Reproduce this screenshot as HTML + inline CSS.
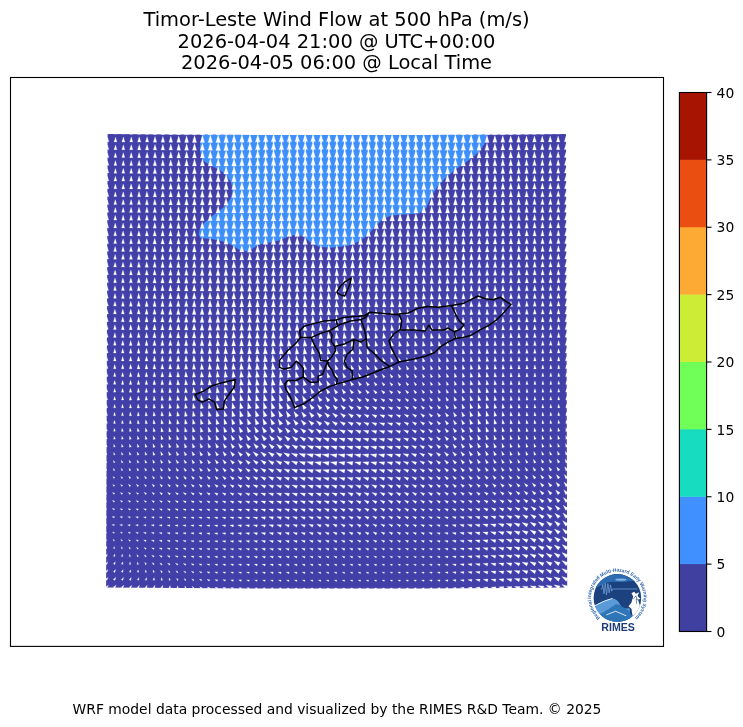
<!DOCTYPE html>
<html><head><meta charset="utf-8"><title>Timor-Leste Wind Flow at 500 hPa</title>
<style>html,body{margin:0;padding:0;background:#fff}svg{display:block}text{font-family:"DejaVu Sans","Liberation Sans",sans-serif;fill:#000}</style>
</head><body>
<svg width="743" height="727" viewBox="0 0 743 727">
<rect width="743" height="727" fill="#fff"/>
<g text-anchor="middle" font-size="19.44">
<text x="336.5" y="26">Timor-Leste Wind Flow at 500 hPa (m/s)</text>
<text x="336.5" y="47.6">2026-04-04 21:00 @ UTC+00:00</text>
<text x="336.5" y="69.2">2026-04-05 06:00 @ Local Time</text>
</g>
<clipPath id="dc"><path d="M107.6 134.0 Q336.8 136.2 566.0 134.0 L567.2 587.6 Q336.7 589.6 106.1 587.6Z"/></clipPath>
<path d="M107.6 134.0 Q336.8 136.2 566.0 134.0 L567.2 587.6 Q336.7 589.6 106.1 587.6Z" fill="#4240a8"/>
<path d="M203.4 130.0 L200.3 142.2 L199.7 148.7 L200.8 155.1 L202.9 160.5 L209.4 164.8 L218.0 169.1 L225.5 174.5 L230.9 182.1 L232.6 189.6 L231.3 197.1 L226.6 204.7 L220.1 210.1 L211.5 216.5 L204.0 223.0 L199.7 229.4 L198.6 234.8 L200.8 238.0 L211.5 239.1 L222.3 241.3 L230.9 244.5 L239.5 249.9 L247.1 251.6 L252.4 248.8 L258.9 244.5 L269.7 242.4 L280.4 240.2 L289.1 235.9 L297.7 234.8 L304.1 237.0 L310.6 242.4 L319.2 246.7 L330.0 247.7 L340.0 246.7 L348.6 245.6 L359.4 241.3 L368.0 234.8 L375.5 226.2 L383.1 218.7 L391.7 215.4 L404.6 214.4 L419.7 213.3 L426.1 207.9 L430.4 198.2 L436.9 187.4 L445.5 177.8 L456.3 169.1 L467.0 161.6 L477.8 153.0 L484.3 144.4 L488.6 130.0Z" fill="#3d8ffc" clip-path="url(#dc)"/>
<path d="M109.0 134.0 107.6 129.5 106.2 134.0zM116.9 134.1 115.5 129.4 114.1 134.1zM124.9 134.1 123.4 129.2 121.9 134.1zM132.8 134.2 131.3 129.1 129.8 134.2zM140.8 134.3 139.2 129.0 137.6 134.3zM148.8 134.3 147.1 128.8 145.5 134.3zM156.7 134.4 155.0 128.7 153.3 134.4zM164.7 134.4 162.9 128.5 161.2 134.4zM172.7 134.5 170.8 128.3 169.0 134.5zM180.7 134.5 178.7 128.1 176.8 134.5zM188.6 134.6 186.6 127.9 184.6 134.6zM196.6 134.6 194.5 127.6 192.4 134.6zM204.6 134.7 202.4 127.4 200.3 134.7zM212.6 134.7 210.3 127.2 208.1 134.7zM220.6 134.7 218.2 127.0 215.9 134.7zM226.9 134.8 226.9 133.9 228.5 134.7 226.2 126.9 223.8 134.7 225.4 133.9 225.4 134.8zM234.8 134.8 234.8 133.8 236.4 134.6 234.1 126.8 231.7 134.6 233.3 133.8 233.3 134.8zM242.7 134.8 242.7 133.7 244.3 134.5 242.0 126.7 239.6 134.5 241.2 133.7 241.2 134.8zM250.6 134.9 250.6 133.6 252.2 134.4 249.9 126.6 247.5 134.4 249.1 133.6 249.1 134.9zM258.5 134.9 258.5 133.5 260.1 134.3 257.8 126.5 255.4 134.3 257.0 133.5 257.0 134.9zM266.5 134.9 266.5 133.4 268.0 134.2 265.7 126.4 263.3 134.2 264.9 133.4 264.9 134.9zM274.4 134.9 274.4 133.4 275.9 134.1 273.6 126.3 271.2 134.1 272.8 133.4 272.8 134.9zM282.3 134.9 282.3 133.3 283.8 134.1 281.5 126.3 279.1 134.1 280.7 133.3 280.7 134.9zM290.2 135.0 290.2 133.3 291.7 134.1 289.4 126.2 287.0 134.1 288.6 133.3 288.6 135.0zM298.1 135.0 298.1 133.2 299.6 134.0 297.3 126.2 294.9 134.0 296.5 133.2 296.5 135.0zM306.0 135.0 306.0 133.2 307.5 134.0 305.2 126.1 302.8 134.0 304.4 133.2 304.4 135.0zM313.9 135.0 313.9 133.1 315.4 133.9 313.1 126.1 310.7 133.9 312.3 133.1 312.3 135.0zM321.8 135.0 321.8 133.1 323.3 133.9 321.0 126.0 318.6 133.9 320.2 133.1 320.2 135.0zM329.7 135.0 329.7 133.1 331.2 133.8 328.9 126.0 326.5 133.8 328.1 133.1 328.1 135.0zM337.6 135.0 337.6 133.1 339.2 133.9 336.8 126.0 334.4 133.9 336.0 133.1 336.0 135.0zM345.5 135.0 345.5 133.1 347.1 133.9 344.7 126.0 342.4 133.9 343.9 133.1 343.9 135.0zM353.4 135.0 353.4 133.1 355.0 133.9 352.6 126.0 350.3 133.9 351.8 133.1 351.8 135.0zM361.3 135.0 361.3 133.1 362.9 133.9 360.5 126.1 358.2 133.9 359.7 133.1 359.7 135.0zM369.2 135.0 369.2 133.1 370.8 133.9 368.4 126.1 366.1 133.9 367.6 133.1 367.6 135.0zM377.1 135.0 377.1 133.1 378.7 133.9 376.3 126.1 374.0 133.9 375.5 133.1 375.5 135.0zM385.0 135.0 385.0 133.1 386.6 133.9 384.2 126.1 381.9 133.9 383.4 133.1 383.4 135.0zM392.9 134.9 392.9 133.1 394.5 133.9 392.1 126.1 389.8 133.9 391.3 133.1 391.3 134.9zM400.8 134.9 400.8 133.2 402.4 134.0 400.0 126.2 397.7 134.0 399.2 133.2 399.2 134.9zM408.7 134.9 408.7 133.3 410.3 134.1 407.9 126.2 405.6 134.1 407.1 133.3 407.1 134.9zM416.6 134.9 416.6 133.4 418.2 134.2 415.8 126.3 413.5 134.2 415.1 133.4 415.1 134.9zM424.5 134.9 424.5 133.5 426.1 134.2 423.7 126.4 421.4 134.2 423.0 133.5 423.0 134.9zM432.4 134.8 432.4 133.5 434.0 134.3 431.6 126.5 429.3 134.3 430.9 133.5 430.9 134.8zM440.3 134.8 440.3 133.6 441.9 134.4 439.5 126.5 437.2 134.4 438.8 133.6 438.8 134.8zM448.2 134.8 448.2 133.7 449.8 134.5 447.4 126.6 445.1 134.5 446.7 133.7 446.7 134.8zM456.1 134.7 456.1 133.9 457.7 134.6 455.4 126.8 453.0 134.6 454.6 133.9 454.6 134.7zM465.6 134.7 463.3 127.0 460.9 134.7zM473.4 134.7 471.2 127.1 468.9 134.7zM481.3 134.6 479.1 127.3 476.9 134.6zM489.1 134.6 487.0 127.4 484.8 134.6zM497.0 134.5 494.9 127.6 492.8 134.5zM504.8 134.5 502.8 127.7 500.7 134.5zM512.7 134.4 510.7 127.8 508.7 134.4zM520.5 134.4 518.6 127.9 516.6 134.4zM528.4 134.3 526.5 128.0 524.6 134.3zM536.2 134.3 534.4 128.1 532.5 134.3zM544.1 134.2 542.3 128.1 540.5 134.2zM552.0 134.1 550.2 128.2 548.4 134.1zM559.8 134.1 558.1 128.2 556.4 134.1zM567.7 134.0 566.0 128.3 564.3 134.0zM108.9 141.8 107.6 137.3 106.2 141.8zM116.9 141.9 115.5 137.2 114.1 141.9zM124.9 142.0 123.4 137.0 121.9 142.0zM132.8 142.0 131.3 136.9 129.8 142.0zM140.8 142.1 139.2 136.8 137.6 142.1zM148.7 142.1 147.1 136.7 145.5 142.1zM156.7 142.2 155.0 136.5 153.3 142.2zM164.7 142.2 162.9 136.4 161.1 142.2zM172.7 142.3 170.8 136.2 169.0 142.3zM180.6 142.3 178.7 135.9 176.8 142.3zM188.6 142.4 186.6 135.7 184.6 142.4zM196.6 142.4 194.5 135.5 192.4 142.4zM204.6 142.5 202.4 135.3 200.3 142.5zM212.6 142.5 210.3 135.1 208.1 142.5zM220.5 142.6 218.2 134.9 215.9 142.6zM228.5 142.6 226.1 134.8 223.8 142.6zM234.8 142.6 234.8 141.7 236.4 142.5 234.0 134.7 231.7 142.5 233.3 141.7 233.3 142.6zM242.7 142.6 242.7 141.6 244.3 142.4 241.9 134.6 239.6 142.4 241.2 141.6 241.2 142.6zM250.6 142.7 250.6 141.5 252.2 142.3 249.9 134.5 247.5 142.3 249.1 141.5 249.1 142.7zM258.5 142.7 258.5 141.4 260.1 142.2 257.8 134.4 255.4 142.2 257.0 141.4 257.0 142.7zM266.4 142.7 266.4 141.3 268.0 142.1 265.7 134.3 263.3 142.1 264.9 141.3 264.9 142.7zM274.3 142.7 274.3 141.2 275.9 142.0 273.6 134.2 271.2 142.0 272.8 141.2 272.8 142.7zM282.3 142.8 282.3 141.2 283.8 142.0 281.5 134.1 279.1 142.0 280.7 141.2 280.7 142.8zM290.2 142.8 290.2 141.1 291.7 141.9 289.4 134.1 287.0 141.9 288.6 141.1 288.6 142.8zM298.1 142.8 298.1 141.1 299.6 141.9 297.3 134.0 294.9 141.9 296.5 141.1 296.5 142.8zM306.0 142.8 306.0 141.0 307.5 141.8 305.2 134.0 302.8 141.8 304.4 141.0 304.4 142.8zM313.9 142.8 313.9 141.0 315.4 141.8 313.1 133.9 310.7 141.8 312.3 141.0 312.3 142.8zM321.8 142.8 321.8 140.9 323.3 141.7 321.0 133.9 318.6 141.7 320.2 140.9 320.2 142.8zM329.7 142.8 329.7 140.9 331.2 141.7 328.9 133.9 326.5 141.7 328.1 140.9 328.1 142.8zM337.6 142.8 337.6 140.9 339.1 141.7 336.8 133.9 334.4 141.7 336.0 140.9 336.0 142.8zM345.5 142.8 345.5 141.0 347.1 141.7 344.7 133.9 342.4 141.7 343.9 141.0 343.9 142.8zM353.4 142.8 353.4 141.0 355.0 141.8 352.6 133.9 350.3 141.8 351.8 141.0 351.8 142.8zM361.3 142.8 361.3 141.0 362.9 141.8 360.5 133.9 358.2 141.8 359.7 141.0 359.7 142.8zM369.2 142.8 369.2 141.0 370.8 141.8 368.4 133.9 366.1 141.8 367.6 141.0 367.6 142.8zM377.1 142.8 377.1 141.0 378.7 141.8 376.3 134.0 374.0 141.8 375.5 141.0 375.5 142.8zM385.0 142.8 385.0 141.0 386.6 141.8 384.2 134.0 381.9 141.8 383.4 141.0 383.4 142.8zM392.9 142.8 392.9 141.0 394.5 141.8 392.1 134.0 389.8 141.8 391.3 141.0 391.3 142.8zM400.8 142.7 400.8 141.1 402.4 141.9 400.0 134.1 397.7 141.9 399.2 141.1 399.2 142.7zM408.7 142.7 408.7 141.2 410.3 142.0 407.9 134.2 405.6 142.0 407.2 141.2 407.2 142.7zM416.6 142.7 416.6 141.3 418.2 142.1 415.8 134.3 413.5 142.1 415.1 141.3 415.1 142.7zM424.5 142.7 424.5 141.4 426.1 142.2 423.7 134.3 421.4 142.2 423.0 141.4 423.0 142.7zM432.4 142.6 432.4 141.5 434.0 142.3 431.6 134.4 429.3 142.3 430.9 141.5 430.9 142.6zM440.3 142.6 440.3 141.6 441.9 142.3 439.6 134.5 437.2 142.3 438.8 141.6 438.8 142.6zM448.2 142.6 448.2 141.7 449.8 142.4 447.5 134.6 445.1 142.4 446.7 141.7 446.7 142.6zM457.7 142.6 455.4 134.8 453.0 142.6zM465.5 142.5 463.3 134.9 461.0 142.5zM473.4 142.5 471.2 135.1 468.9 142.5zM481.2 142.4 479.1 135.2 476.9 142.4zM489.1 142.4 487.0 135.3 484.9 142.4zM496.9 142.3 494.9 135.5 492.8 142.3zM504.8 142.3 502.8 135.6 500.8 142.3zM512.7 142.2 510.7 135.7 508.7 142.2zM520.5 142.2 518.6 135.8 516.7 142.2zM528.4 142.1 526.5 135.9 524.6 142.1zM536.3 142.1 534.4 135.9 532.6 142.1zM544.1 142.0 542.3 136.0 540.5 142.0zM552.0 142.0 550.2 136.0 548.4 142.0zM559.9 141.9 558.1 136.1 556.4 141.9zM567.7 141.8 566.0 136.1 564.3 141.8zM108.9 149.6 107.5 145.1 106.2 149.6zM116.9 149.7 115.5 145.0 114.0 149.7zM124.8 149.8 123.4 144.9 121.9 149.8zM132.8 149.8 131.3 144.7 129.7 149.8zM140.8 149.9 139.2 144.6 137.6 149.9zM148.7 150.0 147.1 144.5 145.4 150.0zM156.7 150.0 155.0 144.4 153.3 150.0zM164.6 150.1 162.9 144.2 161.1 150.1zM172.6 150.1 170.8 144.0 169.0 150.1zM180.6 150.2 178.7 143.8 176.8 150.2zM188.6 150.2 186.6 143.6 184.6 150.2zM196.6 150.3 194.5 143.4 192.4 150.3zM204.5 150.3 202.4 143.2 200.3 150.3zM212.5 150.3 210.3 143.0 208.1 150.3zM220.5 150.4 218.2 142.8 215.9 150.4zM228.4 150.4 226.1 142.7 223.8 150.4zM234.8 150.4 234.8 149.6 236.4 150.4 234.0 142.6 231.7 150.4 233.2 149.6 233.2 150.4zM242.7 150.5 242.7 149.5 244.3 150.3 241.9 142.5 239.6 150.3 241.2 149.5 241.2 150.5zM250.6 150.5 250.6 149.4 252.2 150.2 249.8 142.4 247.5 150.2 249.1 149.4 249.1 150.5zM258.5 150.5 258.5 149.3 260.1 150.1 257.7 142.3 255.4 150.1 257.0 149.3 257.0 150.5zM266.4 150.5 266.4 149.2 268.0 150.0 265.6 142.1 263.3 150.0 264.9 149.2 264.9 150.5zM274.3 150.6 274.3 149.1 275.9 149.9 273.6 142.1 271.2 149.9 272.8 149.1 272.8 150.6zM282.2 150.6 282.2 149.1 283.8 149.9 281.5 142.0 279.1 149.9 280.7 149.1 280.7 150.6zM290.1 150.6 290.1 149.0 291.7 149.8 289.4 142.0 287.0 149.8 288.6 149.0 288.6 150.6zM298.1 150.6 298.1 149.0 299.6 149.8 297.3 141.9 294.9 149.8 296.5 149.0 296.5 150.6zM306.0 150.6 306.0 148.9 307.5 149.7 305.2 141.9 302.8 149.7 304.4 148.9 304.4 150.6zM313.9 150.6 313.9 148.9 315.4 149.6 313.1 141.8 310.7 149.6 312.3 148.9 312.3 150.6zM321.8 150.6 321.8 148.8 323.3 149.6 321.0 141.7 318.6 149.6 320.2 148.8 320.2 150.6zM329.7 150.6 329.7 148.8 331.2 149.6 328.9 141.7 326.5 149.6 328.1 148.8 328.1 150.6zM337.6 150.6 337.6 148.8 339.1 149.6 336.8 141.8 334.4 149.6 336.0 148.8 336.0 150.6zM345.5 150.6 345.5 148.8 347.1 149.6 344.7 141.8 342.3 149.6 343.9 148.8 343.9 150.6zM353.4 150.6 353.4 148.9 355.0 149.6 352.6 141.8 350.3 149.6 351.8 148.9 351.8 150.6zM361.3 150.6 361.3 148.9 362.9 149.7 360.5 141.8 358.2 149.7 359.7 148.9 359.7 150.6zM369.2 150.6 369.2 148.9 370.8 149.7 368.4 141.8 366.1 149.7 367.6 148.9 367.6 150.6zM377.1 150.6 377.1 148.9 378.7 149.7 376.3 141.8 374.0 149.7 375.5 148.9 375.5 150.6zM385.0 150.6 385.0 148.9 386.6 149.7 384.2 141.9 381.9 149.7 383.4 148.9 383.4 150.6zM392.9 150.6 392.9 148.9 394.5 149.7 392.1 141.9 389.8 149.7 391.3 148.9 391.3 150.6zM400.8 150.6 400.8 149.0 402.4 149.8 400.0 142.0 397.7 149.8 399.3 149.0 399.3 150.6zM408.7 150.5 408.7 149.1 410.3 149.9 407.9 142.1 405.6 149.9 407.2 149.1 407.2 150.5zM416.6 150.5 416.6 149.2 418.2 150.0 415.8 142.2 413.5 150.0 415.1 149.2 415.1 150.5zM424.5 150.5 424.5 149.3 426.1 150.1 423.8 142.3 421.4 150.1 423.0 149.3 423.0 150.5zM432.4 150.5 432.4 149.4 434.0 150.2 431.7 142.4 429.3 150.2 430.9 149.4 430.9 150.5zM440.3 150.4 440.3 149.5 441.9 150.3 439.6 142.5 437.2 150.3 438.8 149.5 438.8 150.4zM448.2 150.4 448.2 149.6 449.8 150.4 447.5 142.6 445.1 150.4 446.7 149.6 446.7 150.4zM457.7 150.4 455.4 142.7 453.1 150.4zM465.5 150.3 463.3 142.9 461.0 150.3zM473.4 150.3 471.2 143.0 469.0 150.3zM481.2 150.3 479.1 143.1 476.9 150.3zM489.1 150.2 487.0 143.2 484.9 150.2zM496.9 150.2 494.9 143.4 492.9 150.2zM504.8 150.1 502.8 143.5 500.8 150.1zM512.7 150.1 510.7 143.6 508.8 150.1zM520.5 150.0 518.6 143.7 516.7 150.0zM528.4 150.0 526.5 143.7 524.6 150.0zM536.3 149.9 534.4 143.8 532.6 149.9zM544.1 149.8 542.3 143.8 540.5 149.8zM552.0 149.8 550.2 143.9 548.5 149.8zM559.9 149.7 558.1 143.9 556.4 149.7zM567.8 149.6 566.0 143.9 564.3 149.6zM108.9 157.5 107.5 152.9 106.2 157.5zM116.8 157.5 115.4 152.8 114.0 157.5zM124.8 157.6 123.3 152.7 121.9 157.6zM132.8 157.7 131.2 152.6 129.7 157.7zM140.7 157.7 139.1 152.4 137.6 157.7zM148.7 157.8 147.1 152.3 145.4 157.8zM156.7 157.8 155.0 152.2 153.3 157.8zM164.6 157.9 162.9 152.0 161.1 157.9zM172.6 157.9 170.8 151.8 168.9 157.9zM180.6 158.0 178.7 151.7 176.8 158.0zM188.6 158.0 186.6 151.5 184.6 158.0zM196.5 158.1 194.5 151.3 192.4 158.1zM204.5 158.1 202.4 151.1 200.3 158.1zM212.5 158.2 210.3 150.9 208.1 158.2zM220.5 158.2 218.2 150.7 216.0 158.2zM228.4 158.2 226.1 150.6 223.8 158.2zM236.3 158.3 234.0 150.5 231.7 158.3zM242.7 158.3 242.7 157.4 244.3 158.2 241.9 150.4 239.6 158.2 241.1 157.4 241.1 158.3zM250.6 158.3 250.6 157.3 252.2 158.1 249.8 150.3 247.5 158.1 249.0 157.3 249.0 158.3zM258.5 158.3 258.5 157.2 260.1 158.0 257.7 150.1 255.4 158.0 257.0 157.2 257.0 158.3zM266.4 158.4 266.4 157.1 268.0 157.9 265.6 150.0 263.3 157.9 264.9 157.1 264.9 158.4zM274.3 158.4 274.3 157.0 275.9 157.8 273.5 149.9 271.2 157.8 272.8 157.0 272.8 158.4zM282.2 158.4 282.2 156.9 283.8 157.7 281.5 149.9 279.1 157.7 280.7 156.9 280.7 158.4zM290.1 158.4 290.1 156.9 291.7 157.7 289.4 149.8 287.0 157.7 288.6 156.9 288.6 158.4zM298.0 158.4 298.0 156.8 299.6 157.6 297.3 149.8 294.9 157.6 296.5 156.8 296.5 158.4zM306.0 158.4 306.0 156.8 307.5 157.6 305.2 149.7 302.8 157.6 304.4 156.8 304.4 158.4zM313.9 158.5 313.9 156.7 315.4 157.5 313.1 149.7 310.7 157.5 312.3 156.7 312.3 158.5zM321.8 158.5 321.8 156.7 323.3 157.4 321.0 149.6 318.6 157.4 320.2 156.7 320.2 158.5zM329.7 158.5 329.7 156.6 331.2 157.4 328.9 149.6 326.5 157.4 328.1 156.6 328.1 158.5zM337.6 158.5 337.6 156.7 339.1 157.5 336.8 149.6 334.4 157.5 336.0 156.7 336.0 158.5zM345.5 158.5 345.5 156.7 347.0 157.5 344.7 149.6 342.3 157.5 343.9 156.7 343.9 158.5zM353.4 158.5 353.4 156.7 355.0 157.5 352.6 149.7 350.3 157.5 351.8 156.7 351.8 158.5zM361.3 158.5 361.3 156.8 362.9 157.5 360.5 149.7 358.2 157.5 359.7 156.8 359.7 158.5zM369.2 158.4 369.2 156.8 370.8 157.6 368.4 149.7 366.1 157.6 367.6 156.8 367.6 158.4zM377.1 158.4 377.1 156.8 378.7 157.6 376.3 149.7 374.0 157.6 375.5 156.8 375.5 158.4zM385.0 158.4 385.0 156.8 386.6 157.6 384.2 149.8 381.9 157.6 383.4 156.8 383.4 158.4zM392.9 158.4 392.9 156.9 394.5 157.6 392.1 149.8 389.8 157.6 391.3 156.9 391.3 158.4zM400.8 158.4 400.8 157.0 402.4 157.7 400.0 149.9 397.7 157.7 399.3 157.0 399.3 158.4zM408.7 158.4 408.7 157.1 410.3 157.9 407.9 150.0 405.6 157.9 407.2 157.1 407.2 158.4zM416.6 158.3 416.6 157.2 418.2 158.0 415.9 150.1 413.5 158.0 415.1 157.2 415.1 158.3zM424.5 158.3 424.5 157.3 426.1 158.1 423.8 150.2 421.4 158.1 423.0 157.3 423.0 158.3zM432.4 158.3 432.4 157.4 434.0 158.2 431.7 150.3 429.3 158.2 430.9 157.4 430.9 158.3zM440.4 158.3 440.4 157.5 441.9 158.3 439.6 150.4 437.2 158.3 438.8 157.5 438.8 158.3zM449.8 158.2 447.5 150.5 445.2 158.2zM457.6 158.2 455.4 150.7 453.1 158.2zM465.5 158.2 463.3 150.8 461.1 158.2zM473.4 158.1 471.2 150.9 469.0 158.1zM481.2 158.1 479.1 151.1 477.0 158.1zM489.1 158.0 487.0 151.2 484.9 158.0zM496.9 158.0 494.9 151.3 492.9 158.0zM504.8 157.9 502.8 151.4 500.8 157.9zM512.7 157.9 510.7 151.5 508.8 157.9zM520.5 157.8 518.6 151.5 516.7 157.8zM528.4 157.8 526.5 151.6 524.7 157.8zM536.3 157.7 534.4 151.6 532.6 157.7zM544.1 157.7 542.3 151.7 540.6 157.7zM552.0 157.6 550.3 151.7 548.5 157.6zM559.9 157.5 558.2 151.7 556.4 157.5zM567.8 157.5 566.1 151.8 564.4 157.5zM108.9 165.3 107.5 160.7 106.1 165.3zM116.8 165.4 115.4 160.6 114.0 165.4zM124.8 165.4 123.3 160.5 121.8 165.4zM132.7 165.5 131.2 160.4 129.7 165.5zM140.7 165.5 139.1 160.3 137.5 165.5zM148.7 165.6 147.0 160.1 145.4 165.6zM156.6 165.7 154.9 160.0 153.2 165.7zM164.6 165.7 162.8 159.9 161.1 165.7zM172.6 165.8 170.7 159.7 168.9 165.8zM180.5 165.8 178.7 159.5 176.8 165.8zM188.5 165.9 186.6 159.3 184.6 165.9zM196.5 165.9 194.5 159.1 192.4 165.9zM204.5 165.9 202.4 159.0 200.3 165.9zM212.4 166.0 210.3 158.8 208.1 166.0zM220.4 166.0 218.2 158.6 216.0 166.0zM228.4 166.0 226.1 158.5 223.8 166.0zM236.3 166.1 234.0 158.4 231.7 166.1zM242.7 166.1 242.7 165.3 244.3 166.1 241.9 158.3 239.6 166.1 241.1 165.3 241.1 166.1zM250.6 166.1 250.6 165.2 252.2 166.0 249.8 158.2 247.5 166.0 249.0 165.2 249.0 166.1zM258.5 166.2 258.5 165.1 260.1 165.9 257.7 158.0 255.4 165.9 256.9 165.1 256.9 166.2zM266.4 166.2 266.4 165.0 268.0 165.7 265.6 157.9 263.3 165.7 264.8 165.0 264.8 166.2zM274.3 166.2 274.3 164.9 275.9 165.7 273.5 157.8 271.2 165.7 272.8 164.9 272.8 166.2zM282.2 166.2 282.2 164.8 283.8 165.6 281.4 157.8 279.1 165.6 280.7 164.8 280.7 166.2zM290.1 166.2 290.1 164.8 291.7 165.5 289.3 157.7 287.0 165.5 288.6 164.8 288.6 166.2zM298.0 166.3 298.0 164.7 299.6 165.5 297.3 157.7 294.9 165.5 296.5 164.7 296.5 166.3zM305.9 166.3 305.9 164.6 307.5 165.4 305.2 157.6 302.8 165.4 304.4 164.6 304.4 166.3zM313.9 166.3 313.9 164.6 315.4 165.4 313.1 157.5 310.7 165.4 312.3 164.6 312.3 166.3zM321.8 166.3 321.8 164.5 323.3 165.3 321.0 157.5 318.6 165.3 320.2 164.5 320.2 166.3zM329.7 166.3 329.7 164.5 331.2 165.3 328.9 157.4 326.5 165.3 328.1 164.5 328.1 166.3zM337.6 166.3 337.6 164.5 339.1 165.3 336.8 157.5 334.4 165.3 336.0 164.5 336.0 166.3zM345.5 166.3 345.5 164.6 347.0 165.4 344.7 157.5 342.3 165.4 343.9 164.6 343.9 166.3zM353.4 166.3 353.4 164.6 355.0 165.4 352.6 157.6 350.3 165.4 351.8 164.6 351.8 166.3zM361.3 166.3 361.3 164.6 362.9 165.4 360.5 157.6 358.2 165.4 359.7 164.6 359.7 166.3zM369.2 166.3 369.2 164.7 370.8 165.4 368.4 157.6 366.1 165.4 367.6 164.7 367.6 166.3zM377.1 166.3 377.1 164.7 378.7 165.5 376.3 157.6 374.0 165.5 375.5 164.7 375.5 166.3zM385.0 166.2 385.0 164.7 386.6 165.5 384.2 157.7 381.9 165.5 383.4 164.7 383.4 166.2zM392.9 166.2 392.9 164.8 394.5 165.5 392.1 157.7 389.8 165.5 391.4 164.8 391.4 166.2zM400.8 166.2 400.8 164.9 402.4 165.7 400.0 157.8 397.7 165.7 399.3 164.9 399.3 166.2zM408.7 166.2 408.7 165.0 410.3 165.8 407.9 157.9 405.6 165.8 407.2 165.0 407.2 166.2zM416.6 166.2 416.6 165.1 418.2 165.9 415.9 158.1 413.5 165.9 415.1 165.1 415.1 166.2zM424.5 166.1 424.5 165.2 426.1 166.0 423.8 158.2 421.4 166.0 423.0 165.2 423.0 166.1zM432.5 166.1 432.5 165.3 434.0 166.1 431.7 158.3 429.3 166.1 430.9 165.3 430.9 166.1zM441.9 166.1 439.6 158.4 437.3 166.1zM449.8 166.0 447.5 158.5 445.2 166.0zM457.6 166.0 455.4 158.6 453.2 166.0zM465.5 166.0 463.3 158.7 461.1 166.0zM473.3 165.9 471.2 158.9 469.1 165.9zM481.2 165.9 479.1 159.0 477.0 165.9zM489.1 165.9 487.0 159.1 485.0 165.9zM496.9 165.8 494.9 159.2 492.9 165.8zM504.8 165.8 502.8 159.2 500.9 165.8zM512.6 165.7 510.7 159.3 508.8 165.7zM520.5 165.7 518.6 159.4 516.8 165.7zM528.4 165.6 526.5 159.4 524.7 165.6zM536.3 165.5 534.5 159.5 532.6 165.5zM544.1 165.5 542.4 159.5 540.6 165.5zM552.0 165.4 550.3 159.5 548.5 165.4zM559.9 165.4 558.2 159.6 556.4 165.4zM567.8 165.3 566.1 159.6 564.4 165.3zM108.8 173.1 107.5 168.5 106.1 173.1zM116.8 173.2 115.4 168.4 114.0 173.2zM124.8 173.2 123.3 168.3 121.8 173.2zM132.7 173.3 131.2 168.2 129.7 173.3zM140.7 173.4 139.1 168.1 137.5 173.4zM148.6 173.4 147.0 168.0 145.4 173.4zM156.6 173.5 154.9 167.8 153.2 173.5zM164.6 173.5 162.8 167.7 161.1 173.5zM172.5 173.6 170.7 167.5 168.9 173.6zM180.5 173.6 178.6 167.4 176.8 173.6zM188.5 173.7 186.5 167.2 184.6 173.7zM196.5 173.7 194.5 167.0 192.4 173.7zM204.4 173.8 202.4 166.8 200.3 173.8zM212.4 173.8 210.3 166.7 208.1 173.8zM220.4 173.8 218.2 166.5 216.0 173.8zM228.3 173.9 226.1 166.4 223.8 173.9zM236.3 173.9 234.0 166.3 231.7 173.9zM244.2 173.9 241.9 166.2 239.6 173.9zM250.6 174.0 250.6 173.1 252.2 173.9 249.8 166.0 247.5 173.9 249.0 173.1 249.0 174.0zM258.5 174.0 258.5 173.0 260.1 173.8 257.7 165.9 255.4 173.8 256.9 173.0 256.9 174.0zM266.4 174.0 266.4 172.8 268.0 173.6 265.6 165.8 263.3 173.6 264.8 172.8 264.8 174.0zM274.3 174.0 274.3 172.8 275.9 173.5 273.5 165.7 271.2 173.5 272.7 172.8 272.7 174.0zM282.2 174.0 282.2 172.7 283.8 173.5 281.4 165.6 279.1 173.5 280.7 172.7 280.7 174.0zM290.1 174.1 290.1 172.6 291.7 173.4 289.3 165.6 287.0 173.4 288.6 172.6 288.6 174.1zM298.0 174.1 298.0 172.6 299.6 173.4 297.2 165.5 294.9 173.4 296.5 172.6 296.5 174.1zM305.9 174.1 305.9 172.5 307.5 173.3 305.2 165.5 302.8 173.3 304.4 172.5 304.4 174.1zM313.8 174.1 313.8 172.4 315.4 173.2 313.1 165.4 310.7 173.2 312.3 172.4 312.3 174.1zM321.8 174.1 321.8 172.4 323.3 173.2 321.0 165.3 318.6 173.2 320.2 172.4 320.2 174.1zM329.7 174.1 329.7 172.4 331.2 173.1 328.9 165.3 326.5 173.1 328.1 172.4 328.1 174.1zM337.6 174.1 337.6 172.4 339.1 173.2 336.8 165.4 334.4 173.2 336.0 172.4 336.0 174.1zM345.5 174.1 345.5 172.4 347.0 173.2 344.7 165.4 342.3 173.2 343.9 172.4 343.9 174.1zM353.4 174.1 353.4 172.5 355.0 173.3 352.6 165.4 350.3 173.3 351.8 172.5 351.8 174.1zM361.3 174.1 361.3 172.5 362.9 173.3 360.5 165.5 358.2 173.3 359.7 172.5 359.7 174.1zM369.2 174.1 369.2 172.6 370.8 173.3 368.4 165.5 366.1 173.3 367.6 172.6 367.6 174.1zM377.1 174.1 377.1 172.6 378.7 173.4 376.3 165.5 374.0 173.4 375.5 172.6 375.5 174.1zM385.0 174.1 385.0 172.6 386.6 173.4 384.2 165.6 381.9 173.4 383.4 172.6 383.4 174.1zM392.9 174.0 392.9 172.7 394.5 173.5 392.1 165.6 389.8 173.5 391.4 172.7 391.4 174.0zM400.8 174.0 400.8 172.8 402.4 173.6 400.0 165.7 397.7 173.6 399.3 172.8 399.3 174.0zM408.7 174.0 408.7 172.9 410.3 173.7 408.0 165.9 405.6 173.7 407.2 172.9 407.2 174.0zM416.6 174.0 416.6 173.0 418.2 173.8 415.9 166.0 413.5 173.8 415.1 173.0 415.1 174.0zM424.6 174.0 424.6 173.2 426.1 173.9 423.8 166.1 421.4 173.9 423.0 173.2 423.0 174.0zM434.0 173.9 431.7 166.2 429.4 173.9zM441.9 173.9 439.6 166.3 437.3 173.9zM449.7 173.9 447.5 166.5 445.3 173.9zM457.6 173.8 455.4 166.6 453.2 173.8zM465.4 173.8 463.3 166.7 461.2 173.8zM473.3 173.8 471.2 166.8 469.1 173.8zM481.2 173.7 479.1 166.9 477.1 173.7zM489.0 173.7 487.0 167.0 485.0 173.7zM496.9 173.6 494.9 167.1 493.0 173.6zM504.8 173.6 502.8 167.1 500.9 173.6zM512.6 173.5 510.8 167.2 508.9 173.5zM520.5 173.5 518.7 167.3 516.8 173.5zM528.4 173.4 526.6 167.3 524.7 173.4zM536.3 173.4 534.5 167.3 532.7 173.4zM544.2 173.3 542.4 167.4 540.6 173.3zM552.0 173.2 550.3 167.4 548.5 173.2zM559.9 173.2 558.2 167.4 556.5 173.2zM567.8 173.1 566.1 167.4 564.4 173.1zM108.8 180.9 107.4 176.3 106.1 180.9zM116.8 181.0 115.4 176.2 113.9 181.0zM124.7 181.1 123.3 176.1 121.8 181.1zM132.7 181.1 131.2 176.0 129.6 181.1zM140.7 181.2 139.1 175.9 137.5 181.2zM148.6 181.2 147.0 175.8 145.4 181.2zM156.6 181.3 154.9 175.7 153.2 181.3zM164.5 181.3 162.8 175.5 161.1 181.3zM172.5 181.4 170.7 175.4 168.9 181.4zM180.5 181.4 178.6 175.2 176.8 181.4zM188.5 181.5 186.5 175.1 184.6 181.5zM196.4 181.5 194.4 174.9 192.4 181.5zM204.4 181.6 202.3 174.7 200.3 181.6zM212.4 181.6 210.3 174.6 208.1 181.6zM220.3 181.7 218.2 174.4 216.0 181.7zM228.3 181.7 226.1 174.3 223.8 181.7zM236.2 181.7 234.0 174.2 231.7 181.7zM244.2 181.8 241.9 174.1 239.6 181.8zM250.6 181.8 250.6 181.0 252.1 181.8 249.8 173.9 247.4 181.8 249.0 181.0 249.0 181.8zM258.5 181.8 258.5 180.9 260.1 181.6 257.7 173.8 255.4 181.6 256.9 180.9 256.9 181.8zM266.4 181.8 266.4 180.7 268.0 181.5 265.6 173.7 263.3 181.5 264.8 180.7 264.8 181.8zM274.3 181.8 274.3 180.6 275.9 181.4 273.5 173.6 271.2 181.4 272.7 180.6 272.7 181.8zM282.2 181.9 282.2 180.6 283.8 181.4 281.4 173.5 279.1 181.4 280.6 180.6 280.6 181.9zM290.1 181.9 290.1 180.5 291.7 181.3 289.3 173.5 287.0 181.3 288.6 180.5 288.6 181.9zM298.0 181.9 298.0 180.4 299.6 181.2 297.2 173.4 294.9 181.2 296.5 180.4 296.5 181.9zM305.9 181.9 305.9 180.4 307.5 181.2 305.2 173.3 302.8 181.2 304.4 180.4 304.4 181.9zM313.8 181.9 313.8 180.3 315.4 181.1 313.1 173.3 310.7 181.1 312.3 180.3 312.3 181.9zM321.8 181.9 321.8 180.2 323.3 181.0 321.0 173.2 318.6 181.0 320.2 180.2 320.2 181.9zM329.7 181.9 329.7 180.2 331.2 181.0 328.9 173.2 326.5 181.0 328.1 180.2 328.1 181.9zM337.6 181.9 337.6 180.3 339.1 181.1 336.8 173.2 334.4 181.1 336.0 180.3 336.0 181.9zM345.5 181.9 345.5 180.3 347.0 181.1 344.7 173.3 342.3 181.1 343.9 180.3 343.9 181.9zM353.4 181.9 353.4 180.4 355.0 181.1 352.6 173.3 350.3 181.1 351.8 180.4 351.8 181.9zM361.3 181.9 361.3 180.4 362.9 181.2 360.5 173.4 358.2 181.2 359.7 180.4 359.7 181.9zM369.2 181.9 369.2 180.4 370.8 181.2 368.4 173.4 366.1 181.2 367.6 180.4 367.6 181.9zM377.1 181.9 377.1 180.5 378.7 181.3 376.3 173.4 374.0 181.3 375.5 180.5 375.5 181.9zM385.0 181.9 385.0 180.5 386.6 181.3 384.2 173.5 381.9 181.3 383.5 180.5 383.5 181.9zM392.9 181.9 392.9 180.6 394.5 181.4 392.1 173.5 389.8 181.4 391.4 180.6 391.4 181.9zM400.8 181.8 400.8 180.7 402.4 181.5 400.1 173.7 397.7 181.5 399.3 180.7 399.3 181.8zM408.7 181.8 408.7 180.8 410.3 181.6 408.0 173.8 405.6 181.6 407.2 180.8 407.2 181.8zM416.7 181.8 416.7 181.0 418.2 181.8 415.9 173.9 413.5 181.8 415.1 181.0 415.1 181.8zM426.1 181.8 423.8 174.1 421.5 181.8zM434.0 181.8 431.7 174.2 429.4 181.8zM441.8 181.7 439.6 174.3 437.4 181.7zM449.7 181.7 447.5 174.4 445.3 181.7zM457.5 181.7 455.4 174.5 453.3 181.7zM465.4 181.6 463.3 174.6 461.2 181.6zM473.3 181.6 471.2 174.7 469.2 181.6zM481.2 181.5 479.1 174.8 477.1 181.5zM489.0 181.5 487.0 174.9 485.1 181.5zM496.9 181.4 494.9 175.0 493.0 181.4zM504.8 181.4 502.9 175.0 500.9 181.4zM512.6 181.3 510.8 175.1 508.9 181.3zM520.5 181.3 518.7 175.1 516.8 181.3zM528.4 181.2 526.6 175.2 524.8 181.2zM536.3 181.2 534.5 175.2 532.7 181.2zM544.2 181.1 542.4 175.2 540.6 181.1zM552.1 181.1 550.3 175.2 548.6 181.1zM559.9 181.0 558.2 175.2 556.5 181.0zM567.8 180.9 566.1 175.2 564.4 180.9zM108.8 188.7 107.4 184.2 106.0 188.7zM116.8 188.8 115.3 184.1 113.9 188.8zM124.7 188.9 123.2 183.9 121.8 188.9zM132.7 188.9 131.1 183.8 129.6 188.9zM140.6 189.0 139.1 183.7 137.5 189.0zM148.6 189.1 147.0 183.6 145.3 189.1zM156.6 189.1 154.9 183.5 153.2 189.1zM164.5 189.2 162.8 183.4 161.0 189.2zM172.5 189.2 170.7 183.2 168.9 189.2zM180.5 189.3 178.6 183.1 176.7 189.3zM188.4 189.3 186.5 182.9 184.6 189.3zM196.4 189.4 194.4 182.8 192.4 189.4zM204.4 189.4 202.3 182.6 200.3 189.4zM212.3 189.4 210.2 182.5 208.1 189.4zM220.3 189.5 218.1 182.3 216.0 189.5zM228.3 189.5 226.1 182.2 223.9 189.5zM236.2 189.5 234.0 182.1 231.7 189.5zM244.2 189.6 241.9 181.9 239.6 189.6zM252.1 189.6 249.8 181.8 247.4 189.6zM258.5 189.6 258.5 188.7 260.0 189.5 257.7 181.7 255.3 189.5 256.9 188.7 256.9 189.6zM266.4 189.6 266.4 188.6 268.0 189.4 265.6 181.6 263.2 189.4 264.8 188.6 264.8 189.6zM274.3 189.7 274.3 188.5 275.9 189.3 273.5 181.5 271.2 189.3 272.7 188.5 272.7 189.7zM282.2 189.7 282.2 188.4 283.8 189.2 281.4 181.4 279.1 189.2 280.6 188.4 280.6 189.7zM290.1 189.7 290.1 188.4 291.7 189.2 289.3 181.3 287.0 189.2 288.5 188.4 288.5 189.7zM298.0 189.7 298.0 188.3 299.6 189.1 297.2 181.3 294.9 189.1 296.5 188.3 296.5 189.7zM305.9 189.7 305.9 188.2 307.5 189.0 305.1 181.2 302.8 189.0 304.4 188.2 304.4 189.7zM313.8 189.7 313.8 188.2 315.4 189.0 313.1 181.1 310.7 189.0 312.3 188.2 312.3 189.7zM321.7 189.7 321.7 188.1 323.3 188.9 321.0 181.0 318.6 188.9 320.2 188.1 320.2 189.7zM329.7 189.7 329.7 188.1 331.2 188.9 328.9 181.0 326.5 188.9 328.1 188.1 328.1 189.7zM337.6 189.7 337.6 188.1 339.1 188.9 336.8 181.1 334.4 188.9 336.0 188.1 336.0 189.7zM345.5 189.7 345.5 188.2 347.0 189.0 344.7 181.1 342.3 189.0 343.9 188.2 343.9 189.7zM353.4 189.7 353.4 188.2 355.0 189.0 352.6 181.2 350.2 189.0 351.8 188.2 351.8 189.7zM361.3 189.7 361.3 188.3 362.9 189.1 360.5 181.2 358.2 189.1 359.7 188.3 359.7 189.7zM369.2 189.7 369.2 188.3 370.8 189.1 368.4 181.3 366.1 189.1 367.6 188.3 367.6 189.7zM377.1 189.7 377.1 188.4 378.7 189.2 376.3 181.3 374.0 189.2 375.5 188.4 375.5 189.7zM385.0 189.7 385.0 188.4 386.6 189.2 384.2 181.4 381.9 189.2 383.5 188.4 383.5 189.7zM392.9 189.7 392.9 188.5 394.5 189.3 392.1 181.4 389.8 189.3 391.4 188.5 391.4 189.7zM400.8 189.7 400.8 188.6 402.4 189.4 400.1 181.6 397.7 189.4 399.3 188.6 399.3 189.7zM408.7 189.6 408.7 188.8 410.3 189.6 408.0 181.7 405.6 189.6 407.2 188.8 407.2 189.6zM418.2 189.6 415.9 181.9 413.5 189.6zM426.1 189.6 423.8 182.0 421.5 189.6zM433.9 189.6 431.7 182.1 429.5 189.6zM441.8 189.5 439.6 182.3 437.4 189.5zM449.6 189.5 447.5 182.4 445.4 189.5zM457.5 189.5 455.4 182.5 453.3 189.5zM465.4 189.4 463.3 182.6 461.3 189.4zM473.3 189.4 471.2 182.6 469.2 189.4zM481.1 189.4 479.1 182.7 477.2 189.4zM489.0 189.3 487.1 182.8 485.1 189.3zM496.9 189.3 495.0 182.9 493.0 189.3zM504.8 189.2 502.9 182.9 501.0 189.2zM512.6 189.2 510.8 183.0 508.9 189.2zM520.5 189.1 518.7 183.0 516.9 189.1zM528.4 189.1 526.6 183.0 524.8 189.1zM536.3 189.0 534.5 183.1 532.7 189.0zM544.2 188.9 542.4 183.1 540.7 188.9zM552.1 188.9 550.3 183.1 548.6 188.9zM560.0 188.8 558.2 183.1 556.5 188.8zM567.9 188.7 566.1 183.0 564.4 188.7zM108.8 196.6 107.4 192.0 106.0 196.6zM116.7 196.6 115.3 191.9 113.9 196.6zM124.7 196.7 123.2 191.8 121.7 196.7zM132.7 196.8 131.1 191.7 129.6 196.8zM140.6 196.8 139.0 191.6 137.5 196.8zM148.6 196.9 146.9 191.4 145.3 196.9zM156.5 196.9 154.9 191.3 153.2 196.9zM164.5 197.0 162.8 191.2 161.0 197.0zM172.5 197.0 170.7 191.1 168.9 197.0zM180.4 197.1 178.6 190.9 176.7 197.1zM188.4 197.1 186.5 190.8 184.6 197.1zM196.4 197.2 194.4 190.7 192.4 197.2zM204.3 197.2 202.3 190.5 200.3 197.2zM212.3 197.3 210.2 190.4 208.2 197.3zM220.3 197.3 218.1 190.2 216.0 197.3zM228.2 197.3 226.0 190.1 223.9 197.3zM236.2 197.4 234.0 190.0 231.7 197.4zM244.1 197.4 241.9 189.8 239.6 197.4zM252.1 197.4 249.8 189.7 247.5 197.4zM258.5 197.4 258.5 196.6 260.0 197.4 257.7 189.6 255.3 197.4 256.9 196.6 256.9 197.4zM266.4 197.5 266.4 196.5 267.9 197.3 265.6 189.4 263.2 197.3 264.8 196.5 264.8 197.5zM274.3 197.5 274.3 196.4 275.9 197.2 273.5 189.3 271.1 197.2 272.7 196.4 272.7 197.5zM282.2 197.5 282.2 196.3 283.8 197.1 281.4 189.3 279.1 197.1 280.6 196.3 280.6 197.5zM290.1 197.5 290.1 196.3 291.7 197.0 289.3 189.2 287.0 197.0 288.5 196.3 288.5 197.5zM298.0 197.5 298.0 196.2 299.6 197.0 297.2 189.1 294.9 197.0 296.4 196.2 296.4 197.5zM305.9 197.5 305.9 196.1 307.5 196.9 305.1 189.1 302.8 196.9 304.4 196.1 304.4 197.5zM313.8 197.6 313.8 196.0 315.4 196.8 313.0 189.0 310.7 196.8 312.3 196.0 312.3 197.6zM321.7 197.6 321.7 195.9 323.3 196.7 321.0 188.9 318.6 196.7 320.2 195.9 320.2 197.6zM329.7 197.6 329.7 195.9 331.2 196.7 328.9 188.9 326.5 196.7 328.1 195.9 328.1 197.6zM337.6 197.6 337.6 196.0 339.1 196.8 336.8 188.9 334.4 196.8 336.0 196.0 336.0 197.6zM345.5 197.6 345.5 196.1 347.0 196.8 344.7 189.0 342.3 196.8 343.9 196.1 343.9 197.6zM353.4 197.6 353.4 196.1 354.9 196.9 352.6 189.1 350.2 196.9 351.8 196.1 351.8 197.6zM361.3 197.6 361.3 196.2 362.9 197.0 360.5 189.1 358.2 197.0 359.7 196.2 359.7 197.6zM369.2 197.5 369.2 196.2 370.8 197.0 368.4 189.2 366.1 197.0 367.6 196.2 367.6 197.5zM377.1 197.5 377.1 196.3 378.7 197.1 376.3 189.2 374.0 197.1 375.5 196.3 375.5 197.5zM385.0 197.5 385.0 196.3 386.6 197.1 384.2 189.3 381.9 197.1 383.5 196.3 383.5 197.5zM392.9 197.5 392.9 196.4 394.5 197.2 392.1 189.3 389.8 197.2 391.4 196.4 391.4 197.5zM400.8 197.5 400.8 196.5 402.4 197.3 400.1 189.5 397.7 197.3 399.3 196.5 399.3 197.5zM410.3 197.5 408.0 189.6 405.6 197.5zM418.2 197.4 415.9 189.8 413.6 197.4zM426.0 197.4 423.8 189.9 421.5 197.4zM433.9 197.4 431.7 190.1 429.5 197.4zM441.8 197.4 439.6 190.2 437.5 197.4zM449.6 197.3 447.5 190.3 445.4 197.3zM457.5 197.3 455.4 190.4 453.4 197.3zM465.4 197.3 463.3 190.5 461.3 197.3zM473.2 197.2 471.2 190.6 469.3 197.2zM481.1 197.2 479.2 190.7 477.2 197.2zM489.0 197.1 487.1 190.7 485.1 197.1zM496.9 197.1 495.0 190.8 493.1 197.1zM504.8 197.0 502.9 190.8 501.0 197.0zM512.6 197.0 510.8 190.9 509.0 197.0zM520.5 196.9 518.7 190.9 516.9 196.9zM528.4 196.9 526.6 190.9 524.8 196.9zM536.3 196.8 534.5 190.9 532.8 196.8zM544.2 196.8 542.4 190.9 540.7 196.8zM552.1 196.7 550.3 190.9 548.6 196.7zM560.0 196.6 558.3 190.9 556.5 196.6zM567.9 196.6 566.2 190.9 564.5 196.6zM108.7 204.4 107.4 199.8 106.0 204.4zM116.7 204.5 115.3 199.7 113.8 204.5zM124.7 204.5 123.2 199.6 121.7 204.5zM132.6 204.6 131.1 199.5 129.6 204.6zM140.6 204.6 139.0 199.4 137.4 204.6zM148.5 204.7 146.9 199.3 145.3 204.7zM156.5 204.8 154.8 199.2 153.2 204.8zM164.5 204.8 162.7 199.0 161.0 204.8zM172.4 204.9 170.7 198.9 168.9 204.9zM180.4 204.9 178.6 198.8 176.7 204.9zM188.4 205.0 186.5 198.6 184.6 205.0zM196.3 205.0 194.4 198.5 192.4 205.0zM204.3 205.0 202.3 198.4 200.3 205.0zM212.3 205.1 210.2 198.2 208.1 205.1zM220.2 205.1 218.1 198.1 216.0 205.1zM228.2 205.2 226.0 198.0 223.9 205.2zM236.1 205.2 233.9 197.9 231.7 205.2zM244.1 205.2 241.8 197.7 239.6 205.2zM252.0 205.2 249.8 197.6 247.5 205.2zM260.0 205.3 257.7 197.5 255.3 205.3zM266.4 205.3 266.4 204.4 267.9 205.2 265.6 197.4 263.2 205.2 264.8 204.4 264.8 205.3zM274.3 205.3 274.3 204.3 275.8 205.1 273.5 197.3 271.1 205.1 272.7 204.3 272.7 205.3zM282.2 205.3 282.2 204.3 283.8 205.1 281.4 197.2 279.1 205.1 280.6 204.3 280.6 205.3zM290.1 205.3 290.1 204.2 291.7 205.0 289.3 197.2 287.0 205.0 288.5 204.2 288.5 205.3zM298.0 205.4 298.0 204.1 299.6 204.9 297.2 197.1 294.9 204.9 296.4 204.1 296.4 205.4zM305.9 205.4 305.9 204.1 307.5 204.9 305.1 197.0 302.8 204.9 304.4 204.1 304.4 205.4zM313.8 205.4 313.8 204.0 315.4 204.8 313.0 197.0 310.7 204.8 312.3 204.0 312.3 205.4zM321.7 205.4 321.7 203.9 323.3 204.7 321.0 196.9 318.6 204.7 320.2 203.9 320.2 205.4zM329.6 205.4 329.6 203.9 331.2 204.7 328.9 196.9 326.5 204.7 328.1 203.9 328.1 205.4zM337.6 205.4 337.6 204.0 339.1 204.8 336.8 196.9 334.4 204.8 336.0 204.0 336.0 205.4zM345.5 205.4 345.5 204.0 347.0 204.8 344.7 197.0 342.3 204.8 343.9 204.0 343.9 205.4zM353.4 205.4 353.4 204.1 354.9 204.9 352.6 197.0 350.2 204.9 351.8 204.1 351.8 205.4zM361.3 205.4 361.3 204.1 362.9 204.9 360.5 197.1 358.2 204.9 359.7 204.1 359.7 205.4zM369.2 205.4 369.2 204.2 370.8 205.0 368.4 197.1 366.1 205.0 367.6 204.2 367.6 205.4zM377.1 205.4 377.1 204.2 378.7 205.0 376.3 197.2 374.0 205.0 375.5 204.2 375.5 205.4zM385.0 205.3 385.0 204.3 386.6 205.1 384.2 197.2 381.9 205.1 383.5 204.3 383.5 205.3zM392.9 205.3 392.9 204.4 394.5 205.1 392.2 197.3 389.8 205.1 391.4 204.4 391.4 205.3zM400.8 205.3 400.8 204.5 402.4 205.3 400.1 197.5 397.7 205.3 399.3 204.5 399.3 205.3zM410.3 205.3 408.0 197.6 405.7 205.3zM418.1 205.3 415.9 197.7 413.6 205.3zM426.0 205.2 423.8 197.9 421.6 205.2zM433.9 205.2 431.7 198.0 429.5 205.2zM441.7 205.2 439.6 198.1 437.5 205.2zM449.6 205.2 447.5 198.3 445.5 205.2zM457.5 205.1 455.4 198.3 453.4 205.1zM465.4 205.1 463.3 198.4 461.3 205.1zM473.2 205.0 471.3 198.5 469.3 205.0zM481.1 205.0 479.2 198.5 477.2 205.0zM489.0 205.0 487.1 198.6 485.2 205.0zM496.9 204.9 495.0 198.6 493.1 204.9zM504.8 204.9 502.9 198.7 501.0 204.9zM512.6 204.8 510.8 198.7 509.0 204.8zM520.5 204.8 518.7 198.7 516.9 204.8zM528.4 204.7 526.6 198.8 524.8 204.7zM536.3 204.6 534.5 198.8 532.8 204.6zM544.2 204.6 542.5 198.8 540.7 204.6zM552.1 204.5 550.4 198.7 548.6 204.5zM560.0 204.5 558.3 198.7 556.6 204.5zM567.9 204.4 566.2 198.7 564.5 204.4zM108.7 212.2 107.3 207.6 106.0 212.2zM116.7 212.3 115.3 207.5 113.8 212.3zM124.6 212.3 123.2 207.4 121.7 212.3zM132.6 212.4 131.1 207.3 129.5 212.4zM140.6 212.5 139.0 207.2 137.4 212.5zM148.5 212.5 146.9 207.1 145.3 212.5zM156.5 212.6 154.8 207.0 153.1 212.6zM164.5 212.6 162.7 206.9 161.0 212.6zM172.4 212.7 170.6 206.7 168.9 212.7zM180.4 212.7 178.5 206.6 176.7 212.7zM188.3 212.8 186.5 206.5 184.6 212.8zM196.3 212.8 194.4 206.3 192.4 212.8zM204.3 212.9 202.3 206.2 200.3 212.9zM212.2 212.9 210.2 206.1 208.1 212.9zM220.2 212.9 218.1 206.0 216.0 212.9zM228.1 213.0 226.0 205.9 223.9 213.0zM236.1 213.0 233.9 205.8 231.7 213.0zM244.1 213.0 241.8 205.6 239.6 213.0zM252.0 213.1 249.7 205.5 247.5 213.1zM260.0 213.1 257.7 205.4 255.4 213.1zM267.9 213.1 265.6 205.3 263.2 213.1zM274.3 213.1 274.3 212.3 275.8 213.1 273.5 205.2 271.1 213.1 272.7 212.3 272.7 213.1zM282.2 213.1 282.2 212.2 283.7 213.0 281.4 205.2 279.0 213.0 280.6 212.2 280.6 213.1zM290.1 213.2 290.1 212.2 291.7 213.0 289.3 205.1 287.0 213.0 288.5 212.2 288.5 213.2zM298.0 213.2 298.0 212.1 299.6 212.9 297.2 205.1 294.9 212.9 296.4 212.1 296.4 213.2zM305.9 213.2 305.9 212.1 307.5 212.8 305.1 205.0 302.8 212.8 304.3 212.1 304.3 213.2zM313.8 213.2 313.8 212.0 315.4 212.8 313.0 205.0 310.7 212.8 312.3 212.0 312.3 213.2zM321.7 213.2 321.7 211.9 323.3 212.7 321.0 204.9 318.6 212.7 320.2 211.9 320.2 213.2zM329.6 213.2 329.6 211.9 331.2 212.7 328.9 204.9 326.5 212.7 328.1 211.9 328.1 213.2zM337.6 213.2 337.6 212.0 339.1 212.8 336.8 204.9 334.4 212.8 336.0 212.0 336.0 213.2zM345.5 213.2 345.5 212.0 347.0 212.8 344.7 205.0 342.3 212.8 343.9 212.0 343.9 213.2zM353.4 213.2 353.4 212.1 354.9 212.9 352.6 205.0 350.2 212.9 351.8 212.1 351.8 213.2zM361.3 213.2 361.3 212.1 362.9 212.9 360.5 205.1 358.2 212.9 359.7 212.1 359.7 213.2zM369.2 213.2 369.2 212.2 370.8 213.0 368.4 205.1 366.1 213.0 367.6 212.2 367.6 213.2zM377.1 213.2 377.1 212.2 378.7 213.0 376.3 205.2 374.0 213.0 375.5 212.2 375.5 213.2zM385.0 213.2 385.0 212.3 386.6 213.1 384.2 205.2 381.9 213.1 383.5 212.3 383.5 213.2zM392.9 213.1 392.9 212.3 394.5 213.1 392.2 205.3 389.8 213.1 391.4 212.3 391.4 213.1zM402.4 213.1 400.1 205.4 397.8 213.1zM410.2 213.1 408.0 205.6 405.7 213.1zM418.1 213.1 415.9 205.7 413.7 213.1zM426.0 213.1 423.8 205.8 421.6 213.1zM433.8 213.0 431.7 205.9 429.6 213.0zM441.7 213.0 439.6 206.1 437.5 213.0zM449.6 213.0 447.5 206.2 445.5 213.0zM457.5 212.9 455.4 206.2 453.4 212.9zM465.3 212.9 463.4 206.3 461.4 212.9zM473.2 212.9 471.3 206.4 469.3 212.9zM481.1 212.8 479.2 206.4 477.3 212.8zM489.0 212.8 487.1 206.5 485.2 212.8zM496.9 212.7 495.0 206.5 493.1 212.7zM504.8 212.7 502.9 206.5 501.1 212.7zM512.6 212.6 510.8 206.6 509.0 212.6zM520.5 212.6 518.7 206.6 516.9 212.6zM528.4 212.5 526.6 206.6 524.9 212.5zM536.3 212.5 534.6 206.6 532.8 212.5zM544.2 212.4 542.5 206.6 540.7 212.4zM552.1 212.3 550.4 206.6 548.7 212.3zM560.0 212.3 558.3 206.6 556.6 212.3zM567.9 212.2 566.2 206.5 564.5 212.2zM108.7 220.0 107.3 215.4 105.9 220.0zM116.7 220.1 115.2 215.3 113.8 220.1zM124.6 220.2 123.1 215.2 121.7 220.2zM132.6 220.2 131.1 215.1 129.5 220.2zM140.5 220.3 139.0 215.0 137.4 220.3zM148.5 220.3 146.9 214.9 145.2 220.3zM156.5 220.4 154.8 214.8 153.1 220.4zM164.4 220.5 162.7 214.7 161.0 220.5zM172.4 220.5 170.6 214.6 168.8 220.5zM180.4 220.6 178.5 214.4 176.7 220.6zM188.3 220.6 186.4 214.3 184.6 220.6zM196.3 220.6 194.4 214.2 192.4 220.6zM204.2 220.7 202.3 214.1 200.3 220.7zM212.2 220.7 210.2 213.9 208.1 220.7zM220.2 220.8 218.1 213.8 216.0 220.8zM228.1 220.8 226.0 213.7 223.9 220.8zM236.1 220.8 233.9 213.6 231.8 220.8zM244.0 220.9 241.8 213.6 239.6 220.9zM252.0 220.9 249.7 213.5 247.5 220.9zM259.9 220.9 257.6 213.4 255.4 220.9zM267.9 220.9 265.6 213.3 263.3 220.9zM275.8 221.0 273.5 213.2 271.1 221.0zM283.7 221.0 281.4 213.2 279.0 221.0zM290.1 221.0 290.1 220.2 291.6 220.9 289.3 213.1 286.9 220.9 288.5 220.2 288.5 221.0zM298.0 221.0 298.0 220.1 299.6 220.9 297.2 213.1 294.9 220.9 296.4 220.1 296.4 221.0zM305.9 221.0 305.9 220.1 307.5 220.8 305.1 213.0 302.8 220.8 304.3 220.1 304.3 221.0zM313.8 221.0 313.8 220.0 315.4 220.8 313.0 213.0 310.7 220.8 312.3 220.0 312.3 221.0zM321.7 221.0 321.7 219.9 323.3 220.7 320.9 212.9 318.6 220.7 320.2 219.9 320.2 221.0zM329.6 221.0 329.6 219.9 331.2 220.7 328.9 212.9 326.5 220.7 328.1 219.9 328.1 221.0zM337.6 221.0 337.6 220.0 339.1 220.8 336.8 212.9 334.4 220.8 336.0 220.0 336.0 221.0zM345.5 221.0 345.5 220.1 347.0 220.8 344.7 213.0 342.3 220.8 343.9 220.1 343.9 221.0zM353.4 221.0 353.4 220.1 354.9 220.9 352.6 213.0 350.2 220.9 351.8 220.1 351.8 221.0zM361.3 221.0 361.3 220.1 362.9 220.9 360.5 213.1 358.2 220.9 359.7 220.1 359.7 221.0zM369.2 221.0 369.2 220.2 370.8 221.0 368.4 213.1 366.1 221.0 367.6 220.2 367.6 221.0zM378.7 221.0 376.3 213.2 374.0 221.0zM386.6 221.0 384.2 213.2 381.9 221.0zM394.5 221.0 392.2 213.3 389.9 221.0zM402.3 221.0 400.1 213.4 397.8 221.0zM410.2 220.9 408.0 213.5 405.8 220.9zM418.1 220.9 415.9 213.6 413.7 220.9zM425.9 220.9 423.8 213.7 421.7 220.9zM433.8 220.9 431.7 213.9 429.6 220.9zM441.7 220.8 439.6 214.0 437.6 220.8zM449.6 220.8 447.5 214.1 445.5 220.8zM457.4 220.8 455.5 214.1 453.5 220.8zM465.3 220.7 463.4 214.2 461.4 220.7zM473.2 220.7 471.3 214.2 469.3 220.7zM481.1 220.6 479.2 214.3 477.3 220.6zM489.0 220.6 487.1 214.3 485.2 220.6zM496.9 220.6 495.0 214.4 493.2 220.6zM504.8 220.5 502.9 214.4 501.1 220.5zM512.6 220.5 510.8 214.4 509.0 220.5zM520.5 220.4 518.8 214.4 517.0 220.4zM528.4 220.3 526.7 214.5 524.9 220.3zM536.3 220.3 534.6 214.5 532.8 220.3zM544.2 220.2 542.5 214.4 540.8 220.2zM552.1 220.2 550.4 214.4 548.7 220.2zM560.0 220.1 558.3 214.4 556.6 220.1zM567.9 220.0 566.2 214.4 564.5 220.0zM108.7 227.8 107.3 223.2 105.9 227.8zM116.6 227.9 115.2 223.1 113.8 227.9zM124.6 228.0 123.1 223.0 121.6 228.0zM132.6 228.0 131.0 222.9 129.5 228.0zM140.5 228.1 138.9 222.8 137.4 228.1zM148.5 228.2 146.9 222.7 145.2 228.2zM156.4 228.2 154.8 222.6 153.1 228.2zM164.4 228.3 162.7 222.5 161.0 228.3zM172.4 228.3 170.6 222.4 168.8 228.3zM180.3 228.4 178.5 222.3 176.7 228.4zM188.3 228.4 186.4 222.2 184.5 228.4zM196.3 228.5 194.3 222.0 192.4 228.5zM204.2 228.5 202.2 221.9 200.3 228.5zM212.2 228.5 210.2 221.8 208.1 228.5zM220.1 228.6 218.1 221.7 216.0 228.6zM228.1 228.6 226.0 221.6 223.9 228.6zM236.0 228.6 233.9 221.5 231.8 228.6zM244.0 228.7 241.8 221.5 239.6 228.7zM251.9 228.7 249.7 221.4 247.5 228.7zM259.9 228.7 257.6 221.3 255.4 228.7zM267.8 228.8 265.6 221.2 263.3 228.8zM275.8 228.8 273.5 221.2 271.2 228.8zM283.7 228.8 281.4 221.1 279.1 228.8zM291.6 228.8 289.3 221.1 287.0 228.8zM299.5 228.8 297.2 221.0 294.9 228.8zM307.5 228.8 305.1 221.0 302.8 228.8zM313.8 228.8 313.8 228.0 315.4 228.8 313.0 221.0 310.7 228.8 312.2 228.0 312.2 228.8zM321.7 228.8 321.7 228.0 323.3 228.7 320.9 220.9 318.6 228.7 320.2 228.0 320.2 228.8zM329.6 228.8 329.6 228.0 331.2 228.7 328.9 220.9 326.5 228.7 328.1 228.0 328.1 228.8zM337.6 228.8 337.6 228.0 339.1 228.8 336.8 221.0 334.4 228.8 336.0 228.0 336.0 228.8zM345.5 228.8 345.5 228.1 347.0 228.8 344.7 221.0 342.3 228.8 343.9 228.1 343.9 228.8zM354.9 228.8 352.6 221.1 350.3 228.8zM362.8 228.8 360.5 221.1 358.2 228.8zM370.7 228.8 368.4 221.1 366.1 228.8zM378.6 228.8 376.3 221.2 374.0 228.8zM386.5 228.8 384.2 221.2 382.0 228.8zM394.4 228.8 392.2 221.3 389.9 228.8zM402.3 228.8 400.1 221.4 397.9 228.8zM410.2 228.8 408.0 221.5 405.8 228.8zM418.0 228.7 415.9 221.6 413.8 228.7zM425.9 228.7 423.8 221.7 421.7 228.7zM433.8 228.7 431.7 221.8 429.7 228.7zM441.7 228.6 439.6 221.9 437.6 228.6zM449.5 228.6 447.6 222.0 445.6 228.6zM457.4 228.6 455.5 222.0 453.5 228.6zM465.3 228.5 463.4 222.1 461.4 228.5zM473.2 228.5 471.3 222.1 469.4 228.5zM481.1 228.5 479.2 222.2 477.3 228.5zM489.0 228.4 487.1 222.2 485.3 228.4zM496.9 228.4 495.0 222.2 493.2 228.4zM504.8 228.3 502.9 222.3 501.1 228.3zM512.7 228.3 510.9 222.3 509.1 228.3zM520.5 228.2 518.8 222.3 517.0 228.2zM528.4 228.2 526.7 222.3 524.9 228.2zM536.3 228.1 534.6 222.3 532.9 228.1zM544.2 228.0 542.5 222.3 540.8 228.0zM552.1 228.0 550.4 222.3 548.7 228.0zM560.0 227.9 558.3 222.3 556.6 227.9zM567.9 227.8 566.2 222.2 564.6 227.8zM108.6 235.7 107.3 231.1 105.9 235.7zM116.6 235.7 115.2 231.0 113.7 235.7zM124.6 235.8 123.1 230.9 121.6 235.8zM132.5 235.9 131.0 230.8 129.5 235.9zM140.5 235.9 138.9 230.7 137.3 235.9zM148.5 236.0 146.8 230.6 145.2 236.0zM156.4 236.0 154.7 230.4 153.1 236.0zM164.4 236.1 162.7 230.3 160.9 236.1zM172.3 236.1 170.6 230.2 168.8 236.1zM180.3 236.2 178.5 230.1 176.7 236.2zM188.3 236.2 186.4 230.0 184.5 236.2zM196.2 236.3 194.3 229.9 192.4 236.3zM204.2 236.3 202.2 229.8 200.3 236.3zM212.2 236.4 210.1 229.6 208.1 236.4zM220.1 236.4 218.1 229.5 216.0 236.4zM228.1 236.4 226.0 229.5 223.9 236.4zM236.0 236.5 233.9 229.4 231.8 236.5zM243.9 236.5 241.8 229.4 239.7 236.5zM251.9 236.5 249.7 229.3 247.5 236.5zM259.8 236.6 257.6 229.2 255.4 236.6zM267.8 236.6 265.5 229.2 263.3 236.6zM275.7 236.6 273.5 229.1 271.2 236.6zM283.6 236.6 281.4 229.1 279.1 236.6zM291.6 236.6 289.3 229.1 287.0 236.6zM299.5 236.6 297.2 229.0 294.9 236.6zM307.4 236.6 305.1 229.0 302.8 236.6zM315.3 236.7 313.0 229.0 310.7 236.7zM323.3 236.7 320.9 228.9 318.6 236.7zM331.2 236.7 328.9 228.9 326.5 236.7zM339.1 236.7 336.8 229.0 334.5 236.7zM347.0 236.7 344.7 229.0 342.4 236.7zM354.9 236.7 352.6 229.1 350.3 236.7zM362.8 236.7 360.5 229.1 358.2 236.7zM370.7 236.6 368.4 229.1 366.2 236.6zM378.6 236.6 376.3 229.2 374.1 236.6zM386.5 236.6 384.2 229.2 382.0 236.6zM394.4 236.6 392.2 229.3 390.0 236.6zM402.3 236.6 400.1 229.3 397.9 236.6zM410.1 236.6 408.0 229.4 405.9 236.6zM418.0 236.6 415.9 229.5 413.8 236.6zM425.9 236.5 423.8 229.6 421.7 236.5zM433.8 236.5 431.7 229.7 429.7 236.5zM441.6 236.5 439.6 229.8 437.6 236.5zM449.5 236.4 447.6 229.9 445.6 236.4zM457.4 236.4 455.5 229.9 453.5 236.4zM465.3 236.4 463.4 230.0 461.5 236.4zM473.2 236.3 471.3 230.0 469.4 236.3zM481.1 236.3 479.2 230.0 477.3 236.3zM489.0 236.2 487.1 230.1 485.3 236.2zM496.9 236.2 495.0 230.1 493.2 236.2zM504.8 236.1 503.0 230.1 501.1 236.1zM512.7 236.1 510.9 230.1 509.1 236.1zM520.6 236.0 518.8 230.1 517.0 236.0zM528.5 236.0 526.7 230.1 524.9 236.0zM536.3 235.9 534.6 230.1 532.9 235.9zM544.2 235.9 542.5 230.1 540.8 235.9zM552.1 235.8 550.4 230.1 548.7 235.8zM560.0 235.7 558.4 230.1 556.7 235.7zM567.9 235.7 566.3 230.1 564.6 235.7zM108.6 243.5 107.2 238.9 105.9 243.5zM116.6 243.6 115.2 238.8 113.7 243.6zM124.5 243.6 123.1 238.7 121.6 243.6zM132.5 243.7 131.0 238.6 129.5 243.7zM140.5 243.7 138.9 238.5 137.3 243.7zM148.4 243.8 146.8 238.4 145.2 243.8zM156.4 243.9 154.7 238.3 153.0 243.9zM164.4 243.9 162.6 238.2 160.9 243.9zM172.3 244.0 170.6 238.1 168.8 244.0zM180.3 244.0 178.5 237.9 176.7 244.0zM188.3 244.1 186.4 237.8 184.5 244.1zM196.2 244.1 194.3 237.7 192.4 244.1zM204.2 244.1 202.2 237.6 200.3 244.1zM212.1 244.2 210.1 237.5 208.1 244.2zM220.1 244.2 218.0 237.4 216.0 244.2zM228.0 244.3 226.0 237.4 223.9 244.3zM236.0 244.3 233.9 237.3 231.8 244.3zM243.9 244.3 241.8 237.3 239.7 244.3zM251.8 244.3 249.7 237.2 247.6 244.3zM259.8 244.4 257.6 237.2 255.5 244.4zM267.7 244.4 265.5 237.1 263.3 244.4zM275.7 244.4 273.4 237.1 271.2 244.4zM283.6 244.4 281.4 237.0 279.1 244.4zM291.5 244.4 289.3 237.0 287.1 244.4zM299.4 244.5 297.2 237.0 295.0 244.5zM307.4 244.5 305.1 237.0 302.9 244.5zM315.3 244.5 313.0 237.0 310.8 244.5zM323.2 244.5 320.9 236.9 318.7 244.5zM331.1 244.5 328.8 236.9 326.6 244.5zM339.0 244.5 336.8 237.0 334.5 244.5zM346.9 244.5 344.7 237.0 342.4 244.5zM354.8 244.5 352.6 237.1 350.4 244.5zM362.7 244.5 360.5 237.1 358.3 244.5zM370.6 244.5 368.4 237.1 366.2 244.5zM378.5 244.5 376.3 237.2 374.1 244.5zM386.4 244.4 384.3 237.2 382.1 244.4zM394.3 244.4 392.2 237.2 390.0 244.4zM402.2 244.4 400.1 237.3 398.0 244.4zM410.1 244.4 408.0 237.4 405.9 244.4zM418.0 244.4 415.9 237.5 413.8 244.4zM425.9 244.3 423.8 237.6 421.8 244.3zM433.7 244.3 431.7 237.6 429.7 244.3zM441.6 244.3 439.7 237.7 437.7 244.3zM449.5 244.3 447.6 237.8 445.6 244.3zM457.4 244.2 455.5 237.8 453.6 244.2zM465.3 244.2 463.4 237.8 461.5 244.2zM473.2 244.1 471.3 237.9 469.4 244.1zM481.1 244.1 479.2 237.9 477.4 244.1zM489.0 244.1 487.1 237.9 485.3 244.1zM496.9 244.0 495.1 238.0 493.2 244.0zM504.8 244.0 503.0 238.0 501.2 244.0zM512.7 243.9 510.9 238.0 509.1 243.9zM520.6 243.9 518.8 238.0 517.0 243.9zM528.5 243.8 526.7 238.0 525.0 243.8zM536.4 243.7 534.6 238.0 532.9 243.7zM544.3 243.7 542.5 238.0 540.8 243.7zM552.2 243.6 550.5 238.0 548.8 243.6zM560.1 243.6 558.4 237.9 556.7 243.6zM568.0 243.5 566.3 237.9 564.6 243.5zM108.6 251.3 107.2 246.7 105.8 251.3zM116.6 251.4 115.1 246.6 113.7 251.4zM124.5 251.4 123.0 246.5 121.6 251.4zM132.5 251.5 131.0 246.4 129.4 251.5zM140.5 251.6 138.9 246.3 137.3 251.6zM148.4 251.6 146.8 246.2 145.2 251.6zM156.4 251.7 154.7 246.1 153.0 251.7zM164.3 251.7 162.6 246.0 160.9 251.7zM172.3 251.8 170.5 245.9 168.8 251.8zM180.3 251.8 178.5 245.8 176.6 251.8zM188.2 251.9 186.4 245.7 184.5 251.9zM196.2 251.9 194.3 245.6 192.4 251.9zM204.2 252.0 202.2 245.5 200.2 252.0zM212.1 252.0 210.1 245.3 208.1 252.0zM220.1 252.0 218.0 245.3 216.0 252.0zM228.0 252.1 225.9 245.2 223.9 252.1zM235.9 252.1 233.9 245.2 231.8 252.1zM243.9 252.1 241.8 245.2 239.7 252.1zM251.8 252.2 249.7 245.1 247.6 252.2zM259.7 252.2 257.6 245.1 255.5 252.2zM267.7 252.2 265.5 245.1 263.4 252.2zM275.6 252.2 273.4 245.0 271.3 252.2zM283.5 252.3 281.4 245.0 279.2 252.3zM291.4 252.3 289.3 245.0 287.1 252.3zM299.4 252.3 297.2 245.0 295.0 252.3zM307.3 252.3 305.1 245.0 302.9 252.3zM315.2 252.3 313.0 245.0 310.8 252.3zM323.1 252.3 320.9 244.9 318.7 252.3zM331.1 252.3 328.8 244.9 326.6 252.3zM339.0 252.3 336.8 245.0 334.6 252.3zM346.9 252.3 344.7 245.0 342.5 252.3zM354.8 252.3 352.6 245.1 350.4 252.3zM362.7 252.3 360.5 245.1 358.3 252.3zM370.6 252.3 368.4 245.1 366.3 252.3zM378.5 252.3 376.3 245.2 374.2 252.3zM386.4 252.3 384.3 245.2 382.1 252.3zM394.3 252.3 392.2 245.2 390.1 252.3zM402.2 252.2 400.1 245.3 398.0 252.2zM410.1 252.2 408.0 245.4 405.9 252.2zM417.9 252.2 415.9 245.4 413.9 252.2zM425.8 252.2 423.8 245.5 421.8 252.2zM433.7 252.1 431.7 245.6 429.8 252.1zM441.6 252.1 439.7 245.6 437.7 252.1zM449.5 252.1 447.6 245.7 445.7 252.1zM457.4 252.0 455.5 245.7 453.6 252.0zM465.3 252.0 463.4 245.7 461.5 252.0zM473.2 252.0 471.3 245.8 469.5 252.0zM481.1 251.9 479.2 245.8 477.4 251.9zM489.0 251.9 487.2 245.8 485.3 251.9zM496.9 251.8 495.1 245.8 493.3 251.8zM504.8 251.8 503.0 245.8 501.2 251.8zM512.7 251.7 510.9 245.8 509.1 251.7zM520.6 251.7 518.8 245.8 517.1 251.7zM528.5 251.6 526.7 245.8 525.0 251.6zM536.4 251.6 534.6 245.8 532.9 251.6zM544.3 251.5 542.6 245.8 540.9 251.5zM552.2 251.4 550.5 245.8 548.8 251.4zM560.1 251.4 558.4 245.8 556.7 251.4zM568.0 251.3 566.3 245.8 564.6 251.3zM108.6 259.1 107.2 254.5 105.8 259.1zM116.5 259.2 115.1 254.4 113.7 259.2zM124.5 259.3 123.0 254.3 121.5 259.3zM132.5 259.3 130.9 254.2 129.4 259.3zM140.4 259.4 138.9 254.1 137.3 259.4zM148.4 259.4 146.8 254.0 145.1 259.4zM156.4 259.5 154.7 253.9 153.0 259.5zM164.3 259.6 162.6 253.8 160.9 259.6zM172.3 259.6 170.5 253.7 168.7 259.6zM180.2 259.7 178.4 253.6 176.6 259.7zM188.2 259.7 186.3 253.5 184.5 259.7zM196.2 259.7 194.3 253.4 192.4 259.7zM204.1 259.8 202.2 253.3 200.2 259.8zM212.1 259.8 210.1 253.2 208.1 259.8zM220.0 259.9 218.0 253.1 216.0 259.9zM228.0 259.9 225.9 253.1 223.9 259.9zM235.9 259.9 233.8 253.1 231.8 259.9zM243.8 260.0 241.8 253.1 239.7 260.0zM251.8 260.0 249.7 253.0 247.6 260.0zM259.7 260.0 257.6 253.0 255.5 260.0zM267.6 260.0 265.5 253.0 263.4 260.0zM275.6 260.1 273.4 253.0 271.3 260.1zM283.5 260.1 281.3 253.0 279.2 260.1zM291.4 260.1 289.3 253.0 287.1 260.1zM299.3 260.1 297.2 253.0 295.0 260.1zM307.2 260.1 305.1 253.0 302.9 260.1zM315.2 260.1 313.0 253.0 310.9 260.1zM323.1 260.1 320.9 252.9 318.8 260.1zM331.0 260.1 328.8 253.0 326.7 260.1zM338.9 260.1 336.8 253.0 334.6 260.1zM346.8 260.1 344.7 253.0 342.5 260.1zM354.7 260.1 352.6 253.1 350.5 260.1zM362.6 260.1 360.5 253.1 358.4 260.1zM370.5 260.1 368.4 253.1 366.3 260.1zM378.4 260.1 376.3 253.2 374.3 260.1zM386.3 260.1 384.3 253.2 382.2 260.1zM394.2 260.1 392.2 253.2 390.1 260.1zM402.1 260.1 400.1 253.3 398.1 260.1zM410.0 260.0 408.0 253.3 406.0 260.0zM417.9 260.0 415.9 253.4 413.9 260.0zM425.8 260.0 423.8 253.4 421.9 260.0zM433.7 260.0 431.8 253.5 429.8 260.0zM441.6 259.9 439.7 253.5 437.8 259.9zM449.5 259.9 447.6 253.6 445.7 259.9zM457.4 259.9 455.5 253.6 453.6 259.9zM465.3 259.8 463.4 253.6 461.6 259.8zM473.2 259.8 471.3 253.6 469.5 259.8zM481.1 259.7 479.3 253.7 477.4 259.7zM489.0 259.7 487.2 253.7 485.4 259.7zM496.9 259.7 495.1 253.7 493.3 259.7zM504.8 259.6 503.0 253.7 501.2 259.6zM512.7 259.6 510.9 253.7 509.2 259.6zM520.6 259.5 518.8 253.7 517.1 259.5zM528.5 259.4 526.7 253.7 525.0 259.4zM536.4 259.4 534.7 253.7 533.0 259.4zM544.3 259.3 542.6 253.7 540.9 259.3zM552.2 259.3 550.5 253.7 548.8 259.3zM560.1 259.2 558.4 253.6 556.7 259.2zM568.0 259.1 566.3 253.6 564.7 259.1zM108.5 267.0 107.2 262.3 105.8 267.0zM116.5 267.0 115.1 262.3 113.6 267.0zM124.5 267.1 123.0 262.2 121.5 267.1zM132.4 267.1 130.9 262.1 129.4 267.1zM140.4 267.2 138.8 261.9 137.3 267.2zM148.4 267.3 146.7 261.8 145.1 267.3zM156.3 267.3 154.7 261.7 153.0 267.3zM164.3 267.4 162.6 261.6 160.9 267.4zM172.3 267.4 170.5 261.5 168.7 267.4zM180.2 267.5 178.4 261.4 176.6 267.5zM188.2 267.5 186.3 261.3 184.5 267.5zM196.1 267.6 194.2 261.2 192.4 267.6zM204.1 267.6 202.2 261.1 200.2 267.6zM212.1 267.6 210.1 261.0 208.1 267.6zM220.0 267.7 218.0 261.0 216.0 267.7zM227.9 267.7 225.9 261.0 223.9 267.7zM235.9 267.8 233.8 261.0 231.8 267.8zM243.8 267.8 241.8 260.9 239.7 267.8zM251.7 267.8 249.7 260.9 247.6 267.8zM259.7 267.8 257.6 260.9 255.5 267.8zM267.6 267.9 265.5 260.9 263.4 267.9zM275.5 267.9 273.4 260.9 271.3 267.9zM283.4 267.9 281.3 260.9 279.2 267.9zM291.4 267.9 289.2 260.9 287.1 267.9zM299.3 267.9 297.2 260.9 295.1 267.9zM307.2 267.9 305.1 260.9 303.0 267.9zM315.1 267.9 313.0 260.9 310.9 267.9zM323.0 267.9 320.9 260.9 318.8 268.0zM331.0 267.9 328.8 260.9 326.7 268.0zM338.9 267.9 336.7 260.9 334.7 268.0zM346.8 267.9 344.7 261.0 342.6 268.0zM354.7 267.9 352.6 261.0 350.5 268.0zM362.6 267.9 360.5 261.1 358.4 267.9zM370.5 267.9 368.4 261.1 366.4 267.9zM378.4 267.9 376.3 261.1 374.3 267.9zM386.3 267.9 384.2 261.1 382.2 267.9zM394.2 267.9 392.1 261.2 390.2 267.9zM402.1 267.9 400.1 261.2 398.1 267.9zM410.0 267.8 408.0 261.3 406.0 267.9zM417.9 267.8 415.9 261.3 414.0 267.8zM425.8 267.8 423.8 261.4 421.9 267.8zM433.7 267.8 431.7 261.4 429.9 267.8zM441.6 267.7 439.6 261.5 437.8 267.8zM449.5 267.7 447.6 261.5 445.7 267.7zM457.4 267.7 455.5 261.5 453.7 267.7zM465.3 267.6 463.4 261.5 461.6 267.7zM473.2 267.6 471.3 261.5 469.5 267.6zM481.1 267.6 479.2 261.6 477.5 267.6zM489.0 267.5 487.2 261.6 485.4 267.5zM496.9 267.5 495.1 261.6 493.3 267.5zM504.8 267.4 503.0 261.6 501.3 267.4zM512.7 267.4 510.9 261.6 509.2 267.4zM520.6 267.3 518.8 261.6 517.1 267.3zM528.5 267.3 526.8 261.6 525.1 267.3zM536.4 267.2 534.7 261.6 533.0 267.2zM544.3 267.1 542.6 261.5 540.9 267.1zM552.2 267.1 550.5 261.5 548.8 267.1zM560.1 267.0 558.4 261.5 556.8 267.0zM568.0 267.0 566.4 261.5 564.7 267.0zM108.5 274.8 107.1 270.2 105.8 274.8zM116.5 274.8 115.1 270.1 113.6 274.8zM124.4 274.9 123.0 270.0 121.5 274.9zM132.4 275.0 130.9 269.9 129.4 275.0zM140.4 275.0 138.8 269.8 137.2 275.0zM148.4 275.1 146.7 269.7 145.1 275.1zM156.3 275.1 154.6 269.6 153.0 275.1zM164.3 275.2 162.6 269.5 160.8 275.2zM172.2 275.2 170.5 269.4 168.7 275.2zM180.2 275.3 178.4 269.3 176.6 275.3zM188.2 275.3 186.3 269.2 184.5 275.3zM196.1 275.4 194.2 269.1 192.3 275.4zM204.1 275.4 202.1 269.0 200.2 275.4zM212.0 275.5 210.1 268.9 208.1 275.5zM220.0 275.5 218.0 268.8 216.0 275.5zM227.9 275.5 225.9 268.8 223.9 275.5zM235.9 275.6 233.8 268.8 231.8 275.6zM243.8 275.6 241.7 268.8 239.7 275.6zM251.7 275.6 249.7 268.8 247.6 275.6zM259.6 275.7 257.6 268.7 255.5 275.7zM267.6 275.7 265.5 268.7 263.4 275.7zM275.5 275.7 273.4 268.7 271.3 275.7zM283.4 275.7 281.3 268.7 279.2 275.7zM291.3 275.7 289.2 268.7 287.2 275.7zM299.3 275.7 297.1 268.8 295.1 275.7zM307.2 275.7 305.1 268.8 303.0 275.8zM315.1 275.8 313.0 268.8 310.9 275.8zM323.0 275.8 320.9 268.8 318.8 275.8zM330.9 275.8 328.8 268.8 326.7 275.8zM338.8 275.8 336.7 268.8 334.7 275.8zM346.7 275.8 344.6 268.9 342.6 275.8zM354.6 275.7 352.5 268.9 350.5 275.8zM362.5 275.7 360.4 269.0 358.5 275.8zM370.5 275.7 368.3 269.0 366.4 275.8zM378.4 275.7 376.2 269.0 374.3 275.8zM386.3 275.7 384.2 269.1 382.3 275.8zM394.2 275.7 392.1 269.1 390.2 275.7zM402.1 275.7 400.0 269.2 398.1 275.7zM410.0 275.6 407.9 269.2 406.1 275.7zM417.9 275.6 415.8 269.3 414.0 275.7zM425.7 275.6 423.7 269.3 422.0 275.7zM433.6 275.6 431.6 269.4 429.9 275.6zM441.5 275.5 439.6 269.4 437.8 275.6zM449.4 275.5 447.5 269.4 445.8 275.6zM457.3 275.5 455.4 269.4 453.7 275.5zM465.2 275.4 463.3 269.5 461.6 275.5zM473.1 275.4 471.3 269.5 469.6 275.5zM481.0 275.4 479.2 269.5 477.5 275.4zM488.9 275.3 487.1 269.5 485.4 275.4zM496.9 275.3 495.1 269.5 493.4 275.3zM504.8 275.2 503.0 269.5 501.3 275.3zM512.7 275.2 510.9 269.5 509.2 275.2zM520.6 275.1 518.8 269.5 517.2 275.2zM528.5 275.1 526.8 269.5 525.1 275.1zM536.4 275.0 534.7 269.5 533.0 275.0zM544.3 275.0 542.6 269.4 541.0 275.0zM552.2 274.9 550.5 269.4 548.9 274.9zM560.1 274.8 558.4 269.4 556.8 274.8zM568.0 274.8 566.4 269.4 564.7 274.8zM108.5 282.6 107.1 278.0 105.7 282.6zM116.5 282.7 115.0 277.9 113.6 282.7zM124.4 282.7 122.9 277.8 121.5 282.7zM132.4 282.8 130.9 277.7 129.3 282.8zM140.4 282.8 138.8 277.6 137.2 282.8zM148.3 282.9 146.7 277.5 145.1 282.9zM156.3 283.0 154.6 277.4 152.9 283.0zM164.3 283.0 162.5 277.3 160.8 283.0zM172.2 283.1 170.5 277.2 168.7 283.1zM180.2 283.1 178.4 277.1 176.6 283.1zM188.1 283.2 186.3 277.0 184.4 283.2zM196.1 283.2 194.2 276.9 192.3 283.2zM204.1 283.2 202.1 276.8 200.2 283.2zM212.0 283.3 210.1 276.7 208.1 283.3zM220.0 283.3 218.0 276.6 216.0 283.3zM227.9 283.4 225.9 276.6 223.9 283.4zM235.8 283.4 233.8 276.6 231.8 283.4zM243.8 283.4 241.7 276.6 239.7 283.4zM251.7 283.4 249.6 276.6 247.6 283.4zM259.6 283.5 257.6 276.6 255.5 283.5zM267.6 283.5 265.5 276.6 263.4 283.5zM275.5 283.5 273.4 276.6 271.3 283.5zM283.4 283.5 281.3 276.6 279.2 283.5zM291.3 283.5 289.2 276.6 287.2 283.6zM299.2 283.6 297.1 276.6 295.1 283.6zM307.2 283.6 305.0 276.6 303.0 283.6zM315.1 283.6 312.9 276.7 310.9 283.6zM323.0 283.6 320.9 276.7 318.8 283.6zM330.9 283.6 328.8 276.7 326.8 283.6zM338.8 283.6 336.7 276.7 334.7 283.6zM346.7 283.6 344.6 276.8 342.6 283.6zM354.6 283.6 352.5 276.8 350.6 283.6zM362.5 283.5 360.4 276.9 358.5 283.6zM370.4 283.5 368.3 276.9 366.4 283.6zM378.3 283.5 376.2 277.0 374.4 283.6zM386.2 283.5 384.1 277.0 382.3 283.6zM394.1 283.5 392.0 277.0 390.2 283.6zM402.0 283.5 399.9 277.1 398.2 283.6zM409.9 283.4 407.8 277.1 406.1 283.6zM417.8 283.4 415.7 277.2 414.1 283.5zM425.7 283.4 423.6 277.2 422.0 283.5zM433.6 283.4 431.6 277.3 429.9 283.5zM441.5 283.3 439.5 277.3 437.9 283.5zM449.4 283.3 447.4 277.4 445.8 283.4zM457.3 283.3 455.3 277.4 453.7 283.4zM465.2 283.2 463.3 277.4 461.7 283.3zM473.1 283.2 471.2 277.4 469.6 283.3zM481.0 283.2 479.2 277.4 477.5 283.2zM488.9 283.1 487.1 277.4 485.5 283.2zM496.8 283.1 495.0 277.4 493.4 283.1zM504.7 283.0 503.0 277.4 501.3 283.1zM512.6 283.0 510.9 277.4 509.3 283.0zM520.6 282.9 518.8 277.4 517.2 283.0zM528.5 282.9 526.8 277.4 525.1 282.9zM536.4 282.8 534.7 277.4 533.1 282.9zM544.3 282.8 542.6 277.3 541.0 282.8zM552.2 282.7 550.5 277.3 548.9 282.7zM560.1 282.7 558.5 277.3 556.9 282.7zM568.0 282.6 566.4 277.2 564.8 282.6zM108.5 290.4 107.1 285.8 105.7 290.4zM116.4 290.5 115.0 285.7 113.6 290.5zM124.4 290.5 122.9 285.6 121.4 290.5zM132.4 290.6 130.8 285.5 129.3 290.6zM140.3 290.7 138.8 285.4 137.2 290.7zM148.3 290.7 146.7 285.3 145.1 290.7zM156.3 290.8 154.6 285.2 152.9 290.8zM164.2 290.8 162.5 285.1 160.8 290.8zM172.2 290.9 170.4 285.0 168.7 290.9zM180.2 290.9 178.4 284.9 176.6 290.9zM188.1 291.0 186.3 284.8 184.4 291.0zM196.1 291.0 194.2 284.7 192.3 291.0zM204.0 291.1 202.1 284.6 200.2 291.1zM212.0 291.1 210.0 284.5 208.1 291.1zM220.0 291.1 218.0 284.5 216.0 291.1zM227.9 291.2 225.9 284.5 223.9 291.2zM235.8 291.2 233.8 284.5 231.8 291.2zM243.8 291.2 241.7 284.4 239.7 291.2zM251.7 291.3 249.6 284.4 247.6 291.3zM259.6 291.3 257.6 284.4 255.5 291.3zM267.6 291.3 265.5 284.4 263.4 291.3zM275.5 291.3 273.4 284.4 271.3 291.3zM283.4 291.3 281.3 284.4 279.2 291.4zM291.3 291.4 289.2 284.5 287.2 291.4zM299.2 291.4 297.1 284.5 295.1 291.4zM307.1 291.4 305.0 284.5 303.0 291.4zM315.1 291.4 312.9 284.5 310.9 291.4zM323.0 291.4 320.8 284.6 318.9 291.4zM330.9 291.4 328.7 284.6 326.8 291.4zM338.8 291.4 336.6 284.6 334.7 291.5zM346.7 291.4 344.5 284.7 342.7 291.5zM354.6 291.4 352.4 284.7 350.6 291.5zM362.5 291.3 360.3 284.8 358.5 291.5zM370.4 291.3 368.2 284.8 366.5 291.5zM378.3 291.3 376.1 284.9 374.4 291.5zM386.2 291.3 384.0 284.9 382.3 291.4zM394.1 291.3 391.9 285.0 390.3 291.4zM402.0 291.3 399.8 285.0 398.2 291.4zM409.9 291.2 407.7 285.1 406.2 291.4zM417.8 291.2 415.7 285.1 414.1 291.4zM425.7 291.2 423.6 285.2 422.0 291.4zM433.6 291.2 431.5 285.2 430.0 291.3zM441.5 291.1 439.4 285.3 437.9 291.3zM449.4 291.1 447.3 285.3 445.9 291.3zM457.3 291.1 455.3 285.3 453.8 291.2zM465.2 291.0 463.2 285.3 461.7 291.2zM473.1 291.0 471.2 285.3 469.7 291.1zM481.0 291.0 479.1 285.3 477.6 291.1zM488.9 290.9 487.1 285.3 485.5 291.0zM496.8 290.9 495.0 285.3 493.5 291.0zM504.7 290.9 502.9 285.3 501.4 290.9zM512.6 290.8 510.9 285.3 509.3 290.9zM520.5 290.8 518.8 285.3 517.3 290.8zM528.4 290.7 526.8 285.3 525.2 290.7zM536.4 290.7 534.7 285.3 533.1 290.7zM544.3 290.6 542.6 285.2 541.0 290.6zM552.2 290.5 550.5 285.2 549.0 290.6zM560.1 290.5 558.5 285.2 556.9 290.5zM568.0 290.4 566.4 285.1 564.8 290.4zM108.4 298.2 107.1 293.6 105.7 298.2zM116.4 298.3 115.0 293.5 113.5 298.3zM124.4 298.4 122.9 293.4 121.4 298.4zM132.3 298.4 130.8 293.3 129.3 298.4zM140.3 298.5 138.7 293.2 137.2 298.5zM148.3 298.5 146.7 293.1 145.0 298.5zM156.3 298.6 154.6 293.0 152.9 298.6zM164.2 298.7 162.5 292.9 160.8 298.7zM172.2 298.7 170.4 292.8 168.7 298.7zM180.1 298.8 178.3 292.7 176.5 298.8zM188.1 298.8 186.3 292.7 184.4 298.8zM196.1 298.8 194.2 292.6 192.3 298.8zM204.0 298.9 202.1 292.5 200.2 298.9zM212.0 298.9 210.0 292.4 208.1 298.9zM219.9 299.0 217.9 292.3 215.9 299.0zM227.9 299.0 225.9 292.3 223.8 299.0zM235.8 299.0 233.8 292.3 231.8 299.0zM243.7 299.1 241.7 292.3 239.7 299.1zM251.7 299.1 249.6 292.3 247.6 299.1zM259.6 299.1 257.5 292.2 255.5 299.1zM267.5 299.1 265.5 292.2 263.4 299.1zM275.5 299.2 273.4 292.2 271.3 299.2zM283.4 299.2 281.3 292.3 279.2 299.2zM291.3 299.2 289.2 292.3 287.2 299.2zM299.2 299.2 297.1 292.3 295.1 299.2zM307.1 299.2 305.0 292.4 303.0 299.2zM315.0 299.2 312.9 292.4 310.9 299.3zM322.9 299.2 320.8 292.4 318.9 299.3zM330.8 299.2 328.7 292.5 326.8 299.3zM338.8 299.2 336.6 292.5 334.7 299.3zM346.7 299.2 344.5 292.6 342.7 299.3zM354.6 299.2 352.4 292.7 350.6 299.3zM362.5 299.2 360.3 292.7 358.6 299.3zM370.4 299.1 368.2 292.8 366.5 299.3zM378.3 299.1 376.1 292.8 374.4 299.3zM386.2 299.1 384.0 292.9 382.4 299.3zM394.1 299.1 391.9 292.9 390.3 299.3zM402.0 299.1 399.8 293.0 398.2 299.3zM409.9 299.0 407.7 293.0 406.2 299.2zM417.8 299.0 415.6 293.1 414.1 299.2zM425.7 299.0 423.5 293.1 422.1 299.2zM433.6 298.9 431.4 293.2 430.0 299.2zM441.5 298.9 439.3 293.2 438.0 299.2zM449.4 298.9 447.2 293.2 445.9 299.1zM457.3 298.9 455.2 293.2 453.8 299.1zM465.2 298.8 463.2 293.3 461.8 299.0zM473.1 298.8 471.1 293.3 469.7 299.0zM481.0 298.8 479.1 293.3 477.6 298.9zM488.9 298.7 487.0 293.3 485.6 298.9zM496.8 298.7 495.0 293.3 493.5 298.8zM504.7 298.7 502.9 293.2 501.4 298.8zM512.6 298.6 510.9 293.2 509.4 298.7zM520.5 298.6 518.8 293.2 517.3 298.6zM528.4 298.5 526.7 293.2 525.2 298.6zM536.4 298.5 534.7 293.2 533.2 298.5zM544.3 298.4 542.6 293.1 541.1 298.4zM552.2 298.4 550.6 293.1 549.0 298.4zM560.1 298.3 558.5 293.0 556.9 298.3zM568.0 298.2 566.4 293.0 564.9 298.2zM108.4 306.1 107.0 301.5 105.7 306.1zM116.4 306.1 115.0 301.4 113.5 306.1zM124.4 306.2 122.9 301.3 121.4 306.2zM132.3 306.3 130.8 301.2 129.3 306.3zM140.3 306.3 138.7 301.1 137.1 306.3zM148.3 306.4 146.6 300.9 145.0 306.4zM156.2 306.4 154.6 300.8 152.9 306.4zM164.2 306.5 162.5 300.7 160.8 306.5zM172.2 306.5 170.4 300.7 168.6 306.5zM180.1 306.6 178.3 300.6 176.5 306.6zM188.1 306.6 186.2 300.5 184.4 306.6zM196.0 306.7 194.2 300.4 192.3 306.7zM204.0 306.7 202.1 300.3 200.2 306.7zM212.0 306.8 210.0 300.2 208.0 306.8zM219.9 306.8 217.9 300.1 215.9 306.8zM227.9 306.8 225.8 300.1 223.8 306.8zM235.8 306.9 233.8 300.1 231.7 306.9zM243.7 306.9 241.7 300.1 239.7 306.9zM251.7 306.9 249.6 300.1 247.6 306.9zM259.6 306.9 257.5 300.1 255.5 306.9zM267.5 307.0 265.5 300.0 263.4 307.0zM275.5 307.0 273.4 300.1 271.3 307.0zM283.4 307.0 281.3 300.1 279.2 307.0zM291.3 307.0 289.2 300.2 287.2 307.0zM299.2 307.0 297.1 300.2 295.1 307.0zM307.1 307.0 305.0 300.3 303.0 307.1zM315.0 307.0 312.9 300.3 311.0 307.1zM322.9 307.0 320.8 300.3 318.9 307.1zM330.8 307.0 328.7 300.4 326.8 307.1zM338.7 307.0 336.5 300.4 334.8 307.1zM346.6 307.0 344.4 300.5 342.7 307.1zM354.5 307.0 352.3 300.6 350.6 307.1zM362.4 307.0 360.2 300.6 358.6 307.1zM370.3 306.9 368.1 300.7 366.5 307.1zM378.2 306.9 376.0 300.7 374.5 307.1zM386.1 306.9 383.9 300.8 382.4 307.1zM394.0 306.9 391.8 300.8 390.3 307.1zM401.9 306.9 399.7 300.9 398.3 307.1zM409.8 306.8 407.6 300.9 406.2 307.1zM417.7 306.8 415.5 301.0 414.2 307.1zM425.6 306.8 423.4 301.0 422.1 307.0zM433.5 306.7 431.3 301.1 430.1 307.0zM441.4 306.7 439.2 301.1 438.0 307.0zM449.3 306.7 447.2 301.2 445.9 307.0zM457.2 306.7 455.1 301.2 453.9 306.9zM465.2 306.6 463.1 301.2 461.8 306.9zM473.1 306.6 471.1 301.2 469.7 306.8zM481.0 306.6 479.0 301.2 477.7 306.8zM488.9 306.5 487.0 301.2 485.6 306.7zM496.8 306.5 494.9 301.2 493.5 306.6zM504.7 306.5 502.9 301.2 501.5 306.6zM512.6 306.4 510.9 301.1 509.4 306.5zM520.5 306.4 518.8 301.1 517.3 306.5zM528.4 306.3 526.7 301.1 525.3 306.4zM536.3 306.3 534.7 301.1 533.2 306.3zM544.3 306.2 542.6 301.0 541.1 306.3zM552.2 306.2 550.6 301.0 549.1 306.2zM560.1 306.1 558.5 300.9 557.0 306.1zM568.0 306.1 566.5 300.9 564.9 306.1zM108.4 313.9 107.0 309.3 105.6 313.9zM116.4 313.9 114.9 309.2 113.5 313.9zM124.3 314.0 122.8 309.1 121.4 314.0zM132.3 314.1 130.8 309.0 129.2 314.1zM140.3 314.1 138.7 308.9 137.1 314.1zM148.2 314.2 146.6 308.8 145.0 314.2zM156.2 314.2 154.5 308.7 152.9 314.2zM164.2 314.3 162.5 308.6 160.7 314.3zM172.1 314.4 170.4 308.5 168.6 314.4zM180.1 314.4 178.3 308.4 176.5 314.4zM188.1 314.4 186.2 308.3 184.4 314.4zM196.0 314.5 194.1 308.2 192.3 314.5zM204.0 314.5 202.1 308.1 200.1 314.5zM212.0 314.6 210.0 308.0 208.0 314.6zM219.9 314.6 217.9 308.0 215.9 314.6zM227.8 314.6 225.8 308.0 223.8 314.6zM235.8 314.7 233.8 308.0 231.7 314.7zM243.7 314.7 241.7 307.9 239.6 314.7zM251.6 314.7 249.6 307.9 247.6 314.7zM259.6 314.8 257.5 307.9 255.5 314.8zM267.5 314.8 265.4 307.9 263.4 314.8zM275.4 314.8 273.4 307.9 271.3 314.8zM283.3 314.8 281.3 308.0 279.2 314.8zM291.3 314.8 289.1 308.0 287.2 314.9zM299.2 314.8 297.0 308.1 295.1 314.9zM307.1 314.8 304.9 308.1 303.0 314.9zM315.0 314.8 312.8 308.2 311.0 314.9zM322.9 314.8 320.7 308.2 318.9 314.9zM330.8 314.8 328.6 308.3 326.8 314.9zM338.7 314.8 336.5 308.3 334.8 314.9zM346.6 314.8 344.4 308.4 342.7 315.0zM354.5 314.8 352.3 308.5 350.7 315.0zM362.4 314.8 360.2 308.5 358.6 315.0zM370.3 314.7 368.0 308.6 366.6 315.0zM378.2 314.7 375.9 308.7 374.5 315.0zM386.1 314.7 383.8 308.7 382.4 315.0zM394.0 314.7 391.7 308.8 390.4 315.0zM401.9 314.6 399.6 308.8 398.3 315.0zM409.8 314.6 407.5 308.9 406.3 314.9zM417.7 314.6 415.4 308.9 414.2 314.9zM425.6 314.6 423.3 309.0 422.2 314.9zM433.5 314.5 431.2 309.0 430.1 314.9zM441.4 314.5 439.1 309.1 438.0 314.8zM449.3 314.5 447.1 309.1 446.0 314.8zM457.2 314.5 455.1 309.1 453.9 314.8zM465.1 314.4 463.0 309.1 461.9 314.7zM473.0 314.4 471.0 309.1 469.8 314.7zM480.9 314.4 479.0 309.1 477.7 314.6zM488.9 314.4 487.0 309.1 485.7 314.5zM496.8 314.3 494.9 309.1 493.6 314.5zM504.7 314.3 502.9 309.1 501.5 314.4zM512.6 314.2 510.8 309.1 509.5 314.4zM520.5 314.2 518.8 309.0 517.4 314.3zM528.4 314.2 526.7 309.0 525.3 314.2zM536.3 314.1 534.7 309.0 533.2 314.2zM544.3 314.1 542.6 308.9 541.2 314.1zM552.2 314.0 550.6 308.9 549.1 314.0zM560.1 313.9 558.5 308.8 557.0 314.0zM568.0 313.9 566.5 308.8 564.9 313.9zM108.4 321.7 107.0 317.1 105.6 321.7zM116.3 321.8 114.9 317.0 113.5 321.8zM124.3 321.8 122.8 316.9 121.3 321.8zM132.3 321.9 130.7 316.8 129.2 321.9zM140.2 322.0 138.7 316.7 137.1 322.0zM148.2 322.0 146.6 316.6 145.0 322.0zM156.2 322.1 154.5 316.5 152.8 322.1zM164.2 322.1 162.4 316.4 160.7 322.1zM172.1 322.2 170.4 316.3 168.6 322.2zM180.1 322.2 178.3 316.2 176.5 322.2zM188.0 322.3 186.2 316.1 184.4 322.3zM196.0 322.3 194.1 316.0 192.2 322.3zM204.0 322.4 202.1 316.0 200.1 322.4zM211.9 322.4 210.0 315.9 208.0 322.4zM219.9 322.4 217.9 315.8 215.9 322.4zM227.8 322.5 225.8 315.8 223.8 322.5zM235.8 322.5 233.7 315.8 231.7 322.5zM243.7 322.5 241.7 315.8 239.6 322.5zM251.6 322.6 249.6 315.8 247.5 322.6zM259.6 322.6 257.5 315.7 255.5 322.6zM267.5 322.6 265.4 315.7 263.4 322.6zM275.4 322.6 273.3 315.7 271.3 322.6zM283.3 322.6 281.2 315.8 279.2 322.7zM291.2 322.6 289.1 315.9 287.2 322.7zM299.1 322.6 297.0 315.9 295.1 322.7zM307.1 322.6 304.9 316.0 303.0 322.7zM315.0 322.6 312.8 316.1 311.0 322.7zM322.9 322.6 320.7 316.1 318.9 322.7zM330.8 322.6 328.6 316.2 326.9 322.8zM338.7 322.6 336.5 316.2 334.8 322.8zM346.6 322.6 344.3 316.3 342.7 322.8zM354.5 322.6 352.2 316.4 350.7 322.8zM362.4 322.6 360.1 316.5 358.6 322.8zM370.3 322.5 368.0 316.5 366.6 322.8zM378.2 322.5 375.9 316.6 374.5 322.8zM386.1 322.5 383.7 316.6 382.5 322.8zM394.0 322.5 391.6 316.7 390.4 322.8zM401.9 322.4 399.5 316.8 398.4 322.8zM409.8 322.4 407.4 316.8 406.3 322.8zM417.7 322.4 415.4 316.9 414.3 322.8zM425.6 322.4 423.3 316.9 422.2 322.7zM433.5 322.3 431.2 317.0 430.1 322.7zM441.4 322.3 439.1 317.0 438.1 322.7zM449.3 322.3 447.0 317.0 446.0 322.7zM457.2 322.3 455.0 317.0 454.0 322.6zM465.1 322.2 463.0 317.0 461.9 322.6zM473.0 322.2 471.0 317.0 469.8 322.5zM480.9 322.2 478.9 317.0 477.8 322.4zM488.8 322.2 486.9 317.0 485.7 322.4zM496.8 322.1 494.9 317.0 493.6 322.3zM504.7 322.1 502.9 317.0 501.6 322.2zM512.6 322.1 510.8 317.0 509.5 322.2zM520.5 322.0 518.8 316.9 517.4 322.1zM528.4 322.0 526.7 316.9 525.4 322.1zM536.3 321.9 534.7 316.9 533.3 322.0zM544.2 321.9 542.6 316.8 541.2 321.9zM552.2 321.8 550.6 316.8 549.1 321.8zM560.1 321.8 558.5 316.7 557.1 321.8zM568.0 321.7 566.5 316.6 565.0 321.7zM108.3 329.5 107.0 324.9 105.6 329.5zM116.3 329.6 114.9 324.8 113.5 329.6zM124.3 329.7 122.8 324.7 121.3 329.7zM132.2 329.7 130.7 324.6 129.2 329.7zM140.2 329.8 138.6 324.5 137.1 329.8zM148.2 329.8 146.6 324.4 144.9 329.8zM156.2 329.9 154.5 324.3 152.8 329.9zM164.1 329.9 162.4 324.2 160.7 329.9zM172.1 330.0 170.3 324.1 168.6 330.0zM180.1 330.0 178.3 324.1 176.5 330.0zM188.0 330.1 186.2 324.0 184.4 330.1zM196.0 330.1 194.1 323.9 192.2 330.1zM203.9 330.2 202.0 323.8 200.1 330.2zM211.9 330.2 210.0 323.7 208.0 330.2zM219.9 330.2 217.9 323.6 215.9 330.3zM227.8 330.3 225.8 323.6 223.8 330.3zM235.7 330.3 233.7 323.6 231.7 330.3zM243.7 330.3 241.6 323.6 239.6 330.4zM251.6 330.4 249.6 323.6 247.5 330.4zM259.5 330.4 257.5 323.6 255.5 330.4zM267.5 330.4 265.4 323.5 263.4 330.4zM275.4 330.4 273.3 323.6 271.3 330.5zM283.3 330.4 281.2 323.6 279.2 330.5zM291.2 330.4 289.1 323.7 287.2 330.5zM299.1 330.4 297.0 323.8 295.1 330.5zM307.0 330.4 304.9 323.9 303.1 330.6zM314.9 330.4 312.7 323.9 311.0 330.6zM322.8 330.4 320.6 324.0 318.9 330.6zM330.7 330.4 328.5 324.1 326.9 330.6zM338.6 330.4 336.4 324.2 334.8 330.6zM346.5 330.4 344.3 324.3 342.8 330.6zM354.4 330.4 352.1 324.3 350.7 330.6zM362.3 330.4 360.0 324.4 358.7 330.7zM370.2 330.3 367.9 324.5 366.6 330.7zM378.1 330.3 375.8 324.5 374.6 330.7zM386.0 330.3 383.6 324.6 382.5 330.7zM393.9 330.3 391.5 324.7 390.5 330.7zM401.8 330.2 399.4 324.7 398.4 330.6zM409.7 330.2 407.4 324.8 406.4 330.6zM417.6 330.2 415.3 324.8 414.3 330.6zM425.5 330.2 423.2 324.9 422.2 330.6zM433.4 330.1 431.1 324.9 430.2 330.6zM441.3 330.1 439.0 325.0 438.1 330.5zM449.3 330.1 446.9 325.0 446.1 330.5zM457.2 330.0 454.9 325.0 454.0 330.4zM465.1 330.0 462.9 325.0 461.9 330.4zM473.0 330.0 470.9 325.0 469.9 330.3zM480.9 330.0 478.9 325.0 477.8 330.3zM488.8 330.0 486.9 324.9 485.7 330.2zM496.7 329.9 494.9 324.9 493.7 330.1zM504.7 329.9 502.8 324.9 501.6 330.1zM512.6 329.9 510.8 324.9 509.5 330.0zM520.5 329.8 518.8 324.9 517.5 329.9zM528.4 329.8 526.7 324.8 525.4 329.9zM536.3 329.7 534.7 324.8 533.3 329.8zM544.2 329.7 542.7 324.7 541.3 329.7zM552.2 329.6 550.6 324.7 549.2 329.7zM560.1 329.6 558.6 324.6 557.1 329.6zM568.0 329.5 566.5 324.5 565.0 329.5zM108.3 337.3 106.9 332.9 105.6 337.3zM116.2 337.4 114.9 332.8 113.5 337.4zM124.2 337.5 122.8 332.7 121.3 337.5zM132.2 337.5 130.7 332.6 129.2 337.5zM140.2 337.6 138.6 332.5 137.1 337.6zM148.1 337.7 146.5 332.4 145.0 337.7zM156.1 337.7 154.5 332.2 152.8 337.7zM164.1 337.8 162.4 332.1 160.7 337.8zM172.0 337.8 170.3 332.1 168.6 337.8zM180.0 337.9 178.2 332.0 176.5 337.9zM188.0 337.9 186.1 331.9 184.4 337.9zM195.9 337.9 194.1 331.8 192.3 338.0zM203.9 338.0 202.0 331.7 200.1 338.0zM211.9 338.0 209.9 331.6 208.0 338.1zM219.8 338.0 217.8 331.5 215.9 338.1zM227.8 338.1 225.7 331.5 223.8 338.1zM235.7 338.1 233.6 331.5 231.7 338.2zM243.7 338.1 241.5 331.5 239.6 338.2zM251.6 338.2 249.4 331.4 247.5 338.2zM259.5 338.2 257.3 331.4 255.4 338.3zM267.5 338.2 265.3 331.3 263.3 338.3zM275.4 338.2 273.2 331.4 271.3 338.3zM283.3 338.2 281.0 331.5 279.2 338.3zM291.2 338.2 288.9 331.6 287.2 338.4zM299.1 338.2 296.8 331.7 295.1 338.4zM307.0 338.2 304.7 331.8 303.1 338.4zM314.9 338.2 312.5 331.9 311.0 338.5zM322.8 338.2 320.4 332.0 319.0 338.5zM330.7 338.2 328.3 332.1 326.9 338.5zM338.6 338.2 336.2 332.2 334.9 338.5zM346.5 338.2 344.0 332.3 342.8 338.5zM354.4 338.1 351.9 332.4 350.8 338.5zM362.3 338.1 359.8 332.5 358.8 338.5zM370.1 338.1 367.7 332.6 366.7 338.5zM378.0 338.1 375.5 332.7 374.7 338.6zM385.9 338.0 383.4 332.8 382.6 338.6zM393.8 338.0 391.3 332.9 390.6 338.6zM401.7 338.0 399.2 332.9 398.5 338.5zM409.6 338.0 407.2 332.9 406.5 338.5zM417.5 338.0 415.1 333.0 414.4 338.5zM425.5 337.9 423.0 333.0 422.3 338.5zM433.4 337.9 431.0 333.0 430.3 338.4zM441.3 337.9 438.9 333.1 438.2 338.4zM449.2 337.9 446.9 333.1 446.2 338.3zM457.1 337.9 454.9 333.0 454.1 338.3zM465.0 337.8 462.9 333.0 462.0 338.2zM473.0 337.8 470.9 332.9 469.9 338.2zM480.9 337.8 478.9 332.8 477.8 338.1zM488.8 337.8 486.9 332.8 485.8 338.0zM496.7 337.8 494.9 332.8 493.7 338.0zM504.6 337.7 502.9 332.8 501.6 337.9zM512.5 337.7 510.8 332.8 509.6 337.8zM520.5 337.7 518.8 332.8 517.5 337.8zM528.4 337.6 526.8 332.8 525.5 337.7zM536.3 337.6 534.7 332.8 533.4 337.6zM544.2 337.5 542.7 332.7 541.3 337.6zM552.1 337.5 550.6 332.7 549.2 337.5zM560.1 337.4 558.6 332.6 557.2 337.4zM568.0 337.3 566.5 332.5 565.1 337.3zM108.2 345.2 106.9 340.8 105.6 345.2zM116.2 345.2 114.8 340.7 113.5 345.2zM124.2 345.3 122.8 340.6 121.3 345.3zM132.1 345.4 130.7 340.5 129.2 345.4zM140.1 345.4 138.6 340.4 137.1 345.4zM148.1 345.5 146.5 340.3 145.0 345.5zM156.1 345.5 154.5 340.2 152.8 345.5zM164.0 345.6 162.4 340.1 160.7 345.6zM172.0 345.6 170.3 340.0 168.6 345.6zM180.0 345.7 178.2 339.9 176.5 345.7zM187.9 345.7 186.1 339.8 184.4 345.7zM195.9 345.7 194.0 339.7 192.3 345.8zM203.9 345.8 201.9 339.6 200.1 345.8zM211.8 345.8 209.8 339.5 208.0 345.9zM219.8 345.8 217.7 339.4 215.9 345.9zM227.7 345.9 225.6 339.4 223.8 346.0zM235.7 345.9 233.5 339.4 231.7 346.0zM243.6 345.9 241.4 339.3 239.6 346.1zM251.6 345.9 249.3 339.3 247.5 346.1zM259.5 346.0 257.2 339.2 255.4 346.1zM267.5 346.0 265.1 339.2 263.3 346.1zM275.4 346.0 273.0 339.2 271.3 346.2zM283.3 346.0 280.9 339.3 279.2 346.2zM291.2 346.0 288.7 339.4 287.2 346.2zM299.1 346.0 296.6 339.6 295.1 346.3zM307.0 346.0 304.5 339.7 303.1 346.3zM314.8 346.0 312.3 339.8 311.1 346.3zM322.7 345.9 320.2 340.0 319.0 346.4zM330.6 345.9 328.1 340.1 327.0 346.4zM338.5 345.9 335.9 340.2 334.9 346.4zM346.4 345.9 343.8 340.3 342.9 346.4zM354.3 345.9 351.7 340.5 350.9 346.4zM362.2 345.9 359.5 340.6 358.8 346.4zM370.1 345.8 367.4 340.7 366.8 346.4zM377.9 345.8 375.3 340.8 374.8 346.4zM385.8 345.8 383.2 341.0 382.7 346.4zM393.7 345.8 391.1 341.0 390.7 346.4zM401.6 345.8 399.0 341.1 398.6 346.4zM409.5 345.7 407.0 341.1 406.6 346.4zM417.5 345.7 414.9 341.1 414.5 346.3zM425.4 345.7 422.9 341.1 422.4 346.3zM433.3 345.7 430.9 341.1 430.4 346.3zM441.2 345.7 438.8 341.2 438.3 346.2zM449.1 345.7 446.8 341.1 446.2 346.2zM457.1 345.7 454.8 341.0 454.2 346.1zM465.0 345.6 462.8 340.9 462.1 346.1zM473.0 345.6 470.9 340.8 470.0 346.0zM480.9 345.6 478.9 340.7 477.9 345.9zM488.8 345.6 486.9 340.7 485.8 345.9zM496.7 345.6 494.9 340.7 493.8 345.8zM504.6 345.5 502.9 340.8 501.7 345.7zM512.5 345.5 510.9 340.8 509.6 345.6zM520.4 345.5 518.8 340.8 517.6 345.6zM528.3 345.4 526.8 340.8 525.5 345.5zM536.3 345.4 534.8 340.7 533.5 345.4zM544.2 345.3 542.7 340.7 541.4 345.4zM552.1 345.3 550.7 340.7 549.3 345.3zM560.0 345.2 558.6 340.6 557.3 345.2zM567.9 345.2 566.6 340.6 565.2 345.2zM108.2 353.0 106.9 348.7 105.6 353.0zM116.1 353.0 114.8 348.6 113.5 353.0zM124.1 353.1 122.7 348.5 121.4 353.1zM132.1 353.2 130.7 348.4 129.2 353.2zM140.1 353.2 138.6 348.3 137.1 353.2zM148.0 353.3 146.5 348.2 145.0 353.3zM156.0 353.4 154.4 348.1 152.9 353.4zM164.0 353.4 162.3 348.0 160.7 353.4zM171.9 353.4 170.2 347.9 168.6 353.5zM179.9 353.5 178.1 347.8 176.5 353.5zM187.9 353.5 186.0 347.7 184.4 353.6zM195.8 353.6 193.9 347.6 192.3 353.6zM203.8 353.6 201.8 347.5 200.2 353.7zM211.8 353.6 209.7 347.4 208.0 353.7zM219.7 353.6 217.6 347.3 215.9 353.8zM227.7 353.7 225.5 347.3 223.8 353.8zM235.7 353.7 233.4 347.2 231.7 353.9zM243.6 353.7 241.3 347.2 239.6 353.9zM251.6 353.7 249.2 347.1 247.5 353.9zM259.5 353.7 257.1 347.0 255.4 354.0zM267.5 353.8 265.0 347.0 263.3 354.0zM275.4 353.8 272.9 347.0 271.2 354.0zM283.3 353.8 280.7 347.2 279.2 354.1zM291.2 353.8 288.6 347.3 287.2 354.1zM299.0 353.7 296.4 347.5 295.2 354.2zM306.9 353.7 304.3 347.6 303.1 354.2zM314.8 353.7 312.1 347.8 311.1 354.2zM322.7 353.7 320.0 347.9 319.1 354.2zM330.6 353.7 327.8 348.1 327.0 354.3zM338.5 353.7 335.7 348.2 335.0 354.3zM346.3 353.7 343.6 348.4 343.0 354.3zM354.2 353.6 351.4 348.5 350.9 354.3zM362.1 353.6 359.3 348.7 358.9 354.3zM370.0 353.6 367.2 348.8 366.9 354.3zM377.8 353.6 375.1 349.0 374.9 354.3zM385.7 353.5 382.9 349.1 382.8 354.3zM393.6 353.5 390.8 349.2 390.8 354.3zM401.5 353.5 398.8 349.2 398.7 354.3zM409.5 353.5 406.8 349.2 406.7 354.3zM417.4 353.5 414.8 349.3 414.6 354.2zM425.3 353.5 422.8 349.3 422.5 354.2zM433.2 353.5 430.8 349.3 430.5 354.1zM441.1 353.5 438.7 349.3 438.4 354.1zM449.1 353.5 446.7 349.2 446.3 354.0zM457.0 353.5 454.8 349.1 454.2 354.0zM465.0 353.5 462.8 348.9 462.1 353.9zM472.9 353.4 470.8 348.8 470.0 353.8zM480.9 353.4 478.9 348.6 477.9 353.8zM488.8 353.4 486.9 348.6 485.8 353.7zM496.7 353.4 494.9 348.7 493.8 353.6zM504.6 353.4 502.9 348.7 501.7 353.5zM512.5 353.3 510.9 348.7 509.7 353.5zM520.4 353.3 518.9 348.7 517.6 353.4zM528.3 353.3 526.8 348.7 525.6 353.3zM536.2 353.2 534.8 348.7 533.5 353.3zM544.1 353.2 542.7 348.7 541.5 353.2zM552.1 353.1 550.7 348.7 549.4 353.1zM560.0 353.0 558.6 348.6 557.3 353.1zM567.9 353.0 566.6 348.6 565.3 353.0zM108.1 360.8 106.8 356.7 105.6 360.8zM116.1 360.9 114.8 356.6 113.5 360.9zM124.0 360.9 122.7 356.5 121.4 360.9zM132.0 361.0 130.6 356.4 129.2 361.0zM140.0 361.1 138.5 356.3 137.1 361.1zM148.0 361.1 146.5 356.2 145.0 361.1zM155.9 361.2 154.4 356.1 152.9 361.2zM163.9 361.2 162.3 356.0 160.8 361.2zM171.9 361.3 170.2 355.9 168.6 361.3zM179.9 361.3 178.1 355.8 176.5 361.4zM187.8 361.3 186.0 355.7 184.4 361.4zM195.8 361.4 193.9 355.6 192.3 361.5zM203.8 361.4 201.7 355.5 200.2 361.5zM211.7 361.4 209.6 355.4 208.1 361.6zM219.7 361.4 217.5 355.3 215.9 361.6zM227.7 361.5 225.4 355.2 223.8 361.7zM235.6 361.5 233.3 355.1 231.7 361.7zM243.6 361.5 241.2 355.0 239.6 361.8zM251.5 361.5 249.1 355.0 247.5 361.8zM259.5 361.5 257.0 354.9 255.4 361.8zM267.5 361.5 264.9 354.8 263.3 361.9zM275.4 361.5 272.7 354.8 271.2 361.9zM283.3 361.5 280.6 355.0 279.2 361.9zM291.1 361.5 288.4 355.2 287.2 362.0zM299.0 361.5 296.2 355.4 295.2 362.0zM306.9 361.5 304.0 355.6 303.2 362.1zM314.7 361.5 311.9 355.8 311.1 362.1zM322.6 361.4 319.7 356.0 319.1 362.1zM330.5 361.4 327.5 356.2 327.1 362.2zM338.4 361.4 335.4 356.4 335.1 362.2zM346.2 361.4 343.3 356.5 343.1 362.2zM354.1 361.4 351.2 356.7 351.0 362.2zM362.0 361.3 359.0 356.9 359.0 362.2zM369.9 361.3 366.9 357.0 367.0 362.2zM377.7 361.3 374.8 357.2 375.0 362.2zM385.6 361.3 382.7 357.4 383.0 362.2zM393.5 361.3 390.6 357.5 390.9 362.2zM401.4 361.3 398.6 357.5 398.9 362.2zM409.3 361.3 406.6 357.4 406.8 362.1zM417.3 361.3 414.6 357.4 414.7 362.1zM425.2 361.3 422.6 357.4 422.6 362.0zM433.1 361.3 430.6 357.4 430.6 362.0zM441.0 361.3 438.6 357.4 438.5 361.9zM449.0 361.3 446.7 357.3 446.4 361.9zM457.0 361.3 454.7 357.1 454.3 361.8zM464.9 361.3 462.7 356.9 462.2 361.7zM472.9 361.2 470.8 356.7 470.0 361.7zM480.9 361.2 478.8 356.5 477.9 361.6zM488.8 361.2 486.8 356.5 485.9 361.5zM496.7 361.2 494.9 356.6 493.8 361.4zM504.6 361.2 502.9 356.6 501.8 361.4zM512.5 361.2 510.9 356.7 509.7 361.3zM520.4 361.1 518.9 356.7 517.7 361.2zM528.3 361.1 526.9 356.7 525.6 361.1zM536.2 361.0 534.8 356.7 533.6 361.1zM544.1 361.0 542.8 356.7 541.5 361.0zM552.0 360.9 550.7 356.7 549.5 360.9zM559.9 360.9 558.7 356.6 557.4 360.9zM567.9 360.8 566.6 356.6 565.3 360.8zM108.0 368.6 106.8 364.6 105.6 368.6zM116.0 368.7 114.7 364.5 113.5 368.7zM124.0 368.7 122.7 364.4 121.4 368.8zM132.0 368.8 130.6 364.3 129.3 368.8zM139.9 368.9 138.5 364.2 137.1 368.9zM147.9 368.9 146.4 364.1 145.0 369.0zM155.9 369.0 154.3 364.0 152.9 369.0zM163.9 369.0 162.2 363.9 160.8 369.1zM171.8 369.1 170.1 363.8 168.7 369.1zM179.8 369.1 178.0 363.7 176.5 369.2zM187.8 369.1 185.9 363.6 184.4 369.3zM195.7 369.2 193.8 363.5 192.3 369.3zM203.7 369.2 201.6 363.4 200.2 369.4zM211.7 369.2 209.5 363.3 208.1 369.4zM219.7 369.2 217.4 363.2 216.0 369.5zM227.6 369.3 225.3 363.1 223.9 369.5zM235.6 369.3 233.2 363.0 231.7 369.6zM243.5 369.3 241.1 362.9 239.6 369.6zM251.5 369.3 249.0 362.8 247.5 369.6zM259.5 369.3 256.9 362.7 255.4 369.7zM267.4 369.3 264.7 362.6 263.3 369.7zM275.4 369.3 272.6 362.7 271.2 369.8zM283.2 369.3 280.4 362.9 279.2 369.8zM291.1 369.3 288.2 363.2 287.2 369.9zM298.9 369.3 296.0 363.4 295.2 369.9zM306.8 369.2 303.8 363.6 303.2 370.0zM314.7 369.2 311.6 363.9 311.2 370.0zM322.5 369.2 319.4 364.1 319.2 370.1zM330.4 369.2 327.2 364.3 327.2 370.1zM338.3 369.1 335.1 364.5 335.2 370.1zM346.1 369.1 343.0 364.7 343.2 370.1zM354.0 369.1 350.9 364.9 351.2 370.1zM361.9 369.1 358.7 365.1 359.2 370.1zM369.7 369.1 366.6 365.3 367.1 370.1zM377.6 369.0 374.5 365.5 375.1 370.2zM385.5 369.0 382.4 365.7 383.1 370.2zM393.4 369.0 390.3 365.8 391.1 370.1zM401.3 369.0 398.3 365.7 399.0 370.1zM409.2 369.0 406.4 365.7 406.9 370.0zM417.2 369.0 414.4 365.6 414.8 370.0zM425.1 369.0 422.4 365.6 422.8 369.9zM433.0 369.0 430.5 365.5 430.7 369.9zM441.0 369.0 438.5 365.5 438.6 369.8zM448.9 369.0 446.6 365.3 446.5 369.7zM456.9 369.0 454.6 365.1 454.4 369.7zM464.9 369.0 462.7 364.8 462.2 369.6zM472.9 369.0 470.7 364.6 470.1 369.5zM480.9 369.0 478.7 364.3 477.9 369.4zM488.8 369.0 486.8 364.4 485.9 369.4zM496.7 369.0 494.8 364.5 493.9 369.3zM504.6 369.0 502.9 364.6 501.8 369.2zM512.5 369.0 510.9 364.6 509.8 369.1zM520.3 369.0 518.9 364.7 517.8 369.0zM528.3 368.9 526.9 364.7 525.7 369.0zM536.2 368.9 534.8 364.7 533.7 368.9zM544.1 368.8 542.8 364.7 541.6 368.8zM552.0 368.7 550.7 364.7 549.6 368.8zM559.9 368.7 558.7 364.7 557.5 368.7zM567.8 368.6 566.6 364.7 565.4 368.6zM108.0 376.4 106.8 372.6 105.6 376.4zM115.9 376.5 114.7 372.5 113.5 376.5zM123.9 376.6 122.6 372.4 121.4 376.6zM131.9 376.6 130.5 372.3 129.3 376.7zM139.9 376.7 138.4 372.2 137.2 376.7zM147.8 376.7 146.4 372.1 145.0 376.8zM155.8 376.8 154.3 372.0 152.9 376.8zM163.8 376.8 162.2 371.9 160.8 376.9zM171.8 376.9 170.0 371.8 168.7 377.0zM179.7 376.9 177.9 371.7 176.6 377.0zM187.7 376.9 185.8 371.6 184.5 377.1zM195.7 376.9 193.7 371.5 192.3 377.2zM203.7 377.0 201.5 371.4 200.2 377.2zM211.6 377.0 209.4 371.2 208.1 377.3zM219.6 377.0 217.3 371.1 216.0 377.3zM227.6 377.0 225.2 371.0 223.9 377.4zM235.5 377.1 233.1 370.9 231.8 377.4zM243.5 377.1 241.0 370.8 239.6 377.5zM251.5 377.1 248.8 370.7 247.5 377.5zM259.5 377.1 256.7 370.6 255.4 377.5zM267.4 377.1 264.6 370.5 263.3 377.6zM275.3 377.1 272.5 370.5 271.2 377.6zM283.2 377.1 280.2 370.8 279.3 377.7zM291.0 377.1 288.0 371.1 287.3 377.7zM298.9 377.0 295.8 371.4 295.3 377.8zM306.7 377.0 303.6 371.7 303.3 377.9zM314.6 377.0 311.3 372.0 311.3 377.9zM322.4 376.9 319.1 372.2 319.3 378.0zM330.3 376.9 326.9 372.5 327.3 378.0zM338.1 376.9 334.8 372.7 335.3 378.0zM346.0 376.9 342.7 372.9 343.3 378.0zM353.9 376.8 350.6 373.1 351.3 378.0zM361.7 376.8 358.4 373.3 359.3 378.0zM369.6 376.8 366.3 373.5 367.3 378.1zM377.5 376.8 374.2 373.7 375.3 378.1zM385.3 376.7 382.1 373.9 383.3 378.1zM393.2 376.7 390.0 374.1 391.2 378.0zM401.2 376.7 398.1 374.0 399.1 378.0zM409.1 376.8 406.1 373.9 407.0 377.9zM417.0 376.8 414.2 373.8 415.0 377.9zM425.0 376.8 422.3 373.8 422.9 377.8zM432.9 376.8 430.3 373.7 430.8 377.7zM440.9 376.8 438.4 373.6 438.7 377.7zM448.9 376.8 446.5 373.4 446.6 377.6zM456.9 376.8 454.5 373.1 454.4 377.5zM464.9 376.8 462.6 372.8 462.3 377.4zM472.9 376.8 470.6 372.5 470.1 377.4zM480.9 376.8 478.7 372.1 478.0 377.3zM488.8 376.8 486.7 372.2 485.9 377.2zM496.7 376.8 494.8 372.4 493.9 377.1zM504.5 376.8 502.9 372.5 501.9 377.0zM512.4 376.8 510.9 372.6 509.9 376.9zM520.3 376.8 518.9 372.7 517.8 376.9zM528.2 376.7 526.9 372.7 525.8 376.8zM536.1 376.7 534.9 372.7 533.7 376.7zM544.0 376.6 542.8 372.7 541.7 376.6zM551.9 376.6 550.8 372.7 549.6 376.6zM559.9 376.5 558.7 372.7 557.6 376.5zM567.8 376.4 566.6 372.7 565.5 376.4zM107.9 384.3 106.8 380.5 105.7 384.3zM115.9 384.3 114.7 380.4 113.5 384.3zM123.8 384.4 122.6 380.3 121.4 384.4zM131.8 384.4 130.5 380.2 129.3 384.5zM139.8 384.5 138.4 380.1 137.2 384.5zM147.8 384.5 146.3 380.0 145.1 384.6zM155.8 384.6 154.2 379.9 152.9 384.7zM163.7 384.6 162.1 379.8 160.8 384.7zM171.7 384.7 170.0 379.7 168.7 384.8zM179.7 384.7 177.8 379.6 176.6 384.9zM187.7 384.7 185.7 379.5 184.5 384.9zM195.6 384.7 193.5 379.4 192.4 385.0zM203.6 384.8 201.4 379.3 200.2 385.1zM211.6 384.8 209.3 379.2 208.1 385.1zM219.6 384.8 217.2 379.1 216.0 385.2zM227.5 384.8 225.0 378.9 223.9 385.2zM235.5 384.9 232.9 378.8 231.8 385.3zM243.5 384.9 240.8 378.7 239.6 385.3zM251.5 384.9 248.7 378.6 247.5 385.3zM259.4 384.9 256.6 378.4 255.4 385.4zM267.4 384.9 264.5 378.3 263.3 385.4zM275.3 384.9 272.3 378.4 271.2 385.5zM283.2 384.9 280.1 378.7 279.3 385.5zM291.0 384.8 287.8 379.0 287.3 385.6zM298.8 384.8 295.6 379.4 295.3 385.7zM306.7 384.7 303.3 379.7 303.3 385.7zM314.5 384.7 311.1 380.0 311.4 385.8zM322.3 384.6 318.8 380.3 319.4 385.9zM330.2 384.6 326.6 380.6 327.4 385.9zM338.0 384.6 334.5 380.9 335.4 385.9zM345.9 384.6 342.4 381.1 343.4 385.9zM353.8 384.6 350.3 381.3 351.4 386.0zM361.6 384.5 358.1 381.5 359.4 386.0zM369.5 384.5 366.0 381.8 367.4 386.0zM377.3 384.5 373.9 382.0 375.4 386.0zM385.2 384.5 381.8 382.2 383.4 386.0zM393.1 384.4 389.7 382.3 391.4 386.0zM401.0 384.5 397.8 382.2 399.3 385.9zM409.0 384.5 405.9 382.1 407.2 385.8zM416.9 384.5 414.0 382.0 415.1 385.7zM424.9 384.6 422.1 381.9 423.0 385.7zM432.9 384.6 430.2 381.8 430.9 385.6zM440.8 384.6 438.3 381.7 438.8 385.5zM448.8 384.6 446.4 381.5 446.7 385.4zM456.8 384.6 454.4 381.1 454.5 385.4zM464.9 384.6 462.5 380.7 462.3 385.3zM472.9 384.6 470.5 380.3 470.1 385.2zM480.9 384.6 478.6 380.0 478.0 385.1zM488.8 384.6 486.7 380.1 485.9 385.0zM496.7 384.6 494.7 380.2 493.9 385.0zM504.5 384.6 502.8 380.4 501.9 384.9zM512.4 384.6 510.9 380.6 509.9 384.8zM520.3 384.6 519.0 380.6 517.9 384.7zM528.2 384.6 526.9 380.7 525.8 384.6zM536.1 384.5 534.9 380.7 533.8 384.5zM544.0 384.5 542.9 380.7 541.8 384.5zM551.9 384.4 550.8 380.7 549.7 384.4zM559.8 384.3 558.7 380.7 557.7 384.3zM567.7 384.3 566.7 380.7 565.6 384.3zM107.8 392.1 106.7 388.5 105.7 392.1zM115.8 392.1 114.6 388.4 113.6 392.2zM123.8 392.2 122.5 388.3 121.4 392.2zM131.8 392.2 130.4 388.2 129.3 392.3zM139.7 392.3 138.3 388.1 137.2 392.4zM147.7 392.3 146.2 388.0 145.1 392.5zM155.7 392.4 154.1 387.9 153.0 392.5zM163.7 392.4 162.0 387.8 160.8 392.6zM171.7 392.5 169.8 387.7 168.7 392.7zM179.6 392.5 177.7 387.6 176.6 392.7zM187.6 392.5 185.6 387.5 184.5 392.8zM195.6 392.5 193.4 387.3 192.4 392.9zM203.6 392.5 201.3 387.2 200.3 392.9zM211.5 392.6 209.1 387.1 208.1 393.0zM219.5 392.6 217.0 387.0 216.0 393.1zM227.5 392.6 224.8 386.9 223.9 393.1zM235.5 392.6 232.7 386.8 231.8 393.2zM243.4 392.6 240.6 386.7 239.7 393.2zM251.4 392.6 248.5 386.6 247.6 393.2zM259.4 392.6 256.3 386.4 255.5 393.3zM267.3 392.6 264.2 386.3 263.3 393.3zM275.3 392.6 272.0 386.4 271.3 393.4zM283.1 392.6 279.7 386.7 279.3 393.5zM290.9 392.5 287.4 387.1 287.3 393.5zM298.8 392.5 295.2 387.4 295.4 393.6zM306.6 392.4 302.9 387.7 303.4 393.7zM314.4 392.4 310.6 388.0 311.4 393.8zM322.3 392.3 318.3 388.4 319.4 393.8zM330.1 392.3 326.1 388.6 327.5 393.9zM338.0 392.3 334.0 388.9 335.5 393.9zM345.8 392.2 341.9 389.1 343.5 393.9zM353.7 392.2 349.7 389.4 351.5 393.9zM361.5 392.2 357.6 389.6 359.5 393.9zM369.4 392.2 365.5 389.8 367.5 393.9zM377.3 392.2 373.4 390.1 375.5 394.0zM385.1 392.1 381.2 390.3 383.5 394.0zM393.0 392.1 389.2 390.4 391.4 393.9zM401.0 392.2 397.3 390.3 399.3 393.9zM408.9 392.2 405.4 390.1 407.2 393.8zM416.9 392.2 413.6 390.0 415.1 393.7zM424.9 392.3 421.7 389.8 423.0 393.6zM432.9 392.3 429.8 389.7 430.9 393.5zM440.8 392.3 438.0 389.5 438.8 393.4zM448.8 392.4 446.1 389.3 446.7 393.3zM456.8 392.4 454.2 388.9 454.5 393.3zM464.9 392.4 462.3 388.5 462.3 393.2zM472.9 392.4 470.4 388.1 470.1 393.1zM481.0 392.4 478.4 387.7 478.0 393.0zM488.8 392.4 486.5 387.8 485.9 392.9zM496.7 392.4 494.7 388.0 493.9 392.8zM504.6 392.4 502.8 388.2 501.9 392.7zM512.4 392.4 510.9 388.3 509.9 392.6zM520.3 392.4 518.9 388.4 517.9 392.5zM528.2 392.4 526.9 388.5 525.9 392.4zM536.1 392.3 534.9 388.5 533.8 392.4zM544.0 392.3 542.8 388.6 541.8 392.3zM551.9 392.2 550.8 388.6 549.7 392.2zM559.8 392.1 558.7 388.6 557.7 392.2zM567.7 392.1 566.6 388.6 565.6 392.1zM107.7 399.9 106.7 396.5 105.7 399.9zM115.7 399.9 114.6 396.4 113.6 400.0zM123.7 400.0 122.5 396.3 121.5 400.1zM131.7 400.0 130.3 396.2 129.3 400.2zM139.7 400.1 138.2 396.1 137.2 400.2zM147.6 400.1 146.1 396.0 145.1 400.3zM155.6 400.2 154.0 395.9 153.0 400.4zM163.6 400.2 161.9 395.7 160.9 400.4zM171.6 400.2 169.7 395.6 168.7 400.5zM179.6 400.3 177.6 395.5 176.6 400.6zM187.6 400.3 185.4 395.4 184.5 400.7zM195.5 400.3 193.3 395.3 192.4 400.7zM203.5 400.3 201.1 395.2 200.3 400.8zM211.5 400.3 209.0 395.0 208.2 400.9zM219.5 400.4 216.8 394.9 216.0 400.9zM227.4 400.4 224.6 394.8 223.9 401.0zM235.4 400.4 232.5 394.7 231.8 401.0zM243.4 400.4 240.3 394.6 239.7 401.1zM251.3 400.4 248.2 394.5 247.6 401.1zM259.3 400.4 256.0 394.4 255.5 401.2zM267.3 400.4 263.9 394.3 263.4 401.2zM275.2 400.3 271.7 394.4 271.3 401.3zM283.0 400.3 279.3 394.7 279.4 401.4zM290.9 400.2 287.0 395.1 287.4 401.5zM298.7 400.2 294.7 395.4 295.4 401.6zM306.5 400.1 302.4 395.7 303.4 401.7zM314.4 400.1 310.1 396.1 311.5 401.7zM322.2 400.0 317.8 396.4 319.5 401.8zM330.0 399.9 325.6 396.7 327.5 401.9zM337.9 399.9 333.5 396.9 335.5 401.9zM345.8 399.9 341.3 397.2 343.5 401.9zM353.6 399.9 349.2 397.4 351.5 401.9zM361.5 399.9 357.1 397.7 359.5 401.9zM369.3 399.8 365.0 397.9 367.6 401.9zM377.2 399.8 372.9 398.2 375.6 401.9zM385.0 399.8 380.7 398.4 383.6 401.9zM392.9 399.8 388.7 398.6 391.5 401.9zM400.9 399.8 396.8 398.4 399.4 401.8zM408.9 399.9 405.0 398.2 407.3 401.7zM416.9 399.9 413.2 398.0 415.2 401.6zM424.9 400.0 421.3 397.8 423.0 401.5zM432.8 400.0 429.5 397.5 430.9 401.5zM440.8 400.1 437.6 397.3 438.8 401.4zM448.8 400.1 445.8 397.1 446.7 401.3zM456.9 400.1 453.9 396.7 454.5 401.2zM464.9 400.1 462.1 396.2 462.3 401.1zM473.0 400.2 470.2 395.8 470.1 401.0zM481.0 400.2 478.3 395.4 477.9 400.9zM488.9 400.2 486.4 395.6 485.9 400.8zM496.7 400.2 494.6 395.8 493.9 400.7zM504.6 400.2 502.7 395.9 501.9 400.6zM512.5 400.2 510.8 396.1 509.9 400.4zM520.3 400.2 518.8 396.2 517.9 400.4zM528.2 400.1 526.8 396.3 525.9 400.3zM536.1 400.1 534.8 396.4 533.8 400.2zM544.0 400.1 542.8 396.4 541.8 400.1zM551.9 400.0 550.7 396.4 549.7 400.1zM559.8 399.9 558.6 396.4 557.7 400.0zM567.8 399.9 566.6 396.4 565.7 399.9zM107.7 407.7 106.6 404.5 105.7 407.7zM115.7 407.8 114.5 404.4 113.6 407.8zM123.6 407.8 122.4 404.3 121.5 407.9zM131.6 407.9 130.3 404.2 129.4 408.0zM139.6 407.9 138.1 404.0 137.2 408.1zM147.6 407.9 146.0 403.9 145.1 408.1zM155.6 408.0 153.9 403.8 153.0 408.2zM163.6 408.0 161.8 403.7 160.9 408.3zM171.5 408.0 169.6 403.6 168.8 408.4zM179.5 408.1 177.4 403.5 176.6 408.4zM187.5 408.1 185.3 403.3 184.5 408.5zM195.5 408.1 193.1 403.2 192.4 408.6zM203.5 408.1 201.0 403.1 200.3 408.7zM211.4 408.1 208.8 403.0 208.2 408.7zM219.4 408.1 216.6 402.9 216.1 408.8zM227.4 408.1 224.4 402.8 224.0 408.9zM235.4 408.1 232.3 402.7 231.8 408.9zM243.3 408.1 240.1 402.6 239.7 409.0zM251.3 408.1 247.9 402.5 247.6 409.0zM259.3 408.1 255.7 402.4 255.5 409.1zM267.2 408.1 263.5 402.3 263.4 409.2zM275.1 408.1 271.3 402.4 271.4 409.2zM283.0 408.0 279.0 402.7 279.4 409.3zM290.8 407.9 286.6 403.1 287.4 409.4zM298.6 407.9 294.3 403.4 295.5 409.5zM306.5 407.8 302.0 403.8 303.5 409.6zM314.3 407.7 309.6 404.1 311.5 409.7zM322.1 407.7 317.3 404.4 319.6 409.8zM330.0 407.6 325.1 404.7 327.6 409.8zM337.8 407.6 332.9 405.0 335.6 409.9zM345.7 407.6 340.8 405.3 343.6 409.9zM353.5 407.6 348.7 405.5 351.6 409.9zM361.4 407.5 356.6 405.8 359.6 409.9zM369.2 407.5 364.5 406.0 367.6 409.9zM377.1 407.5 372.3 406.3 375.7 409.9zM384.9 407.5 380.2 406.6 383.7 409.9zM392.8 407.5 388.2 406.7 391.6 409.9zM400.8 407.5 396.4 406.4 399.5 409.8zM408.8 407.6 404.6 406.2 407.4 409.7zM416.8 407.6 412.7 405.9 415.2 409.6zM424.8 407.7 420.9 405.7 423.1 409.5zM432.8 407.7 429.1 405.4 431.0 409.4zM440.8 407.8 437.3 405.2 438.8 409.3zM448.8 407.8 445.5 404.9 446.7 409.2zM456.9 407.9 453.7 404.4 454.5 409.1zM464.9 407.9 461.9 404.0 462.3 408.9zM473.0 407.9 470.0 403.6 470.1 408.8zM481.0 408.0 478.2 403.2 477.9 408.7zM488.9 408.0 486.3 403.3 485.9 408.6zM496.8 408.0 494.5 403.5 493.9 408.5zM504.6 408.0 502.6 403.7 501.9 408.4zM512.5 408.0 510.7 403.9 509.9 408.3zM520.4 408.0 518.8 404.0 517.9 408.2zM528.2 407.9 526.8 404.1 525.9 408.1zM536.1 407.9 534.7 404.2 533.9 408.1zM544.0 407.9 542.7 404.2 541.8 408.0zM552.0 407.8 550.6 404.2 549.8 407.9zM559.9 407.7 558.6 404.2 557.7 407.9zM567.8 407.7 566.5 404.2 565.7 407.8zM107.6 415.5 106.6 412.4 105.7 415.6zM115.6 415.6 114.4 412.3 113.6 415.7zM123.6 415.6 122.3 412.2 121.5 415.7zM131.6 415.7 130.2 412.1 129.4 415.8zM139.5 415.7 138.1 412.0 137.3 415.9zM147.5 415.7 145.9 411.9 145.1 416.0zM155.5 415.8 153.8 411.7 153.0 416.1zM163.5 415.8 161.7 411.6 160.9 416.1zM171.5 415.8 169.5 411.5 168.8 416.2zM179.5 415.8 177.3 411.4 176.7 416.3zM187.4 415.9 185.1 411.3 184.5 416.4zM195.4 415.9 193.0 411.1 192.4 416.4zM203.4 415.9 200.8 411.0 200.3 416.5zM211.4 415.9 208.6 410.9 208.2 416.6zM219.4 415.9 216.5 410.8 216.1 416.7zM227.3 415.9 224.2 410.7 224.0 416.7zM235.3 415.9 232.0 410.6 231.9 416.8zM243.3 415.9 239.8 410.6 239.8 416.9zM251.2 415.9 247.6 410.5 247.7 416.9zM259.2 415.8 255.4 410.4 255.6 417.0zM267.2 415.8 263.2 410.3 263.5 417.1zM275.1 415.8 271.0 410.4 271.4 417.2zM282.9 415.7 278.6 410.8 279.5 417.3zM290.7 415.6 286.2 411.1 287.5 417.4zM298.6 415.6 293.9 411.4 295.5 417.5zM306.4 415.5 301.5 411.8 303.6 417.6zM314.2 415.4 309.2 412.1 311.6 417.7zM322.1 415.3 316.8 412.5 319.6 417.8zM329.9 415.3 324.6 412.8 327.6 417.8zM337.8 415.3 332.4 413.1 335.7 417.8zM345.6 415.2 340.3 413.3 343.7 417.8zM353.5 415.2 348.2 413.6 351.7 417.9zM361.3 415.2 356.1 413.9 359.7 417.9zM369.1 415.2 364.0 414.2 367.7 417.9zM377.0 415.2 371.9 414.4 375.7 417.9zM384.8 415.1 379.7 414.7 383.8 417.9zM392.7 415.1 387.7 414.8 391.7 417.8zM400.7 415.2 395.9 414.5 399.6 417.7zM408.8 415.3 404.1 414.2 407.4 417.6zM416.8 415.3 412.3 413.9 415.3 417.5zM424.8 415.4 420.6 413.6 423.1 417.4zM432.8 415.4 428.8 413.4 431.0 417.3zM440.8 415.5 437.0 413.1 438.8 417.2zM448.8 415.6 445.2 412.7 446.7 417.1zM456.9 415.6 453.4 412.2 454.5 417.0zM465.0 415.7 461.7 411.8 462.3 416.8zM473.0 415.7 469.9 411.3 470.1 416.7zM481.1 415.7 478.1 410.9 477.9 416.6zM488.9 415.8 486.2 411.1 485.9 416.5zM496.8 415.8 494.4 411.3 493.9 416.4zM504.6 415.8 502.5 411.5 501.9 416.3zM512.5 415.8 510.6 411.7 509.9 416.1zM520.4 415.8 518.7 411.8 517.9 416.1zM528.3 415.7 526.7 411.9 525.9 416.0zM536.2 415.7 534.7 412.0 533.9 415.9zM544.1 415.7 542.6 412.0 541.8 415.8zM552.0 415.6 550.6 412.0 549.8 415.8zM559.9 415.5 558.5 412.1 557.7 415.7zM567.8 415.5 566.5 412.1 565.7 415.6zM107.5 423.3 106.5 420.4 105.8 423.4zM115.5 423.4 114.3 420.3 113.6 423.5zM123.5 423.4 122.2 420.2 121.5 423.6zM131.5 423.4 130.1 420.1 129.4 423.7zM139.5 423.5 137.9 420.0 137.3 423.8zM147.5 423.5 145.8 419.8 145.2 423.8zM155.4 423.6 153.6 419.7 153.0 423.9zM163.4 423.6 161.5 419.6 160.9 424.0zM171.4 423.6 169.3 419.5 168.8 424.1zM179.4 423.6 177.1 419.4 176.7 424.2zM187.4 423.6 185.0 419.3 184.6 424.2zM195.3 423.6 192.8 419.2 192.5 424.3zM203.3 423.7 200.6 419.1 200.4 424.4zM211.3 423.7 208.4 419.0 208.2 424.5zM219.3 423.7 216.2 418.9 216.1 424.5zM227.2 423.6 224.0 418.8 224.1 424.6zM235.2 423.6 231.7 418.8 232.0 424.7zM243.1 423.6 239.5 418.7 239.9 424.8zM251.1 423.6 247.2 418.7 247.8 424.9zM259.1 423.5 255.0 418.6 255.7 425.0zM267.0 423.5 262.8 418.6 263.6 425.0zM274.9 423.5 270.5 418.7 271.6 425.1zM282.8 423.4 278.1 419.0 279.6 425.2zM290.6 423.3 285.7 419.4 287.6 425.3zM298.4 423.2 293.4 419.7 295.7 425.4zM306.3 423.2 301.0 420.1 303.7 425.5zM314.1 423.1 308.6 420.4 311.7 425.6zM321.9 423.0 316.3 420.8 319.8 425.7zM329.8 422.9 324.0 421.1 327.8 425.8zM337.6 422.9 332.0 421.3 335.8 425.8zM345.5 422.9 339.9 421.5 343.8 425.8zM353.4 422.9 347.8 421.8 351.8 425.8zM361.2 422.9 355.7 422.0 359.8 425.8zM369.1 422.9 363.6 422.2 367.8 425.8zM376.9 422.9 371.5 422.4 375.8 425.8zM384.8 422.9 379.4 422.7 383.8 425.8zM392.7 422.9 387.4 422.7 391.8 425.8zM400.7 422.9 395.6 422.5 399.6 425.7zM408.7 423.0 403.9 422.1 407.5 425.5zM416.8 423.1 412.1 421.8 415.3 425.4zM424.8 423.1 420.3 421.5 423.2 425.3zM432.8 423.2 428.5 421.2 431.0 425.2zM440.8 423.2 436.8 420.9 438.9 425.1zM448.8 423.3 445.0 420.6 446.7 425.0zM456.9 423.4 453.3 420.1 454.5 424.8zM464.9 423.4 461.5 419.7 462.3 424.7zM473.0 423.5 469.7 419.3 470.1 424.6zM481.0 423.5 477.9 418.9 478.0 424.5zM488.9 423.5 486.1 419.0 486.0 424.3zM496.8 423.5 494.2 419.2 494.0 424.2zM504.6 423.6 502.4 419.4 502.0 424.1zM512.5 423.6 510.5 419.6 510.0 424.0zM520.4 423.6 518.6 419.7 518.0 423.9zM528.3 423.5 526.5 419.8 525.9 423.8zM536.2 423.5 534.5 419.8 533.9 423.8zM544.1 423.4 542.5 419.9 541.9 423.7zM552.0 423.4 550.4 419.9 549.8 423.6zM559.9 423.3 558.4 419.9 557.8 423.6zM567.8 423.2 566.3 419.9 565.7 423.5zM107.5 431.1 106.3 428.4 105.8 431.3zM115.4 431.1 114.2 428.3 113.7 431.4zM123.4 431.2 122.0 428.2 121.5 431.5zM131.4 431.2 129.9 428.1 129.4 431.5zM139.4 431.3 137.7 428.0 137.3 431.6zM147.4 431.3 145.6 427.8 145.2 431.7zM155.4 431.3 153.5 427.7 153.1 431.8zM163.4 431.4 161.3 427.6 160.9 431.9zM171.3 431.4 169.1 427.5 168.8 432.0zM179.3 431.4 176.9 427.4 176.7 432.0zM187.3 431.4 184.8 427.4 184.6 432.1zM195.3 431.4 192.6 427.3 192.5 432.2zM203.2 431.4 200.4 427.2 200.4 432.3zM211.2 431.4 208.2 427.1 208.3 432.3zM219.2 431.4 216.0 427.0 216.2 432.4zM227.1 431.4 223.7 427.0 224.1 432.5zM235.1 431.3 231.4 427.0 232.1 432.6zM243.0 431.3 239.1 427.0 240.0 432.7zM251.0 431.3 246.8 426.9 247.9 432.8zM258.9 431.2 254.5 426.9 255.8 432.9zM266.9 431.2 262.2 426.9 263.7 433.0zM274.8 431.1 269.9 427.0 271.7 433.1zM282.6 431.0 277.6 427.4 279.7 433.2zM290.4 431.0 285.2 427.7 287.8 433.3zM298.3 430.9 292.8 428.1 295.8 433.4zM306.1 430.8 300.5 428.4 303.8 433.5zM313.9 430.7 308.1 428.8 311.9 433.6zM321.8 430.7 315.8 429.1 319.9 433.7zM329.6 430.6 323.5 429.4 327.9 433.8zM337.5 430.6 331.5 429.6 335.9 433.8zM345.4 430.6 339.4 429.7 343.9 433.7zM353.2 430.6 347.4 429.9 351.9 433.7zM361.1 430.6 355.3 430.1 359.9 433.7zM369.0 430.6 363.3 430.3 367.9 433.7zM376.9 430.6 371.2 430.4 375.9 433.7zM384.8 430.6 379.1 430.6 383.8 433.7zM392.7 430.6 387.2 430.6 391.8 433.6zM400.7 430.7 395.4 430.3 399.6 433.5zM408.7 430.7 403.6 430.0 407.5 433.4zM416.7 430.8 411.9 429.7 415.3 433.3zM424.8 430.9 420.1 429.4 423.2 433.2zM432.8 430.9 428.3 429.1 431.0 433.1zM440.8 431.0 436.6 428.8 438.9 433.0zM448.8 431.1 444.9 428.4 446.7 432.8zM456.9 431.1 453.1 428.0 454.5 432.7zM464.9 431.2 461.3 427.7 462.4 432.6zM473.0 431.2 469.5 427.3 470.2 432.5zM481.0 431.3 477.8 426.9 478.0 432.3zM488.9 431.3 485.9 427.0 486.0 432.2zM496.7 431.3 494.1 427.2 494.0 432.1zM504.6 431.3 502.2 427.3 502.0 432.0zM512.5 431.3 510.4 427.5 510.0 431.9zM520.4 431.3 518.4 427.6 518.0 431.8zM528.3 431.3 526.4 427.7 526.0 431.7zM536.2 431.2 534.3 427.7 533.9 431.7zM544.1 431.2 542.3 427.7 541.9 431.6zM552.0 431.1 550.2 427.7 549.8 431.5zM559.9 431.0 558.1 427.7 557.8 431.5zM567.8 431.0 566.0 427.7 565.7 431.4zM107.4 438.9 106.2 436.4 105.8 439.1zM115.4 438.9 114.0 436.3 113.7 439.2zM123.4 439.0 121.9 436.2 121.6 439.3zM131.3 439.0 129.7 436.0 129.4 439.4zM139.3 439.0 137.6 435.9 137.3 439.5zM147.3 439.1 145.4 435.8 145.2 439.6zM155.3 439.1 153.3 435.7 153.1 439.7zM163.3 439.1 161.1 435.6 161.0 439.7zM171.3 439.1 168.9 435.5 168.9 439.8zM179.2 439.2 176.7 435.5 176.8 439.9zM187.2 439.2 184.6 435.4 184.7 440.0zM195.2 439.2 192.4 435.3 192.6 440.1zM203.1 439.2 200.2 435.3 200.5 440.1zM211.1 439.2 208.0 435.2 208.4 440.2zM219.1 439.2 215.8 435.2 216.3 440.3zM227.0 439.1 223.4 435.2 224.2 440.4zM234.9 439.1 231.1 435.2 232.2 440.5zM242.9 439.0 238.7 435.2 240.1 440.7zM250.8 439.0 246.4 435.2 248.0 440.8zM258.8 438.9 254.1 435.2 255.9 440.9zM266.7 438.8 261.7 435.2 263.9 441.0zM274.6 438.8 269.4 435.4 271.8 441.1zM282.4 438.7 277.0 435.7 279.9 441.2zM290.3 438.6 284.7 436.1 287.9 441.3zM298.1 438.6 292.3 436.4 296.0 441.4zM305.9 438.5 299.9 436.8 304.0 441.5zM313.8 438.4 307.6 437.1 312.0 441.6zM321.6 438.3 315.2 437.5 320.1 441.7zM329.4 438.3 323.0 437.7 328.1 441.7zM337.3 438.3 331.0 437.9 336.1 441.7zM345.2 438.3 339.0 438.0 344.0 441.7zM353.1 438.3 347.0 438.1 352.0 441.7zM361.0 438.3 354.9 438.2 360.0 441.7zM368.9 438.3 362.9 438.3 367.9 441.6zM376.8 438.3 370.9 438.4 375.9 441.6zM384.7 438.3 378.9 438.5 383.9 441.6zM392.7 438.4 386.9 438.5 391.8 441.5zM400.7 438.4 395.2 438.2 399.7 441.4zM408.7 438.5 403.4 437.9 407.5 441.3zM416.7 438.6 411.7 437.6 415.4 441.2zM424.8 438.6 419.9 437.3 423.2 441.1zM432.8 438.7 428.2 437.0 431.1 441.0zM440.8 438.8 436.4 436.7 438.9 440.8zM448.8 438.8 444.7 436.3 446.7 440.7zM456.9 438.9 452.9 436.0 454.6 440.6zM464.9 438.9 461.1 435.6 462.4 440.5zM472.9 439.0 469.4 435.2 470.3 440.3zM480.9 439.0 477.6 434.9 478.1 440.2zM488.8 439.1 485.8 435.0 486.1 440.1zM496.7 439.1 493.9 435.2 494.1 440.0zM504.6 439.1 502.0 435.3 502.1 439.9zM512.5 439.1 510.2 435.4 510.1 439.8zM520.4 439.1 518.2 435.5 518.0 439.7zM528.3 439.0 526.2 435.5 526.0 439.6zM536.2 439.0 534.1 435.6 534.0 439.5zM544.1 438.9 542.1 435.6 541.9 439.5zM552.0 438.9 550.0 435.6 549.9 439.4zM559.9 438.8 557.9 435.5 557.8 439.4zM567.9 438.7 565.8 435.5 565.8 439.3zM107.3 446.7 106.0 444.4 105.9 447.0zM115.3 446.7 113.8 444.3 113.7 447.1zM123.3 446.7 121.7 444.2 121.6 447.2zM131.3 446.8 129.5 444.1 129.5 447.3zM139.2 446.8 137.4 444.0 137.4 447.4zM147.2 446.8 145.2 443.8 145.2 447.4zM155.2 446.9 153.1 443.7 153.1 447.5zM163.2 446.9 160.9 443.6 161.0 447.6zM171.2 446.9 168.7 443.6 168.9 447.7zM179.1 446.9 176.5 443.5 176.8 447.8zM187.1 446.9 184.3 443.5 184.7 447.9zM195.1 446.9 192.2 443.4 192.7 448.0zM203.0 446.9 200.0 443.4 200.6 448.0zM211.0 446.9 207.8 443.3 208.5 448.1zM218.9 446.9 215.5 443.3 216.4 448.2zM226.9 446.9 223.1 443.4 224.3 448.3zM234.8 446.8 230.8 443.4 232.3 448.5zM242.7 446.7 238.4 443.4 240.2 448.6zM250.7 446.7 246.0 443.5 248.1 448.7zM258.6 446.6 253.6 443.5 256.1 448.8zM266.5 446.5 261.2 443.5 264.0 448.9zM274.4 446.4 268.8 443.7 272.0 449.1zM282.3 446.4 276.5 444.1 280.0 449.2zM290.1 446.3 284.1 444.4 288.1 449.3zM297.9 446.2 291.8 444.8 296.1 449.4zM305.7 446.2 299.4 445.2 304.2 449.5zM313.6 446.1 307.1 445.5 312.2 449.6zM321.4 446.0 314.7 445.9 320.2 449.6zM329.3 446.0 322.6 446.1 328.2 449.7zM337.2 446.0 330.6 446.1 336.2 449.7zM345.1 446.0 338.6 446.2 344.1 449.6zM353.0 446.0 346.6 446.3 352.1 449.6zM361.0 446.0 354.6 446.3 360.0 449.6zM368.9 446.1 362.6 446.3 368.0 449.6zM376.8 446.1 370.6 446.4 376.0 449.5zM384.7 446.1 378.6 446.4 383.9 449.5zM392.7 446.1 386.7 446.4 391.8 449.4zM400.7 446.2 395.0 446.1 399.7 449.3zM408.7 446.3 403.2 445.8 407.5 449.2zM416.7 446.3 411.5 445.5 415.4 449.1zM424.7 446.4 419.7 445.2 423.2 449.0zM432.8 446.5 428.0 444.9 431.1 448.8zM440.8 446.5 436.3 444.5 438.9 448.7zM448.8 446.6 444.5 444.2 446.8 448.6zM456.8 446.7 452.8 443.9 454.6 448.5zM464.8 446.7 461.0 443.6 462.5 448.3zM472.9 446.8 469.2 443.3 470.3 448.2zM480.9 446.8 477.4 442.9 478.2 448.1zM488.8 446.8 485.6 443.0 486.2 448.0zM496.7 446.9 493.7 443.2 494.2 447.9zM504.5 446.9 501.9 443.3 502.1 447.7zM512.4 446.9 510.0 443.4 510.1 447.6zM520.3 446.9 518.1 443.5 518.1 447.5zM528.2 446.8 526.0 443.5 526.1 447.5zM536.2 446.7 534.0 443.5 534.0 447.4zM544.1 446.7 541.9 443.5 542.0 447.4zM552.0 446.6 549.8 443.5 549.9 447.3zM559.9 446.5 557.7 443.4 557.9 447.3zM567.9 446.4 565.6 443.4 565.8 447.2zM107.2 454.4 105.8 452.5 105.9 454.9zM115.2 454.5 113.7 452.4 113.8 455.0zM123.2 454.5 121.5 452.3 121.7 455.1zM131.2 454.5 129.3 452.1 129.5 455.1zM139.2 454.6 137.2 452.0 137.4 455.2zM147.1 454.6 145.0 451.9 145.3 455.3zM155.1 454.6 152.9 451.7 153.2 455.4zM163.1 454.7 160.7 451.6 161.1 455.5zM171.1 454.7 168.5 451.6 169.0 455.6zM179.0 454.7 176.3 451.6 176.9 455.7zM187.0 454.7 184.1 451.6 184.8 455.8zM195.0 454.7 191.9 451.5 192.7 455.8zM202.9 454.7 199.7 451.5 200.6 455.9zM210.9 454.7 207.6 451.5 208.6 456.0zM218.8 454.7 215.3 451.5 216.5 456.1zM226.7 454.6 222.9 451.6 224.4 456.2zM234.7 454.5 230.4 451.6 232.4 456.4zM242.6 454.4 238.0 451.7 240.3 456.5zM250.5 454.4 245.6 451.8 248.3 456.7zM258.4 454.3 253.1 451.8 256.2 456.8zM266.4 454.2 260.7 451.9 264.2 456.9zM274.3 454.1 268.3 452.1 272.2 457.0zM282.1 454.0 276.0 452.4 280.2 457.1zM289.9 454.0 283.6 452.8 288.2 457.2zM297.7 453.9 291.3 453.2 296.3 457.3zM305.6 453.8 298.9 453.5 304.3 457.4zM313.4 453.7 306.6 453.9 312.4 457.5zM321.2 453.7 314.2 454.2 320.4 457.6zM329.1 453.6 322.1 454.4 328.4 457.6zM337.1 453.7 330.1 454.4 336.3 457.6zM345.0 453.7 338.2 454.4 344.3 457.6zM352.9 453.7 346.2 454.4 352.2 457.5zM360.9 453.8 354.3 454.4 360.1 457.5zM368.8 453.8 362.3 454.4 368.1 457.5zM376.7 453.8 370.3 454.4 376.0 457.4zM384.7 453.8 378.4 454.4 383.9 457.4zM392.6 453.9 386.5 454.3 391.9 457.3zM400.7 453.9 394.7 454.0 399.7 457.2zM408.7 454.0 403.0 453.7 407.6 457.1zM416.7 454.1 411.3 453.4 415.4 457.0zM424.7 454.2 419.6 453.1 423.3 456.8zM432.7 454.2 427.8 452.8 431.1 456.7zM440.8 454.3 436.1 452.4 439.0 456.6zM448.8 454.4 444.4 452.1 446.8 456.4zM456.8 454.4 452.6 451.8 454.7 456.3zM464.8 454.5 460.8 451.6 462.5 456.2zM472.8 454.5 469.0 451.3 470.4 456.1zM480.8 454.6 477.3 451.0 478.3 455.9zM488.7 454.6 485.4 451.1 486.2 455.8zM496.6 454.6 493.6 451.2 494.2 455.7zM504.5 454.6 501.7 451.3 502.2 455.6zM512.4 454.7 509.9 451.4 510.2 455.5zM520.3 454.6 517.9 451.4 518.2 455.4zM528.2 454.6 525.8 451.4 526.1 455.4zM536.1 454.5 533.8 451.4 534.1 455.3zM544.1 454.4 541.7 451.4 542.0 455.3zM552.0 454.4 549.6 451.4 550.0 455.2zM559.9 454.3 557.4 451.3 557.9 455.2zM567.9 454.2 565.3 451.3 565.8 455.1zM107.1 462.2 105.6 460.5 105.9 462.8zM115.1 462.2 113.4 460.4 113.8 462.8zM123.1 462.3 121.3 460.3 121.7 462.9zM131.1 462.3 129.1 460.2 129.6 463.0zM139.1 462.3 137.0 460.1 137.5 463.1zM147.1 462.4 144.8 459.9 145.3 463.2zM155.0 462.4 152.7 459.8 153.2 463.3zM163.0 462.4 160.5 459.7 161.1 463.4zM171.0 462.4 168.3 459.7 169.0 463.4zM178.9 462.5 176.1 459.7 177.0 463.5zM186.9 462.5 183.9 459.7 184.9 463.6zM194.8 462.5 191.8 459.7 192.8 463.7zM202.8 462.5 199.6 459.7 200.7 463.8zM210.7 462.5 207.4 459.7 208.6 463.9zM218.7 462.5 215.1 459.7 216.6 464.0zM226.6 462.4 222.7 459.8 224.5 464.1zM234.5 462.3 230.3 459.9 232.5 464.2zM242.5 462.2 237.9 459.9 240.4 464.4zM250.4 462.2 245.5 460.0 248.4 464.5zM258.3 462.1 253.1 460.1 256.3 464.6zM266.2 462.0 260.7 460.1 264.3 464.7zM274.1 461.9 268.3 460.3 272.3 464.9zM282.0 461.9 276.0 460.6 280.3 464.9zM289.8 461.8 283.7 460.9 288.3 465.0zM297.7 461.8 291.4 461.1 296.3 465.1zM305.5 461.7 299.1 461.4 304.3 465.2zM313.4 461.6 306.8 461.7 312.4 465.3zM321.3 461.6 314.5 462.0 320.4 465.4zM329.2 461.6 322.4 462.1 328.4 465.4zM337.1 461.6 330.4 462.1 336.3 465.4zM345.0 461.6 338.5 462.1 344.2 465.3zM353.0 461.6 346.5 462.1 352.2 465.3zM360.9 461.7 354.5 462.1 360.1 465.2zM368.9 461.7 362.6 462.0 368.0 465.2zM376.8 461.7 370.6 462.0 375.9 465.2zM384.8 461.7 378.7 462.0 383.9 465.1zM392.7 461.8 386.8 461.9 391.8 465.1zM400.7 461.8 395.0 461.6 399.7 465.0zM408.7 461.9 403.2 461.4 407.5 464.8zM416.7 462.0 411.4 461.2 415.4 464.7zM424.7 462.0 419.7 460.9 423.3 464.6zM432.7 462.1 427.9 460.6 431.1 464.5zM440.7 462.2 436.2 460.4 439.0 464.4zM448.7 462.2 444.4 460.1 446.9 464.3zM456.7 462.2 452.6 459.9 454.8 464.2zM464.7 462.3 460.7 459.6 462.6 464.1zM472.7 462.3 468.9 459.4 470.5 463.9zM480.7 462.3 477.1 459.2 478.4 463.8zM488.6 462.4 485.2 459.2 486.3 463.7zM496.6 462.4 493.3 459.3 494.3 463.6zM504.5 462.4 501.4 459.3 502.3 463.5zM512.4 462.4 509.5 459.4 510.3 463.4zM520.3 462.3 517.6 459.4 518.2 463.3zM528.2 462.3 525.5 459.4 526.2 463.3zM536.1 462.2 533.4 459.3 534.1 463.2zM544.1 462.1 541.3 459.3 542.0 463.2zM552.0 462.1 549.2 459.2 550.0 463.1zM560.0 462.0 557.1 459.1 557.9 463.1zM567.9 461.9 565.0 459.0 565.8 463.0zM107.0 469.9 105.3 468.5 106.0 470.7zM115.0 470.0 113.2 468.4 113.8 470.7zM123.0 470.0 121.0 468.3 121.7 470.8zM131.0 470.1 128.9 468.2 129.6 470.9zM139.0 470.1 136.8 468.1 137.5 471.0zM147.0 470.1 144.6 468.0 145.4 471.1zM154.9 470.2 152.5 467.9 153.3 471.2zM162.9 470.2 160.3 467.8 161.2 471.2zM170.9 470.2 168.1 467.8 169.1 471.3zM178.8 470.2 176.0 467.9 177.0 471.4zM186.8 470.2 183.8 467.9 185.0 471.5zM194.7 470.2 191.6 467.9 192.9 471.6zM202.7 470.2 199.4 467.9 200.8 471.6zM210.6 470.2 207.2 467.9 208.8 471.7zM218.6 470.2 215.0 467.9 216.7 471.8zM226.5 470.2 222.6 468.0 224.6 471.9zM234.4 470.1 230.2 468.1 232.6 472.1zM242.3 470.0 237.8 468.1 240.5 472.2zM250.3 470.0 245.5 468.2 248.5 472.3zM258.2 469.9 253.1 468.3 256.4 472.4zM266.1 469.8 260.7 468.3 264.4 472.6zM274.0 469.8 268.4 468.4 272.3 472.7zM281.9 469.7 276.1 468.7 280.3 472.7zM289.8 469.7 283.9 468.9 288.3 472.8zM297.6 469.6 291.6 469.1 296.3 472.9zM305.5 469.6 299.3 469.3 304.3 473.0zM313.4 469.5 307.1 469.5 312.3 473.0zM321.3 469.5 314.8 469.7 320.3 473.1zM329.2 469.5 322.7 469.8 328.3 473.1zM337.1 469.5 330.7 469.8 336.2 473.1zM345.1 469.5 338.8 469.8 344.2 473.0zM353.0 469.6 346.8 469.7 352.1 473.0zM361.0 469.6 354.9 469.7 360.0 473.0zM368.9 469.6 362.9 469.6 368.0 472.9zM376.9 469.6 370.9 469.6 375.9 472.9zM384.8 469.6 379.0 469.5 383.8 472.9zM392.8 469.7 387.0 469.5 391.7 472.8zM400.8 469.7 395.2 469.3 399.6 472.7zM408.8 469.8 403.4 469.1 407.5 472.6zM416.7 469.8 411.6 468.9 415.4 472.5zM424.7 469.9 419.8 468.7 423.3 472.4zM432.7 469.9 428.0 468.5 431.2 472.3zM440.7 470.0 436.2 468.3 439.1 472.2zM448.7 470.0 444.4 468.1 446.9 472.1zM456.7 470.1 452.5 467.9 454.8 472.0zM464.7 470.1 460.6 467.7 462.7 471.9zM472.7 470.1 468.8 467.5 470.6 471.8zM480.6 470.1 476.9 467.4 478.5 471.7zM488.6 470.1 485.0 467.4 486.5 471.6zM496.5 470.1 493.0 467.4 494.4 471.5zM504.4 470.1 501.1 467.4 502.4 471.5zM512.3 470.1 509.2 467.4 510.3 471.4zM520.2 470.0 517.1 467.4 518.3 471.3zM528.2 470.0 525.1 467.3 526.2 471.2zM536.1 469.9 533.0 467.2 534.1 471.2zM544.1 469.8 540.9 467.1 542.1 471.1zM552.0 469.8 548.8 467.0 550.0 471.1zM560.0 469.7 556.7 466.9 557.9 471.0zM568.0 469.6 564.7 466.7 565.8 471.0zM106.9 477.7 105.0 476.6 106.0 478.5zM114.9 477.7 112.9 476.5 113.9 478.6zM122.9 477.8 120.8 476.4 121.8 478.7zM130.9 477.8 128.7 476.3 129.7 478.8zM138.9 477.9 136.5 476.2 137.6 478.9zM146.9 477.9 144.4 476.1 145.5 479.0zM154.8 477.9 152.3 476.0 153.4 479.0zM162.8 478.0 160.1 475.9 161.3 479.1zM170.8 478.0 167.9 476.0 169.2 479.2zM178.7 478.0 175.8 476.0 177.1 479.3zM186.6 478.0 183.6 476.0 185.1 479.4zM194.6 478.0 191.4 476.1 193.0 479.4zM202.5 478.0 199.2 476.1 200.9 479.5zM210.5 478.0 207.0 476.1 208.9 479.6zM218.4 478.0 214.8 476.2 216.8 479.7zM226.3 477.9 222.4 476.2 224.8 479.8zM234.3 477.9 230.1 476.3 232.7 479.9zM242.2 477.8 237.7 476.4 240.7 480.0zM250.1 477.8 245.4 476.4 248.6 480.2zM258.1 477.7 253.1 476.5 256.5 480.3zM266.0 477.7 260.7 476.5 264.5 480.4zM273.9 477.6 268.4 476.6 272.4 480.5zM281.8 477.6 276.2 476.8 280.4 480.5zM289.7 477.5 284.0 476.9 288.4 480.6zM297.6 477.5 291.8 477.0 296.4 480.6zM305.5 477.5 299.5 477.2 304.4 480.7zM313.4 477.4 307.3 477.3 312.3 480.8zM321.3 477.4 315.1 477.5 320.3 480.8zM329.2 477.4 323.0 477.5 328.3 480.8zM337.2 477.4 331.1 477.5 336.2 480.8zM345.1 477.4 339.1 477.4 344.1 480.8zM353.1 477.5 347.1 477.4 352.0 480.7zM361.0 477.5 355.2 477.3 360.0 480.7zM369.0 477.5 363.2 477.2 367.9 480.7zM376.9 477.5 371.2 477.2 375.8 480.6zM384.9 477.6 379.3 477.1 383.7 480.6zM392.9 477.6 387.3 477.0 391.7 480.5zM400.8 477.6 395.5 476.9 399.6 480.4zM408.8 477.7 403.7 476.8 407.5 480.4zM416.8 477.7 411.8 476.7 415.4 480.3zM424.7 477.8 420.0 476.5 423.3 480.2zM432.7 477.8 428.1 476.4 431.2 480.1zM440.7 477.8 436.3 476.3 439.1 480.0zM448.7 477.9 444.4 476.1 447.0 479.9zM456.6 477.9 452.5 476.0 454.9 479.8zM464.6 477.9 460.6 475.8 462.8 479.8zM472.6 477.9 468.6 475.7 470.7 479.7zM480.5 477.9 476.7 475.6 478.6 479.6zM488.5 477.8 484.7 475.5 486.6 479.5zM496.4 477.8 492.7 475.5 494.5 479.5zM504.3 477.8 500.8 475.5 502.5 479.4zM512.3 477.8 508.8 475.4 510.4 479.3zM520.2 477.7 516.8 475.4 518.3 479.2zM528.2 477.7 524.7 475.2 526.3 479.2zM536.1 477.6 532.6 475.1 534.2 479.1zM544.1 477.5 540.5 474.9 542.1 479.1zM552.1 477.5 548.5 474.8 550.0 479.0zM560.0 477.4 556.4 474.6 557.9 478.9zM568.0 477.3 564.3 474.4 565.8 478.9zM106.8 485.4 104.8 484.6 106.0 486.4zM114.8 485.5 112.7 484.5 113.9 486.5zM122.8 485.5 120.5 484.4 121.8 486.6zM130.8 485.6 128.4 484.3 129.7 486.7zM138.8 485.6 136.3 484.3 137.6 486.8zM146.7 485.7 144.2 484.2 145.5 486.8zM154.7 485.7 152.1 484.1 153.4 486.9zM162.7 485.7 159.9 484.1 161.3 487.0zM170.6 485.7 167.7 484.1 169.3 487.1zM178.6 485.8 175.6 484.2 177.2 487.2zM186.5 485.8 183.4 484.2 185.2 487.2zM194.4 485.8 191.2 484.3 193.1 487.3zM202.4 485.8 199.0 484.3 201.0 487.4zM210.3 485.8 206.9 484.4 209.0 487.5zM218.3 485.8 214.6 484.4 216.9 487.6zM226.2 485.7 222.3 484.5 224.9 487.7zM234.1 485.7 230.0 484.6 232.8 487.8zM242.1 485.6 237.7 484.6 240.8 487.9zM250.0 485.6 245.4 484.7 248.7 488.0zM257.9 485.5 253.0 484.7 256.7 488.1zM265.9 485.5 260.7 484.7 264.6 488.2zM273.8 485.4 268.5 484.8 272.5 488.3zM281.7 485.4 276.3 484.9 280.5 488.3zM289.6 485.4 284.1 484.9 288.5 488.4zM297.6 485.4 291.9 485.0 296.4 488.4zM305.5 485.4 299.8 485.1 304.4 488.5zM313.4 485.3 307.6 485.1 312.3 488.5zM321.3 485.3 315.4 485.2 320.3 488.5zM329.3 485.3 323.3 485.2 328.2 488.6zM337.2 485.3 331.4 485.1 336.1 488.5zM345.2 485.4 339.4 485.1 344.1 488.5zM353.1 485.4 347.4 485.0 352.0 488.5zM361.1 485.4 355.5 484.9 359.9 488.4zM369.1 485.4 363.5 484.8 367.8 488.4zM377.0 485.5 371.6 484.8 375.7 488.4zM385.0 485.5 379.6 484.7 383.7 488.3zM392.9 485.5 387.6 484.6 391.6 488.3zM400.9 485.5 395.8 484.6 399.5 488.2zM408.8 485.6 403.9 484.5 407.4 488.1zM416.8 485.6 412.0 484.4 415.4 488.0zM424.7 485.6 420.1 484.4 423.3 488.0zM432.7 485.6 428.2 484.3 431.2 487.9zM440.7 485.7 436.3 484.2 439.1 487.8zM448.6 485.7 444.4 484.1 447.1 487.7zM456.6 485.7 452.4 484.0 455.0 487.7zM464.5 485.6 460.5 484.0 462.9 487.6zM472.5 485.6 468.5 483.9 470.8 487.5zM480.4 485.6 476.5 483.8 478.8 487.5zM488.4 485.6 484.5 483.7 486.7 487.4zM496.3 485.6 492.5 483.6 494.6 487.4zM504.3 485.5 500.4 483.6 502.6 487.3zM512.2 485.5 508.4 483.5 510.5 487.2zM520.2 485.4 516.4 483.3 518.4 487.2zM528.2 485.4 524.3 483.2 526.3 487.1zM536.1 485.3 532.2 483.0 534.2 487.1zM544.1 485.2 540.2 482.8 542.1 487.0zM552.1 485.2 548.1 482.5 550.0 486.9zM560.1 485.1 556.1 482.3 557.9 486.9zM568.1 485.1 564.0 482.1 565.8 486.8zM106.8 493.2 104.5 492.6 106.1 494.3zM114.7 493.2 112.4 492.6 114.0 494.4zM122.7 493.3 120.3 492.5 121.9 494.5zM130.7 493.3 128.2 492.4 129.8 494.6zM138.7 493.4 136.1 492.4 137.7 494.6zM146.6 493.4 144.0 492.3 145.6 494.7zM154.6 493.5 151.9 492.3 153.5 494.8zM162.6 493.5 159.7 492.3 161.4 494.9zM170.5 493.5 167.5 492.3 169.4 494.9zM178.4 493.5 175.4 492.4 177.3 495.0zM186.4 493.5 183.2 492.5 185.3 495.1zM194.3 493.5 191.0 492.5 193.2 495.2zM202.2 493.6 198.8 492.6 201.1 495.3zM210.2 493.6 206.7 492.6 209.1 495.3zM218.1 493.6 214.5 492.7 217.0 495.4zM226.0 493.5 222.2 492.8 225.0 495.5zM234.0 493.5 229.9 492.8 232.9 495.6zM241.9 493.4 237.6 492.9 240.9 495.7zM249.9 493.4 245.3 492.9 248.8 495.8zM257.8 493.4 253.0 492.9 256.8 495.9zM265.7 493.3 260.7 493.0 264.7 496.0zM273.7 493.3 268.5 493.0 272.6 496.1zM281.6 493.3 276.4 493.0 280.6 496.1zM289.6 493.3 284.2 493.0 288.5 496.2zM297.5 493.3 292.1 492.9 296.4 496.2zM305.5 493.2 300.0 492.9 304.4 496.2zM313.4 493.2 307.8 492.9 312.3 496.2zM321.4 493.2 315.7 492.9 320.2 496.3zM329.3 493.2 323.6 492.9 328.2 496.3zM337.3 493.3 331.7 492.8 336.1 496.3zM345.2 493.3 339.7 492.7 344.0 496.2zM353.2 493.3 347.8 492.6 351.9 496.2zM361.2 493.3 355.8 492.5 359.8 496.2zM369.1 493.3 363.8 492.4 367.8 496.1zM377.1 493.4 371.9 492.4 375.7 496.1zM385.1 493.4 379.9 492.3 383.6 496.0zM393.0 493.4 387.9 492.2 391.5 496.0zM400.9 493.4 396.0 492.2 399.5 495.9zM408.9 493.4 404.1 492.2 407.4 495.9zM416.8 493.5 412.2 492.2 415.4 495.8zM424.8 493.5 420.3 492.2 423.3 495.7zM432.7 493.5 428.3 492.2 431.2 495.7zM440.6 493.5 436.4 492.1 439.2 495.6zM448.6 493.5 444.4 492.1 447.1 495.5zM456.5 493.5 452.4 492.1 455.1 495.5zM464.4 493.4 460.4 492.1 463.0 495.5zM472.4 493.4 468.3 492.0 471.0 495.4zM480.3 493.4 476.3 492.0 478.9 495.4zM488.3 493.3 484.2 491.9 486.8 495.3zM496.2 493.3 492.2 491.8 494.7 495.3zM504.2 493.2 500.1 491.6 502.7 495.2zM512.2 493.2 508.1 491.5 510.6 495.2zM520.1 493.1 516.0 491.3 518.5 495.1zM528.1 493.1 524.0 491.1 526.4 495.1zM536.1 493.0 531.9 490.8 534.2 495.0zM544.1 493.0 539.8 490.6 542.1 494.9zM552.1 492.9 547.8 490.3 550.0 494.9zM560.1 492.8 555.7 490.0 557.9 494.8zM568.1 492.8 563.7 489.8 565.8 494.7zM106.7 501.0 104.4 500.6 106.1 502.2zM114.6 501.0 112.3 500.6 114.0 502.3zM122.6 501.1 120.1 500.6 121.9 502.3zM130.6 501.1 128.0 500.5 129.8 502.4zM138.5 501.2 135.9 500.5 137.8 502.5zM146.5 501.2 143.8 500.5 145.7 502.6zM154.5 501.2 151.7 500.5 153.6 502.7zM162.4 501.3 159.5 500.5 161.5 502.7zM170.4 501.3 167.4 500.5 169.5 502.8zM178.3 501.3 175.2 500.6 177.4 502.9zM186.2 501.3 183.1 500.7 185.4 503.0zM194.2 501.3 190.9 500.7 193.3 503.0zM202.1 501.4 198.8 500.8 201.2 503.1zM210.0 501.4 206.6 500.8 209.2 503.2zM218.0 501.4 214.4 500.9 217.1 503.2zM225.9 501.3 222.2 500.9 225.1 503.3zM233.9 501.3 229.9 500.9 233.0 503.4zM241.8 501.3 237.6 500.9 240.9 503.5zM249.8 501.2 245.3 500.9 248.9 503.6zM257.7 501.2 253.1 500.9 256.8 503.7zM265.7 501.1 260.8 500.9 264.7 503.8zM273.6 501.1 268.6 500.9 272.7 503.9zM281.6 501.1 276.5 500.9 280.6 503.9zM289.5 501.1 284.4 500.9 288.5 503.9zM297.5 501.1 292.3 500.8 296.5 504.0zM305.4 501.1 300.2 500.8 304.4 504.0zM313.4 501.1 308.1 500.8 312.3 504.0zM321.3 501.1 316.0 500.7 320.2 504.0zM329.3 501.1 323.9 500.7 328.2 504.0zM337.3 501.2 331.9 500.6 336.1 504.0zM345.2 501.2 340.0 500.5 344.0 504.0zM353.2 501.2 348.0 500.5 351.9 503.9zM361.1 501.2 356.0 500.4 359.9 503.9zM369.1 501.2 364.1 500.3 367.8 503.9zM377.1 501.3 372.1 500.3 375.7 503.8zM385.0 501.3 380.1 500.2 383.6 503.8zM393.0 501.3 388.1 500.1 391.6 503.8zM400.9 501.3 396.2 500.2 399.5 503.7zM408.8 501.3 404.3 500.2 407.5 503.6zM416.8 501.3 412.3 500.2 415.4 503.6zM424.7 501.3 420.4 500.3 423.4 503.5zM432.6 501.3 428.4 500.3 431.3 503.5zM440.5 501.3 436.5 500.3 439.3 503.4zM448.5 501.3 444.4 500.3 447.2 503.4zM456.4 501.3 452.3 500.3 455.2 503.4zM464.4 501.2 460.2 500.2 463.1 503.3zM472.3 501.1 468.1 500.2 471.1 503.3zM480.2 501.1 475.9 500.1 479.0 503.3zM488.2 501.0 483.8 500.0 486.9 503.3zM496.2 501.0 491.7 499.8 494.8 503.2zM504.2 500.9 499.7 499.7 502.7 503.2zM512.1 500.9 507.6 499.5 510.6 503.1zM520.1 500.8 515.5 499.3 518.5 503.1zM528.1 500.7 523.5 499.0 526.4 503.0zM536.2 500.7 531.4 498.7 534.3 503.0zM544.2 500.7 539.4 498.4 542.1 502.9zM552.2 500.6 547.4 498.1 550.0 502.8zM560.2 500.6 555.4 497.8 557.9 502.7zM568.2 500.5 563.4 497.5 565.8 502.6zM106.6 508.8 104.2 508.6 106.1 510.0zM114.5 508.8 112.1 508.6 114.1 510.1zM122.5 508.9 120.0 508.7 122.0 510.2zM130.5 508.9 127.9 508.7 129.9 510.3zM138.4 508.9 135.8 508.7 137.8 510.4zM146.4 509.0 143.6 508.7 145.8 510.4zM154.3 509.0 151.5 508.7 153.7 510.5zM162.3 509.0 159.4 508.7 161.6 510.6zM170.2 509.1 167.2 508.8 169.6 510.7zM178.2 509.1 175.1 508.8 177.5 510.7zM186.1 509.1 183.0 508.9 185.5 510.8zM194.0 509.1 190.8 508.9 193.4 510.9zM202.0 509.2 198.7 509.0 201.3 510.9zM209.9 509.2 206.6 509.0 209.3 511.0zM217.9 509.2 214.4 509.1 217.2 511.1zM225.8 509.2 222.1 509.1 225.2 511.2zM233.8 509.1 229.9 509.0 233.1 511.3zM241.7 509.1 237.6 509.0 241.0 511.3zM249.7 509.1 245.4 509.0 248.9 511.4zM257.7 509.0 253.1 508.9 256.9 511.5zM265.6 509.0 260.8 508.9 264.8 511.6zM273.6 509.0 268.7 508.9 272.7 511.7zM281.5 509.0 276.6 508.8 280.6 511.7zM289.5 509.0 284.5 508.8 288.6 511.7zM297.5 509.0 292.4 508.7 296.5 511.7zM305.4 509.0 300.4 508.7 304.4 511.7zM313.4 509.0 308.3 508.6 312.3 511.8zM321.3 509.0 316.2 508.5 320.2 511.8zM329.3 509.0 324.2 508.5 328.2 511.8zM337.3 509.1 332.2 508.4 336.1 511.7zM345.2 509.1 340.2 508.4 344.0 511.7zM353.2 509.1 348.2 508.3 351.9 511.7zM361.1 509.1 356.3 508.3 359.9 511.7zM369.1 509.1 364.3 508.2 367.8 511.6zM377.0 509.1 372.3 508.2 375.7 511.6zM385.0 509.1 380.3 508.1 383.7 511.6zM392.9 509.2 388.3 508.1 391.6 511.5zM400.9 509.2 396.4 508.1 399.6 511.5zM408.8 509.2 404.4 508.2 407.5 511.4zM416.7 509.2 412.4 508.3 415.5 511.4zM424.6 509.2 420.5 508.4 423.5 511.3zM432.5 509.2 428.5 508.4 431.4 511.3zM440.4 509.2 436.5 508.5 439.4 511.2zM448.4 509.1 444.4 508.5 447.4 511.2zM456.3 509.0 452.2 508.4 455.3 511.2zM464.3 509.0 460.0 508.4 463.2 511.2zM472.2 508.9 467.8 508.3 471.2 511.2zM480.2 508.8 475.6 508.2 479.1 511.2zM488.2 508.7 483.4 508.0 487.0 511.2zM496.1 508.7 491.3 507.8 494.9 511.2zM504.1 508.6 499.2 507.7 502.8 511.2zM512.1 508.5 507.0 507.5 510.7 511.1zM520.1 508.5 515.0 507.2 518.6 511.1zM528.1 508.4 523.0 506.9 526.4 511.0zM536.2 508.4 531.0 506.5 534.3 510.9zM544.2 508.3 539.0 506.2 542.2 510.8zM552.2 508.3 547.1 505.9 550.0 510.7zM560.2 508.3 555.1 505.6 557.9 510.6zM568.2 508.3 563.2 505.3 565.8 510.5zM106.5 516.5 104.1 516.6 106.2 517.9zM114.5 516.6 112.0 516.7 114.1 518.0zM122.4 516.6 119.9 516.7 122.0 518.1zM130.3 516.7 127.7 516.8 130.0 518.1zM138.3 516.7 135.6 516.8 137.9 518.2zM146.2 516.8 143.5 516.9 145.9 518.3zM154.2 516.8 151.4 516.9 153.8 518.4zM162.1 516.8 159.2 517.0 161.7 518.4zM170.1 516.9 167.1 517.0 169.7 518.5zM178.0 516.9 175.0 517.1 177.6 518.6zM186.0 516.9 182.9 517.1 185.6 518.6zM193.9 516.9 190.8 517.2 193.5 518.7zM201.8 517.0 198.6 517.2 201.5 518.8zM209.8 517.0 206.5 517.3 209.4 518.8zM217.7 517.0 214.4 517.3 217.3 518.9zM225.7 517.0 222.1 517.2 225.2 519.0zM233.7 517.0 229.9 517.1 233.2 519.1zM241.6 516.9 237.6 517.1 241.1 519.2zM249.6 516.9 245.4 517.0 249.0 519.2zM257.6 516.9 253.1 517.0 256.9 519.3zM265.6 516.8 260.9 516.9 264.8 519.4zM273.5 516.8 268.7 516.8 272.7 519.5zM281.5 516.8 276.7 516.7 280.7 519.5zM289.5 516.9 284.6 516.7 288.6 519.5zM297.4 516.9 292.6 516.6 296.5 519.5zM305.4 516.9 300.6 516.5 304.4 519.5zM313.4 516.9 308.5 516.4 312.3 519.5zM321.3 516.9 316.5 516.4 320.2 519.5zM329.3 516.9 324.4 516.3 328.2 519.5zM337.3 516.9 332.5 516.3 336.1 519.5zM345.2 517.0 340.5 516.2 344.0 519.5zM353.2 517.0 348.5 516.2 352.0 519.4zM361.1 517.0 356.5 516.2 359.9 519.4zM369.1 517.0 364.5 516.1 367.8 519.4zM377.0 517.0 372.5 516.1 375.8 519.3zM385.0 517.0 380.5 516.0 383.7 519.3zM392.9 517.0 388.5 516.0 391.6 519.3zM400.8 517.0 396.5 516.1 399.6 519.2zM408.7 517.0 404.5 516.2 407.6 519.2zM416.6 517.0 412.5 516.3 415.6 519.2zM424.5 517.0 420.5 516.5 423.6 519.1zM432.4 517.0 428.5 516.6 431.5 519.1zM440.3 517.0 436.5 516.7 439.5 519.0zM448.3 517.0 444.4 516.7 447.5 519.0zM456.2 516.8 452.1 516.6 455.4 519.1zM464.2 516.7 459.8 516.5 463.3 519.1zM472.1 516.6 467.5 516.4 471.3 519.1zM480.1 516.5 475.2 516.3 479.2 519.2zM488.1 516.4 483.0 516.1 487.1 519.2zM496.1 516.3 490.8 515.9 495.0 519.1zM504.1 516.2 498.7 515.6 502.9 519.1zM512.1 516.2 506.5 515.4 510.7 519.1zM520.1 516.1 514.4 515.1 518.6 519.1zM528.1 516.1 522.5 514.7 526.5 519.0zM536.2 516.1 530.5 514.4 534.3 518.9zM544.2 516.0 538.6 514.0 542.2 518.8zM552.2 516.0 546.7 513.7 550.0 518.7zM560.3 516.0 554.9 513.3 557.9 518.5zM568.3 516.0 563.0 513.0 565.7 518.4zM106.4 524.3 104.0 524.6 106.2 525.7zM114.4 524.4 111.9 524.7 114.1 525.8zM122.3 524.4 119.7 524.8 122.1 525.9zM130.2 524.5 127.6 524.9 130.0 526.0zM138.2 524.5 135.5 525.0 138.0 526.1zM146.1 524.6 143.4 525.1 145.9 526.1zM154.1 524.6 151.2 525.1 153.9 526.2zM162.0 524.6 159.1 525.2 161.8 526.3zM169.9 524.7 167.0 525.2 169.8 526.4zM177.9 524.7 174.9 525.3 177.7 526.4zM185.8 524.7 182.8 525.3 185.7 526.5zM193.8 524.8 190.7 525.4 193.6 526.5zM201.7 524.8 198.6 525.4 201.5 526.6zM209.7 524.8 206.5 525.5 209.5 526.6zM217.6 524.8 214.4 525.4 217.4 526.7zM225.6 524.8 222.1 525.3 225.3 526.8zM233.6 524.8 229.9 525.2 233.2 526.9zM241.6 524.8 237.7 525.1 241.1 527.0zM249.5 524.7 245.4 525.0 249.0 527.0zM257.5 524.7 253.2 525.0 256.9 527.1zM265.5 524.7 261.0 524.9 264.9 527.2zM273.5 524.7 268.8 524.8 272.8 527.2zM281.5 524.7 276.8 524.7 280.7 527.3zM289.4 524.7 284.8 524.6 288.6 527.3zM297.4 524.7 292.8 524.5 296.5 527.3zM305.4 524.8 300.8 524.4 304.4 527.3zM313.4 524.8 308.7 524.3 312.3 527.3zM321.3 524.8 316.7 524.2 320.2 527.2zM329.3 524.8 324.7 524.1 328.2 527.2zM337.2 524.8 332.7 524.1 336.1 527.2zM345.2 524.9 340.7 524.1 344.0 527.2zM353.1 524.9 348.7 524.1 352.0 527.2zM361.1 524.9 356.7 524.1 359.9 527.2zM369.0 524.9 364.7 524.0 367.8 527.1zM377.0 524.9 372.7 524.0 375.8 527.1zM384.9 524.9 380.7 524.0 383.7 527.1zM392.9 524.9 388.7 524.0 391.7 527.0zM400.8 524.9 396.7 524.1 399.7 527.0zM408.7 524.9 404.7 524.3 407.7 527.0zM416.6 524.9 412.7 524.4 415.7 527.0zM424.5 524.9 420.6 524.5 423.6 526.9zM432.3 524.9 428.6 524.7 431.6 526.9zM440.2 524.8 436.6 524.8 439.6 526.8zM448.2 524.8 444.5 524.9 447.6 526.8zM456.1 524.6 452.1 524.8 455.5 526.9zM464.1 524.5 459.7 524.6 463.4 527.0zM472.1 524.4 467.3 524.5 471.4 527.0zM480.0 524.2 474.9 524.4 479.3 527.1zM488.0 524.1 482.7 524.1 487.2 527.1zM496.1 524.0 490.4 523.9 495.0 527.1zM504.1 523.9 498.2 523.6 502.9 527.1zM512.1 523.8 506.0 523.3 510.8 527.1zM520.1 523.8 513.9 523.0 518.6 527.0zM528.1 523.8 522.0 522.6 526.5 526.9zM536.2 523.7 530.1 522.2 534.3 526.8zM544.2 523.7 538.2 521.8 542.2 526.7zM552.3 523.7 546.4 521.4 550.0 526.6zM560.3 523.7 554.6 521.1 557.9 526.5zM568.3 523.7 562.7 520.7 565.7 526.3zM106.6 532.4 104.6 531.8 106.0 533.4zM114.5 532.4 112.4 531.9 113.9 533.5zM122.4 532.4 120.2 532.1 121.9 533.6zM130.4 532.4 128.0 532.2 129.9 533.7zM138.3 532.4 135.7 532.4 137.8 533.8zM146.2 532.4 143.5 532.5 145.8 533.9zM154.1 532.4 151.3 532.6 153.8 534.0zM162.0 532.5 159.2 532.8 161.7 534.1zM170.0 532.5 167.1 532.8 169.7 534.2zM177.9 532.5 175.0 532.9 177.6 534.2zM185.9 532.6 182.9 533.0 185.6 534.3zM193.8 532.6 190.8 533.1 193.5 534.3zM201.7 532.6 198.7 533.1 201.5 534.4zM209.7 532.7 206.6 533.2 209.5 534.5zM217.6 532.7 214.4 533.2 217.4 534.5zM225.6 532.7 222.2 533.1 225.3 534.6zM233.6 532.6 230.0 533.1 233.2 534.7zM241.5 532.6 237.8 533.0 241.1 534.7zM249.5 532.6 245.6 532.9 249.0 534.8zM257.5 532.6 253.4 532.8 256.9 534.9zM265.5 532.6 261.2 532.7 264.9 534.9zM273.4 532.6 269.1 532.7 272.8 535.0zM281.4 532.6 277.1 532.6 280.7 535.0zM289.4 532.6 285.0 532.5 288.6 535.0zM297.4 532.7 293.0 532.4 296.5 535.0zM305.3 532.7 301.0 532.4 304.5 535.0zM313.3 532.7 309.0 532.3 312.4 535.0zM321.3 532.7 317.0 532.2 320.3 535.0zM329.2 532.7 325.0 532.2 328.2 535.0zM337.2 532.8 333.0 532.1 336.2 535.0zM345.1 532.8 341.0 532.1 344.1 534.9zM353.1 532.8 349.0 532.1 352.0 534.9zM361.0 532.8 357.0 532.1 360.0 534.9zM369.0 532.8 365.0 532.1 367.9 534.9zM376.9 532.8 373.0 532.0 375.9 534.9zM384.9 532.8 381.0 532.0 383.8 534.8zM392.8 532.8 389.0 532.0 391.7 534.8zM400.7 532.8 396.9 532.1 399.7 534.8zM408.6 532.8 404.9 532.3 407.7 534.7zM416.5 532.8 412.8 532.4 415.7 534.7zM424.4 532.7 420.8 532.5 423.7 534.7zM432.3 532.7 428.7 532.6 431.7 534.7zM440.2 532.7 436.7 532.8 439.7 534.6zM448.1 532.6 444.5 532.8 447.6 534.6zM456.1 532.5 452.2 532.7 455.6 534.7zM464.1 532.3 459.8 532.5 463.5 534.8zM472.1 532.2 467.4 532.4 471.4 534.8zM480.0 532.1 475.0 532.2 479.3 534.9zM488.0 532.0 482.7 532.0 487.2 534.9zM496.1 531.9 490.5 531.7 495.1 534.9zM504.1 531.8 498.3 531.5 502.9 534.9zM512.1 531.7 506.0 531.2 510.8 534.9zM520.1 531.6 514.0 530.9 518.7 534.9zM528.1 531.6 522.0 530.5 526.5 534.8zM536.2 531.5 530.1 530.1 534.4 534.7zM544.2 531.5 538.1 529.7 542.2 534.6zM552.3 531.5 546.3 529.4 550.1 534.5zM560.3 531.5 554.4 529.0 557.9 534.3zM568.3 531.5 562.5 528.7 565.8 534.2zM106.8 540.5 105.6 538.9 105.7 540.9zM114.7 540.4 113.2 539.1 113.7 541.1zM122.6 540.4 120.7 539.3 121.7 541.2zM130.5 540.4 128.4 539.5 129.7 541.4zM138.4 540.3 136.0 539.8 137.7 541.5zM146.3 540.3 143.7 540.0 145.7 541.7zM154.2 540.3 151.4 540.2 153.7 541.8zM162.1 540.3 159.2 540.3 161.6 541.9zM170.0 540.3 167.1 540.4 169.6 542.0zM178.0 540.4 175.0 540.5 177.6 542.0zM185.9 540.4 182.9 540.6 185.5 542.1zM193.8 540.4 190.8 540.8 193.5 542.1zM201.7 540.5 198.7 540.9 201.5 542.2zM209.7 540.5 206.6 541.0 209.4 542.3zM217.6 540.5 214.5 541.0 217.4 542.3zM225.6 540.5 222.3 540.9 225.3 542.4zM233.6 540.5 230.1 540.9 233.2 542.5zM241.5 540.5 238.0 540.8 241.1 542.5zM249.5 540.5 245.8 540.7 249.0 542.6zM257.5 540.5 253.6 540.7 256.9 542.6zM265.4 540.5 261.4 540.6 264.9 542.7zM273.4 540.5 269.3 540.6 272.8 542.7zM281.4 540.5 277.3 540.5 280.7 542.7zM289.3 540.5 285.3 540.4 288.6 542.7zM297.3 540.6 293.3 540.4 296.6 542.7zM305.3 540.6 301.3 540.3 304.5 542.7zM313.2 540.6 309.3 540.3 312.4 542.7zM321.2 540.6 317.3 540.2 320.3 542.7zM329.2 540.6 325.3 540.2 328.3 542.7zM337.1 540.7 333.3 540.2 336.2 542.7zM345.1 540.7 341.2 540.2 344.2 542.7zM353.0 540.7 349.2 540.1 352.1 542.7zM361.0 540.7 357.2 540.1 360.0 542.6zM368.9 540.7 365.2 540.1 368.0 542.6zM376.9 540.7 373.2 540.1 375.9 542.6zM384.8 540.7 381.2 540.1 383.9 542.6zM392.7 540.7 389.2 540.1 391.8 542.5zM400.6 540.7 397.1 540.2 399.8 542.5zM408.6 540.6 405.1 540.3 407.8 542.5zM416.5 540.6 413.0 540.4 415.8 542.5zM424.4 540.6 420.9 540.5 423.7 542.5zM432.3 540.6 428.9 540.6 431.7 542.4zM440.2 540.5 436.8 540.7 439.7 542.4zM448.1 540.5 444.6 540.7 447.7 542.4zM456.1 540.3 452.2 540.5 455.6 542.5zM464.1 540.2 459.9 540.4 463.5 542.5zM472.1 540.1 467.5 540.2 471.4 542.6zM480.0 539.9 475.1 540.1 479.3 542.7zM488.0 539.8 482.8 539.9 487.2 542.7zM496.0 539.7 490.6 539.6 495.1 542.7zM504.1 539.6 498.3 539.3 503.0 542.7zM512.1 539.5 506.1 539.1 510.9 542.7zM520.1 539.4 514.0 538.8 518.7 542.7zM528.1 539.4 522.0 538.4 526.6 542.6zM536.2 539.3 530.0 538.0 534.4 542.5zM544.2 539.3 538.1 537.7 542.3 542.4zM552.2 539.3 546.2 537.3 550.1 542.3zM560.3 539.3 554.3 537.0 558.0 542.2zM568.3 539.3 562.4 536.7 565.9 542.1zM106.9 548.6 106.6 546.3 105.6 548.4zM114.8 548.5 114.1 546.5 113.5 548.6zM122.7 548.4 121.5 546.6 121.5 548.8zM130.6 548.3 128.9 546.9 129.5 549.0zM138.5 548.3 136.4 547.2 137.5 549.2zM146.4 548.2 144.0 547.4 145.5 549.4zM154.3 548.2 151.6 547.7 153.5 549.6zM162.2 548.1 159.2 547.9 161.5 549.7zM170.1 548.2 167.1 548.0 169.5 549.8zM178.0 548.2 175.0 548.2 177.5 549.8zM185.9 548.2 182.9 548.3 185.5 549.9zM193.8 548.3 190.8 548.4 193.4 549.9zM201.8 548.3 198.7 548.6 201.4 550.0zM209.7 548.3 206.6 548.7 209.4 550.1zM217.6 548.3 214.5 548.8 217.3 550.1zM225.6 548.4 222.4 548.7 225.3 550.2zM233.5 548.4 230.2 548.7 233.2 550.2zM241.5 548.4 238.1 548.6 241.1 550.3zM249.5 548.4 245.9 548.6 249.0 550.3zM257.5 548.4 253.8 548.5 257.0 550.4zM265.4 548.3 261.6 548.5 264.9 550.5zM273.4 548.4 269.5 548.4 272.8 550.5zM281.3 548.4 277.5 548.4 280.7 550.5zM289.3 548.4 285.5 548.4 288.7 550.5zM297.3 548.4 293.5 548.3 296.6 550.5zM305.2 548.5 301.5 548.3 304.5 550.5zM313.2 548.5 309.5 548.3 312.5 550.5zM321.2 548.5 317.5 548.2 320.4 550.5zM329.1 548.5 325.5 548.2 328.3 550.5zM337.1 548.6 333.5 548.2 336.3 550.4zM345.0 548.6 341.5 548.2 344.2 550.4zM352.9 548.6 349.5 548.2 352.2 550.4zM360.9 548.6 357.5 548.2 360.1 550.4zM368.8 548.6 365.5 548.2 368.1 550.4zM376.8 548.6 373.5 548.2 376.0 550.3zM384.7 548.6 381.5 548.2 383.9 550.3zM392.7 548.6 389.4 548.2 391.9 550.3zM400.6 548.6 397.3 548.2 399.9 550.3zM408.5 548.5 405.2 548.3 407.9 550.3zM416.4 548.5 413.2 548.4 415.8 550.3zM424.3 548.5 421.1 548.5 423.8 550.3zM432.3 548.4 429.0 548.5 431.8 550.2zM440.2 548.4 436.9 548.6 439.8 550.2zM448.1 548.3 444.7 548.6 447.7 550.2zM456.1 548.2 452.3 548.4 455.6 550.3zM464.1 548.0 460.0 548.3 463.5 550.3zM472.1 547.9 467.6 548.1 471.4 550.4zM480.0 547.8 475.2 548.0 479.3 550.5zM488.0 547.7 482.9 547.7 487.2 550.5zM496.0 547.5 490.7 547.5 495.1 550.5zM504.1 547.4 498.4 547.2 503.0 550.5zM512.1 547.3 506.1 547.0 510.9 550.5zM520.1 547.2 514.0 546.7 518.8 550.5zM528.1 547.2 522.0 546.3 526.6 550.4zM536.2 547.1 530.0 546.0 534.5 550.4zM544.2 547.1 538.0 545.6 542.3 550.3zM552.2 547.1 546.0 545.3 550.2 550.2zM560.2 547.1 554.1 544.9 558.1 550.1zM568.3 547.0 562.2 544.6 565.9 550.0zM106.9 556.7 107.3 553.9 105.5 556.0zM114.9 556.6 114.8 554.0 113.4 556.2zM122.8 556.5 122.2 554.1 121.4 556.4zM130.7 556.3 129.5 554.3 129.4 556.7zM138.6 556.2 136.8 554.6 137.4 556.9zM146.5 556.1 144.2 554.9 145.4 557.1zM154.3 556.0 151.7 555.2 153.4 557.3zM162.2 556.0 159.3 555.4 161.4 557.5zM170.1 556.0 167.2 555.6 169.4 557.6zM178.0 556.1 175.1 555.8 177.4 557.6zM186.0 556.1 183.0 556.0 185.4 557.7zM193.9 556.1 190.9 556.1 193.4 557.8zM201.8 556.1 198.8 556.3 201.4 557.8zM209.7 556.2 206.7 556.4 209.3 557.9zM217.6 556.2 214.6 556.6 217.3 557.9zM225.6 556.2 222.5 556.5 225.2 558.0zM233.5 556.2 230.3 556.5 233.2 558.0zM241.5 556.2 238.2 556.5 241.1 558.1zM249.5 556.2 246.1 556.4 249.0 558.1zM257.4 556.2 254.0 556.4 257.0 558.2zM265.4 556.2 261.9 556.4 264.9 558.2zM273.4 556.3 269.8 556.3 272.8 558.2zM281.3 556.3 277.8 556.3 280.8 558.2zM289.3 556.3 285.8 556.3 288.7 558.2zM297.2 556.3 293.8 556.3 296.6 558.2zM305.2 556.4 301.8 556.3 304.6 558.2zM313.1 556.4 309.8 556.3 312.5 558.2zM321.1 556.4 317.8 556.2 320.4 558.2zM329.0 556.4 325.8 556.2 328.4 558.2zM337.0 556.5 333.8 556.2 336.3 558.2zM344.9 556.5 341.8 556.2 344.3 558.2zM352.9 556.5 349.8 556.2 352.2 558.2zM360.8 556.5 357.7 556.2 360.2 558.1zM368.8 556.5 365.7 556.2 368.1 558.1zM376.7 556.5 373.7 556.2 376.1 558.1zM384.7 556.5 381.7 556.2 384.0 558.1zM392.6 556.5 389.7 556.3 392.0 558.1zM400.5 556.4 397.5 556.3 400.0 558.1zM408.4 556.4 405.4 556.4 407.9 558.0zM416.4 556.4 413.3 556.4 415.9 558.0zM424.3 556.3 421.2 556.4 423.9 558.0zM432.2 556.3 429.1 556.5 431.8 558.0zM440.1 556.2 437.0 556.5 439.8 558.0zM448.1 556.1 444.8 556.5 447.7 558.0zM456.1 556.0 452.4 556.3 455.6 558.1zM464.1 555.9 460.0 556.2 463.6 558.1zM472.1 555.7 467.7 556.0 471.5 558.2zM480.0 555.6 475.3 555.8 479.4 558.3zM488.0 555.5 483.0 555.6 487.3 558.3zM496.0 555.4 490.7 555.3 495.1 558.3zM504.1 555.3 498.5 555.1 503.0 558.3zM512.1 555.2 506.2 554.9 510.9 558.3zM520.1 555.1 514.0 554.6 518.8 558.3zM528.1 555.0 522.0 554.2 526.7 558.3zM536.1 554.9 529.9 553.9 534.5 558.2zM544.2 554.9 537.9 553.5 542.4 558.1zM552.2 554.9 545.9 553.2 550.3 558.0zM560.2 554.8 554.0 552.9 558.1 557.9zM568.2 554.8 562.0 552.6 566.0 557.9zM106.9 564.6 107.8 561.7 105.4 563.7zM114.9 564.6 115.3 561.7 113.4 563.9zM122.8 564.5 122.7 561.8 121.3 564.1zM130.7 564.4 130.1 561.9 129.3 564.3zM138.7 564.2 137.4 562.1 137.3 564.6zM146.6 564.1 144.8 562.3 145.3 564.8zM154.4 564.0 152.2 562.6 153.3 565.0zM162.3 564.0 159.8 562.9 161.3 565.2zM170.2 564.0 167.6 563.1 169.3 565.3zM178.1 564.0 175.4 563.3 177.3 565.3zM186.0 564.0 183.3 563.5 185.3 565.4zM193.9 564.0 191.1 563.7 193.3 565.5zM201.8 564.0 198.9 563.9 201.3 565.6zM209.7 564.0 206.8 564.1 209.3 565.6zM217.6 564.0 214.7 564.3 217.3 565.7zM225.6 564.1 222.6 564.3 225.2 565.8zM233.5 564.1 230.5 564.3 233.1 565.8zM241.5 564.1 238.4 564.3 241.1 565.8zM249.4 564.1 246.3 564.3 249.0 565.9zM257.4 564.1 254.2 564.3 257.0 565.9zM265.4 564.1 262.1 564.3 264.9 566.0zM273.3 564.1 270.0 564.3 272.8 566.0zM281.3 564.2 278.0 564.3 280.8 566.0zM289.2 564.2 286.0 564.3 288.7 566.0zM297.2 564.2 294.0 564.3 296.7 566.0zM305.1 564.3 302.0 564.2 304.6 566.0zM313.1 564.3 310.0 564.2 312.5 566.0zM321.0 564.3 318.0 564.2 320.5 566.0zM329.0 564.3 326.0 564.2 328.4 566.0zM336.9 564.3 334.0 564.2 336.4 565.9zM344.9 564.3 341.9 564.2 344.3 565.9zM352.8 564.3 349.9 564.2 352.3 565.9zM360.8 564.3 357.9 564.2 360.2 565.9zM368.7 564.3 365.9 564.3 368.2 565.9zM376.7 564.3 373.9 564.3 376.1 565.9zM384.6 564.3 381.8 564.3 384.1 565.8zM392.5 564.3 389.8 564.3 392.0 565.8zM400.5 564.3 397.7 564.3 400.0 565.8zM408.4 564.2 405.5 564.3 408.0 565.8zM416.3 564.2 413.4 564.4 415.9 565.8zM424.3 564.2 421.3 564.4 423.9 565.8zM432.2 564.1 429.2 564.4 431.9 565.8zM440.1 564.1 437.1 564.4 439.8 565.8zM448.1 564.0 444.9 564.4 447.8 565.8zM456.1 563.9 452.5 564.2 455.7 565.9zM464.1 563.7 460.1 564.1 463.6 565.9zM472.0 563.6 467.8 563.9 471.5 566.0zM480.0 563.5 475.4 563.7 479.4 566.1zM488.0 563.3 483.1 563.5 487.3 566.1zM496.0 563.2 490.8 563.3 495.2 566.1zM504.0 563.1 498.6 563.0 503.1 566.1zM512.0 563.0 506.3 562.8 511.0 566.1zM520.1 562.9 514.1 562.5 518.9 566.1zM528.1 562.8 522.0 562.2 526.7 566.1zM536.1 562.8 529.9 561.8 534.6 566.0zM544.1 562.7 537.9 561.5 542.5 566.0zM552.2 562.7 545.9 561.2 550.3 565.9zM560.2 562.6 553.9 560.9 558.2 565.8zM568.2 562.6 561.9 560.6 566.1 565.7zM106.9 572.5 108.0 569.5 105.4 571.4zM114.8 572.5 115.6 569.6 113.4 571.6zM122.8 572.4 123.2 569.6 121.3 571.7zM130.7 572.4 130.7 569.7 129.3 571.9zM138.7 572.3 138.2 569.8 137.2 572.1zM146.6 572.2 145.7 569.9 145.2 572.3zM154.5 572.1 153.2 570.0 153.1 572.5zM162.5 572.1 160.7 570.2 161.1 572.7zM170.3 572.0 168.4 570.4 169.1 572.8zM178.2 572.0 176.0 570.7 177.2 573.0zM186.1 572.0 183.7 571.0 185.2 573.1zM194.0 571.9 191.4 571.3 193.2 573.2zM201.9 571.9 199.2 571.5 201.2 573.3zM209.7 571.9 206.9 571.8 209.2 573.4zM217.6 571.9 214.7 572.0 217.2 573.5zM225.6 571.9 222.7 572.0 225.2 573.5zM233.5 571.9 230.6 572.1 233.1 573.6zM241.5 572.0 238.5 572.1 241.1 573.6zM249.4 572.0 246.4 572.1 249.0 573.6zM257.4 572.0 254.4 572.2 257.0 573.7zM265.3 572.0 262.3 572.2 264.9 573.7zM273.3 572.0 270.3 572.2 272.9 573.7zM281.2 572.1 278.2 572.2 280.8 573.7zM289.2 572.1 286.2 572.2 288.8 573.7zM297.1 572.1 294.2 572.2 296.7 573.7zM305.1 572.1 302.2 572.2 304.6 573.7zM313.0 572.2 310.2 572.2 312.6 573.7zM321.0 572.2 318.2 572.2 320.5 573.7zM328.9 572.2 326.1 572.2 328.5 573.7zM336.9 572.2 334.1 572.2 336.4 573.7zM344.8 572.2 342.1 572.2 344.4 573.7zM352.8 572.2 350.1 572.2 352.3 573.7zM360.7 572.2 358.0 572.2 360.3 573.7zM368.7 572.2 366.0 572.2 368.2 573.7zM376.6 572.2 374.0 572.2 376.2 573.7zM384.6 572.2 381.9 572.2 384.1 573.6zM392.5 572.2 389.9 572.2 392.1 573.6zM400.4 572.1 397.7 572.2 400.1 573.6zM408.4 572.1 405.6 572.3 408.0 573.6zM416.3 572.1 413.5 572.3 416.0 573.6zM424.2 572.0 421.4 572.3 423.9 573.6zM432.2 572.0 429.3 572.3 431.9 573.6zM440.1 571.9 437.2 572.3 439.9 573.6zM448.1 571.8 445.0 572.3 447.8 573.6zM456.1 571.7 452.6 572.1 455.7 573.7zM464.0 571.6 460.2 572.0 463.6 573.7zM472.0 571.4 467.9 571.8 471.5 573.8zM480.0 571.3 475.5 571.7 479.5 573.8zM488.0 571.2 483.2 571.5 487.4 573.9zM496.0 571.1 490.9 571.2 495.2 573.9zM504.0 571.0 498.6 571.0 503.1 573.9zM512.0 570.8 506.4 570.8 511.0 573.9zM520.0 570.7 514.2 570.5 518.9 573.9zM528.0 570.7 522.1 570.2 526.8 573.9zM536.1 570.6 530.0 569.8 534.7 573.8zM544.1 570.5 537.9 569.5 542.5 573.8zM552.1 570.5 545.9 569.2 550.4 573.7zM560.2 570.4 553.9 568.9 558.3 573.6zM568.2 570.4 561.9 568.6 566.1 573.5zM106.8 580.4 108.2 577.4 105.4 579.1zM114.8 580.4 115.9 577.4 113.3 579.3zM122.8 580.4 123.6 577.4 121.3 579.4zM130.7 580.4 131.3 577.5 129.2 579.6zM138.7 580.3 138.9 577.5 137.2 579.7zM146.6 580.3 146.5 577.5 145.1 579.9zM154.6 580.2 154.1 577.6 153.0 580.1zM162.5 580.2 161.7 577.6 161.0 580.2zM170.4 580.1 169.3 577.9 169.0 580.4zM178.3 580.0 176.8 578.1 177.0 580.6zM186.2 580.0 184.3 578.4 185.0 580.7zM194.1 579.9 191.8 578.8 193.1 580.9zM201.9 579.8 199.4 579.1 201.1 581.1zM209.8 579.8 207.0 579.5 209.2 581.2zM217.7 579.7 214.8 579.7 217.2 581.3zM225.6 579.8 222.8 579.8 225.1 581.3zM233.5 579.8 230.7 579.9 233.1 581.4zM241.5 579.8 238.7 579.9 241.1 581.4zM249.4 579.9 246.6 580.0 249.0 581.4zM257.3 579.9 254.6 580.1 257.0 581.4zM265.3 579.9 262.5 580.1 264.9 581.5zM273.2 579.9 270.5 580.2 272.9 581.5zM281.2 580.0 278.5 580.2 280.8 581.5zM289.1 580.0 286.4 580.2 288.8 581.5zM297.1 580.0 294.4 580.2 296.7 581.5zM305.0 580.0 302.4 580.2 304.7 581.5zM313.0 580.0 310.4 580.2 312.6 581.5zM320.9 580.0 318.3 580.2 320.6 581.5zM328.9 580.1 326.3 580.2 328.5 581.5zM336.8 580.1 334.3 580.2 336.5 581.5zM344.8 580.1 342.2 580.2 344.4 581.5zM352.7 580.1 350.2 580.2 352.4 581.5zM360.7 580.1 358.1 580.2 360.3 581.5zM368.6 580.1 366.1 580.2 368.3 581.5zM376.6 580.0 374.1 580.2 376.2 581.5zM384.5 580.0 382.0 580.2 384.2 581.4zM392.5 580.0 390.0 580.2 392.1 581.4zM400.4 580.0 397.8 580.2 400.1 581.4zM408.3 579.9 405.7 580.2 408.1 581.4zM416.3 579.9 413.6 580.2 416.0 581.4zM424.2 579.9 421.5 580.2 424.0 581.4zM432.2 579.8 429.4 580.2 431.9 581.4zM440.1 579.8 437.3 580.2 439.9 581.4zM448.0 579.7 445.1 580.2 447.8 581.4zM456.0 579.5 452.7 580.0 455.7 581.5zM464.0 579.4 460.3 579.9 463.7 581.5zM472.0 579.3 467.9 579.8 471.6 581.6zM480.0 579.1 475.6 579.6 479.5 581.6zM488.0 579.0 483.3 579.4 487.4 581.7zM496.0 578.9 491.0 579.2 495.3 581.7zM504.0 578.8 498.7 579.0 503.2 581.7zM512.0 578.7 506.5 578.8 511.1 581.7zM520.0 578.6 514.3 578.5 519.0 581.7zM528.0 578.5 522.2 578.2 526.9 581.7zM536.0 578.4 530.1 577.8 534.7 581.6zM544.1 578.4 538.0 577.5 542.6 581.6zM552.1 578.3 546.0 577.2 550.5 581.5zM560.1 578.3 553.9 576.8 558.3 581.4zM568.1 578.2 561.9 576.6 566.2 581.4zM106.8 588.3 108.5 585.2 105.4 586.9zM114.8 588.3 116.2 585.2 113.3 587.0zM122.7 588.3 124.0 585.2 121.3 587.1zM130.7 588.3 131.8 585.2 129.2 587.3zM138.7 588.3 139.5 585.2 137.1 587.4zM146.7 588.3 147.2 585.2 145.0 587.5zM154.6 588.3 155.0 585.2 153.0 587.6zM162.6 588.3 162.7 585.3 160.9 587.8zM170.5 588.2 170.1 585.5 168.9 587.9zM178.4 588.1 177.6 585.7 176.9 588.2zM186.3 588.0 184.9 586.0 184.9 588.4zM194.1 587.8 192.3 586.3 193.0 588.6zM202.0 587.7 199.7 586.7 201.0 588.8zM209.8 587.6 207.2 587.1 209.1 589.0zM217.7 587.6 214.9 587.4 217.1 589.1zM225.6 587.6 222.8 587.5 225.1 589.1zM233.5 587.7 230.8 587.6 233.1 589.1zM241.5 587.7 238.8 587.7 241.0 589.2zM249.4 587.7 246.8 587.8 249.0 589.2zM257.3 587.8 254.8 587.9 257.0 589.2zM265.2 587.8 262.7 588.0 265.0 589.2zM273.2 587.8 270.7 588.1 272.9 589.2zM281.1 587.8 278.7 588.1 280.9 589.2zM289.1 587.9 286.6 588.2 288.8 589.2zM297.0 587.9 294.6 588.2 296.8 589.3zM305.0 587.9 302.6 588.2 304.7 589.3zM312.9 587.9 310.5 588.2 312.7 589.3zM320.9 587.9 318.5 588.2 320.6 589.3zM328.8 587.9 326.5 588.2 328.6 589.3zM336.8 587.9 334.4 588.2 336.5 589.3zM344.7 587.9 342.4 588.2 344.5 589.3zM352.7 587.9 350.3 588.2 352.4 589.3zM360.6 587.9 358.3 588.2 360.4 589.3zM368.6 587.9 366.2 588.2 368.3 589.3zM376.5 587.9 374.2 588.2 376.3 589.2zM384.5 587.9 382.1 588.2 384.2 589.2zM392.4 587.9 390.0 588.2 392.2 589.2zM400.4 587.8 397.9 588.2 400.1 589.2zM408.3 587.8 405.8 588.2 408.1 589.2zM416.2 587.7 413.7 588.2 416.1 589.2zM424.2 587.7 421.6 588.2 424.0 589.2zM432.1 587.7 429.5 588.2 432.0 589.2zM440.1 587.6 437.3 588.2 439.9 589.2zM448.0 587.5 445.1 588.1 447.9 589.2zM456.0 587.4 452.8 588.0 455.8 589.3zM464.0 587.3 460.4 587.8 463.7 589.3zM472.0 587.1 468.0 587.7 471.6 589.4zM479.9 587.0 475.7 587.6 479.6 589.4zM487.9 586.9 483.4 587.4 487.5 589.5zM495.9 586.8 491.1 587.2 495.4 589.5zM503.9 586.6 498.8 586.9 503.3 589.5zM511.9 586.5 506.6 586.7 511.2 589.5zM520.0 586.4 514.4 586.5 519.0 589.5zM528.0 586.4 522.3 586.2 526.9 589.5zM536.0 586.3 530.1 585.8 534.8 589.4zM544.0 586.2 538.1 585.5 542.7 589.4zM552.1 586.1 546.0 585.2 550.5 589.3zM560.1 586.1 554.0 584.8 558.4 589.3zM568.1 586.0 561.9 584.5 566.3 589.2z" fill="#fff" stroke="#fff" stroke-width="0.25" stroke-linejoin="miter"/>
<path d="M279.6 360.4 L287.5 350.7 L295.4 343.7 L300.6 337.6 L299.7 330.6 L304.1 326.2 L313.7 323.6 L324.2 321.0 L335.6 320.1 L343.5 317.5 L354.0 316.6 L364.5 315.7 L369.7 312.2 L378.5 313.1 L389.0 314.0 L400.0 314.9 L391.3 314.3 L398.8 313.9 L408.3 313.0 L417.7 308.3 L427.1 306.4 L438.4 307.3 L451.6 305.4 L462.9 303.6 L470.4 299.8 L478.0 296.0 L485.5 298.8 L493.1 299.8 L500.6 297.3 L506.2 301.7 L511.0 304.5 L511.0 304.5 L504.4 312.0 L496.8 319.6 L489.3 325.2 L479.9 329.9 L470.4 335.6 L462.9 337.5 L455.4 338.4 L447.8 342.2 L440.3 346.9 L434.6 352.5 L425.2 356.3 L413.9 359.1 L398.8 362.0 L389.4 366.7 L389.9 366.5 L380.2 370.0 L371.5 373.5 L362.7 377.0 L352.2 379.6 L340.0 383.1 L329.5 386.6 L320.7 391.0 L312.0 398.0 L305.0 403.2 L294.5 407.6 L294.5 407.6 L290.1 396.2 L285.7 389.2 L284.9 384.0 L287.5 380.5 L296.2 380.5 L303.2 377.0 L303.2 368.2 L299.7 363.9 L296.2 361.2 L291.0 367.4 L284.0 369.1 L279.6 367.4 L279.6 360.4Z M303.2 377.0 L310.2 382.2 L318.1 381.9 L318.1 376.1 L322.5 374.4 L325.1 367.4 L327.7 361.2 M300.6 337.6 L311.1 337.6 L320.7 333.2 L329.5 330.6 L337.4 326.2 L336.5 320.5 M311.1 337.6 L314.6 345.5 L319.0 352.5 L320.7 360.4 L327.7 360.9 M329.5 330.6 L332.1 335.0 L331.2 341.1 L334.7 346.4 L335.6 350.7 L331.2 357.7 L327.7 360.9 L328.6 365.6 L332.1 370.0 L333.9 375.2 L337.4 379.6 L336.5 384.3 M337.4 326.2 L340.0 324.5 L350.5 321.0 L361.0 319.6 L365.4 317.5 L369.7 312.2 M361.0 319.6 L364.5 329.7 L366.2 338.5 L367.1 347.2 L375.0 354.2 L382.0 361.2 L389.9 366.5 M334.7 346.4 L345.2 343.7 L354.0 339.4 L361.0 342.0 L366.2 338.5 M354.0 339.9 L353.1 349.0 L347.0 354.2 L344.4 361.2 L347.0 367.4 L352.2 370.9 L352.2 379.6 M398.8 313.9 L401.7 320.5 L400.4 329.4 L394.1 333.7 L389.0 340.7 L390.9 346.9 L394.7 354.4 L398.8 362.0 M400.4 329.9 L413.9 329.9 L425.2 330.9 L429.0 325.2 L431.8 329.9 L444.1 329.9 L447.8 328.0 L454.4 331.8 L455.4 338.4 M451.6 305.8 L455.4 313.9 L459.1 320.5 L463.9 325.2 L459.1 329.9 L454.4 331.8 M337.2 291.6 L340.2 286.5 L344.9 281.8 L351.0 278.1 L350.3 282.5 L348.3 287.9 L345.9 293.9 L344.6 296.0 L340.9 294.9 L337.6 293.3Z M195.2 394.5 L203.5 391.2 L212.3 385.7 L223.3 382.4 L235.5 379.6 L234.4 386.8 L228.9 394.5 L224.4 401.1 L223.3 408.9 L216.7 409.5 L214.5 402.2 L209.0 398.9 L202.4 402.2 L198.0 400.0Z" fill="none" stroke="#000" stroke-width="1.5" stroke-linejoin="round"/>
<g transform="translate(617.4,597.9)">
<clipPath id="lc"><circle r="23.8"/></clipPath>
<circle r="23.8" fill="#1b417f"/>
<g clip-path="url(#lc)">
<path d="M-24 -24 H24 V-17 C14 -18 6 -15 -2 -16 C-10 -17 -14 -13 -24 -9Z" fill="#2d6bb0"/>
<ellipse cx="3.5" cy="-18.2" rx="5.5" ry="1.1" fill="#86b4e2"/>
<path d="M-16.63 -8.91 L-15.45 -8.91 L-14.65 -13.37 L-13.47 -4.16 L-12.18 -14.65 L-10.89 -2.97 L-9.50 -14.36 L-8.22 -4.95 L-6.93 -13.07 L-5.74 -6.73 L-4.75 -8.91 L20.00 -8.91" fill="none" stroke="#7aaade" stroke-width="0.7" stroke-linejoin="round"/>
<path d="M-24 8 C-14 3 -10 1 -5 0.6 C0 1 2 5 4 9 C8 12 12 10 12 10 L14 24 L-24 24Z" fill="#5a9ad6"/>
<path d="M-22.5 7.8 Q-13 2.5 -4.8 0.5" fill="none" stroke="#fff" stroke-width="0.8"/>
<path d="M-24 18 C-14 16 -8 10 -2 6.5 C2 6 6 10 12 13 L16 24 L-24 24Z" fill="#2f76b9"/>
<path d="M-11 17 Q-6 15 -1.8 13.3 L9 18" fill="none" stroke="#fff" stroke-width="0.8"/>
<path d="M-24 24 L-18 17 C-8 20 2 20 14 17 L24 24Z" fill="#2e75b6"/>
<path d="M11.09 8.42 L13.86 5.15 L15.84 -1.49 L14.06 -4.75 L16.83 -6.14 L18.51 -4.16 L21.78 -5.74 L20.20 -1.98 L23.17 0.99 L20.59 1.58 L22.57 7.92 L24.36 9.90 L23.56 14.85 L20.50 20.79 L17.03 22.57 L14.85 16.34 L14.06 10.89Z" fill="#fff"/>
<path d="M16.04 0.99 L18.51 -1.98 L20.00 1.98 L18.81 0.99 L19.21 5.94" fill="none" stroke="#1b417f" stroke-width="0.6"/>
</g>
<path id="arc" d="M-17.25 19.85 A26.30 26.30 0 1 1 16.91 20.15" fill="none"/>
<text font-size="5" font-weight="bold" style="fill:#2f66ad;font-family:'Liberation Sans','DejaVu Sans',sans-serif"><textPath href="#arc" textLength="127.1" lengthAdjust="spacingAndGlyphs">Regional Integrated Multi-Hazard Early Warning System</textPath></text>
<text x="0.7" y="33.6" text-anchor="middle" font-size="10.6" font-weight="bold" style="fill:#1f3d75;font-family:'Liberation Sans','DejaVu Sans',sans-serif">RIMES</text>
</g>
<rect x="10.5" y="77.5" width="653" height="568.9" fill="none" stroke="#000" stroke-width="1.1"/>
<rect x="679.40" y="563.73" width="27.20" height="67.78" fill="#4040a0"/><rect x="679.40" y="496.35" width="27.20" height="67.78" fill="#4091ff"/><rect x="679.40" y="428.98" width="27.20" height="67.78" fill="#18dcc0"/><rect x="679.40" y="361.60" width="27.20" height="67.78" fill="#70ff58"/><rect x="679.40" y="294.23" width="27.20" height="67.78" fill="#cdec35"/><rect x="679.40" y="226.85" width="27.20" height="67.78" fill="#fdaa34"/><rect x="679.40" y="159.47" width="27.20" height="67.78" fill="#ea4e10"/><rect x="679.40" y="92.10" width="27.20" height="67.78" fill="#a81402"/><rect x="679.40" y="92.50" width="27.20" height="539.00" fill="none" stroke="#000" stroke-width="1.1"/><line x1="706.60" y1="631.50" x2="711.50" y2="631.50" stroke="#000" stroke-width="1.1"/><text x="716.6" y="636.70" font-size="13.89">0</text><line x1="706.60" y1="564.12" x2="711.50" y2="564.12" stroke="#000" stroke-width="1.1"/><text x="716.6" y="569.33" font-size="13.89">5</text><line x1="706.60" y1="496.75" x2="711.50" y2="496.75" stroke="#000" stroke-width="1.1"/><text x="716.6" y="501.95" font-size="13.89">10</text><line x1="706.60" y1="429.38" x2="711.50" y2="429.38" stroke="#000" stroke-width="1.1"/><text x="716.6" y="434.57" font-size="13.89">15</text><line x1="706.60" y1="362.00" x2="711.50" y2="362.00" stroke="#000" stroke-width="1.1"/><text x="716.6" y="367.20" font-size="13.89">20</text><line x1="706.60" y1="294.62" x2="711.50" y2="294.62" stroke="#000" stroke-width="1.1"/><text x="716.6" y="299.82" font-size="13.89">25</text><line x1="706.60" y1="227.25" x2="711.50" y2="227.25" stroke="#000" stroke-width="1.1"/><text x="716.6" y="232.45" font-size="13.89">30</text><line x1="706.60" y1="159.88" x2="711.50" y2="159.88" stroke="#000" stroke-width="1.1"/><text x="716.6" y="165.07" font-size="13.89">35</text><line x1="706.60" y1="92.50" x2="711.50" y2="92.50" stroke="#000" stroke-width="1.1"/><text x="716.6" y="97.70" font-size="13.89">40</text>
<text x="337" y="713.5" text-anchor="middle" font-size="13.89">WRF model data processed and visualized by the RIMES R&amp;D Team. © 2025</text>
</svg>
</body></html>
